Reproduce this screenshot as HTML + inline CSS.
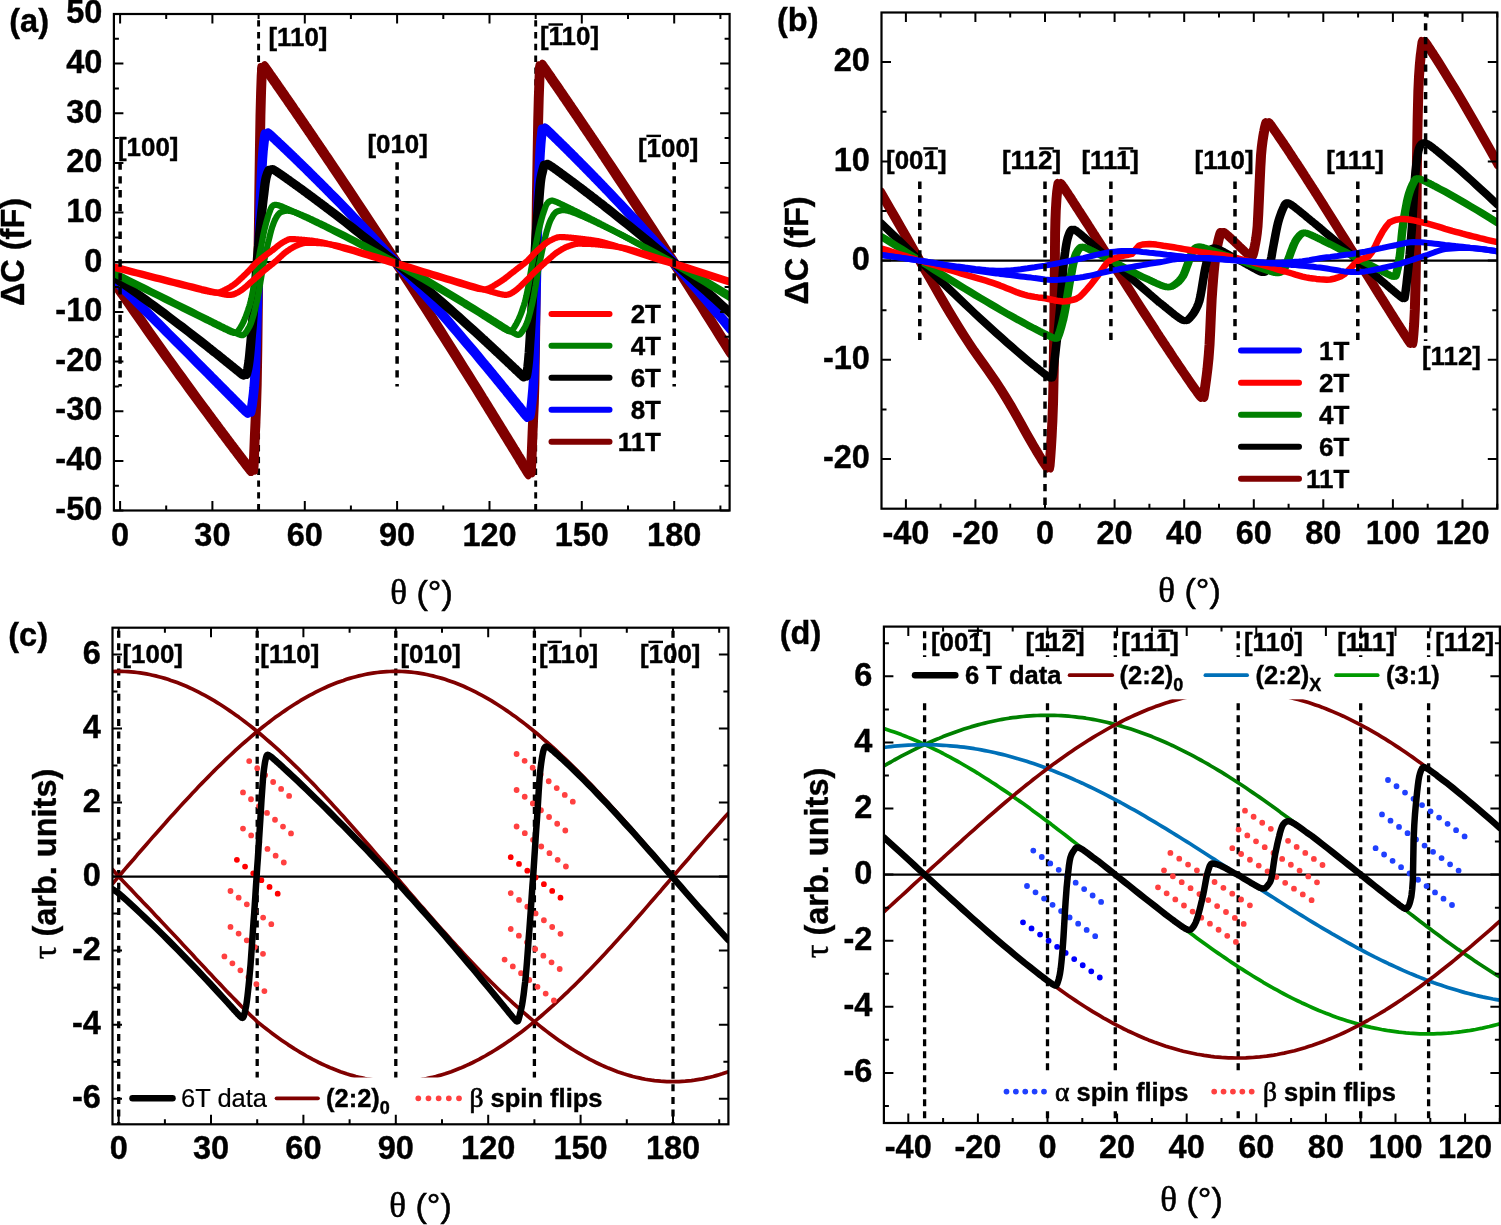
<!DOCTYPE html>
<html lang="en"><head><meta charset="utf-8"><title>Figure</title>
<style>
html,body{margin:0;padding:0;background:#fff}
body{width:1501px;height:1225px;overflow:hidden}
svg{display:block}
</style></head><body>
<svg width="1501" height="1225" viewBox="0 0 1501 1225">
<rect width="1501" height="1225" fill="#fff"/>
<defs><clipPath id="clipA"><rect x="113.9" y="14" width="615.7" height="496.5"/></clipPath><clipPath id="clipB"><rect x="881.5" y="12.5" width="615.8" height="496.2"/></clipPath><clipPath id="clipC"><rect x="112.5" y="627.7" width="615.9" height="496.6"/></clipPath><clipPath id="clipD"><rect x="883.9" y="626.6" width="616" height="496.4"/></clipPath></defs>
<line x1="113.9" y1="262.2" x2="729.6" y2="262.2" stroke="#000" stroke-width="2.2"/>
<line x1="258.6" y1="14" x2="258.6" y2="510.5" stroke="#000" stroke-width="2.9" stroke-dasharray="6.4 5.4" stroke-dashoffset="5.6"/>
<line x1="535.7" y1="14" x2="535.7" y2="510.5" stroke="#000" stroke-width="2.9" stroke-dasharray="6.4 5.4" stroke-dashoffset="5.6"/>
<g clip-path="url(#clipA)">
<path d="M113.9 285.2L118.5 291.9L123.1 298.6L127.8 305.3L132.4 311.9L137 318.5L141.6 325.1L146.2 331.6L150.8 338.1L155.5 344.7L160.1 351.1L164.7 357.6L169.3 364L173.9 370.5L178.5 376.8L183.2 383.2L187.8 389.6L192.4 395.9L197 402.2L201.6 408.5L206.3 414.7L206.9 415.5L207.5 416.4L208.1 417.2L208.7 418L209.3 418.9L209.9 419.7L210.6 420.5L210.9 420.9L211.2 421.4L211.8 422.2L212.4 423L213 423.8L213.6 424.7L214.3 425.5L214.9 426.3L215.5 427.1L216.1 428L216.7 428.8L217.3 429.6L218 430.4L218.6 431.3L219.2 432.1L219.8 432.9L220.1 433.3L220.4 433.7L221 434.6L221.6 435.4L222.3 436.2L222.9 437L223.5 437.8L224.1 438.7L224.7 439.5L225.3 440.3L226 441.1L226.6 441.9L227.2 442.8L227.8 443.6L228.4 444.4L229 445.2L229.3 445.6L229.7 446L230.3 446.8L230.9 447.7L231.5 448.5L232.1 449.3L232.7 450.1L233.3 450.9L234 451.7L234.6 452.5L235.2 453.3L235.8 454.2L236.4 455L237 455.8L237.7 456.6L238.3 457.4L238.6 457.8L238.9 458.2L239.5 459L240.1 459.8L240.7 460.6L241.3 461.4L242 462.2L242.6 463L243.2 463.9L243.8 464.7L244.4 465.5L245 466.3L245.7 467.1L246.3 467.8L246.9 468.6L247.5 469.4L247.8 469.8L248.1 470.2L248.7 471L249.4 471.7L250 472.4L250.6 473L251.2 473L251.8 466.1L252.4 451.5L253 435.6L253.7 420.4L254.3 404.9L254.9 384.5L255.5 348.6L256.1 298.3L256.7 247.6L257.1 220.8L257.4 195.3L258 151.8L258.6 115.9L259.2 93L259.8 76.2L260.4 66.1L261.1 66L261.7 66.6L262.3 67.4L262.9 68.3L263.5 69.1L264.1 70L264.7 70.8L265.4 71.7L266 72.6L266.3 73L266.6 73.5L267.2 74.3L267.8 75.2L268.4 76.1L269.1 77L269.7 77.9L270.3 78.7L270.9 79.6L271.5 80.5L272.1 81.4L272.8 82.3L273.4 83.2L274 84L274.6 84.9L275.2 85.8L275.5 86.3L275.8 86.7L276.4 87.6L277.1 88.5L277.7 89.4L278.3 90.2L278.9 91.1L279.5 92L280.1 92.9L280.8 93.8L281.4 94.7L282 95.6L282.6 96.5L283.2 97.4L283.8 98.2L284.4 99.1L284.8 99.6L285.1 100L285.7 100.9L286.3 101.8L286.9 102.7L287.5 103.6L288.1 104.5L288.8 105.4L289.4 106.3L290 107.2L290.6 108.1L291.2 109L291.8 109.8L292.5 110.7L293.1 111.6L293.7 112.5L294 113L294.3 113.4L294.9 114.3L295.5 115.2L296.1 116.1L296.8 117L297.4 117.9L298 118.8L298.6 119.7L299.2 120.6L299.8 121.5L300.5 122.4L301.1 123.3L301.7 124.2L302.3 125.1L302.9 126L303.2 126.5L303.5 126.9L304.2 127.8L304.8 128.7L305.4 129.6L306 130.5L306.6 131.4L307.2 132.3L307.8 133.2L308.5 134.1L309.1 135L309.7 135.9L310.3 136.8L310.9 137.7L311.5 138.7L312.2 139.6L312.5 140L312.8 140.5L313.4 141.4L314 142.3L314.6 143.2L315.2 144.1L315.8 145L316.5 145.9L317.1 146.8L317.7 147.7L318.3 148.6L318.9 149.5L319.5 150.5L320.2 151.4L320.8 152.3L321.4 153.2L321.7 153.6L322 154.1L322.6 155L323.2 155.9L323.9 156.8L324.5 157.7L325.1 158.6L325.7 159.6L326.3 160.5L326.9 161.4L327.5 162.3L328.2 163.2L328.8 164.1L330.9 167.3L335.6 174.2L340.2 181.1L344.8 188L349.4 194.9L354 201.9L358.6 208.8L363.3 215.8L367.9 222.8L372.5 229.8L377.1 236.9L381.7 243.9L386.3 251L391 258.1L395.6 265.2L400.2 272.3L404.8 279.5L409.4 286.6L414.1 293.8L418.7 301L423.3 308.2L427.9 315.4L432.5 322.7L437.1 330L441.8 337.2L446.4 344.5L451 351.9L455.6 359.2L460.2 366.6L464.8 373.9L469.5 381.3L474.1 388.7L478.7 396.2L483.3 403.6L483.9 404.6L484.6 405.6L485.2 406.6L485.8 407.6L486.4 408.6L487 409.6L487.6 410.6L487.9 411.1L488.2 411.6L488.9 412.6L489.5 413.6L490.1 414.6L490.7 415.6L491.3 416.6L491.9 417.6L492.6 418.6L493.2 419.6L493.8 420.6L494.4 421.6L495 422.6L495.6 423.6L496.2 424.6L496.9 425.6L497.2 426.1L497.5 426.6L498.1 427.6L498.7 428.6L499.3 429.6L499.9 430.6L500.6 431.6L501.2 432.6L501.8 433.6L502.4 434.6L503 435.6L503.6 436.6L504.3 437.6L504.9 438.6L505.5 439.6L506.1 440.6L506.4 441.1L506.7 441.6L507.3 442.6L507.9 443.6L508.6 444.6L509.2 445.6L509.8 446.6L510.4 447.6L511 448.7L511.6 449.7L512.3 450.7L512.9 451.7L513.5 452.7L514.1 453.7L514.7 454.7L515.3 455.7L515.6 456.2L516 456.7L516.6 457.7L517.2 458.7L517.8 459.7L518.4 460.8L519 461.8L519.6 462.8L520.3 463.8L520.9 464.8L521.5 465.8L522.1 466.8L522.7 467.8L523.3 468.8L524 469.8L524.6 470.8L524.9 471.3L525.2 471.8L525.8 472.8L526.4 473.8L527 474.7L527.7 475.6L528.3 476.2L528.9 474.4L529.5 462.6L530.1 448.1L530.7 432.9L531.3 418.8L532 403.3L532.6 382.3L533.2 344.9L533.8 296.6L534.1 273.1L534.4 248.3L535 198.5L535.7 156.9L536.3 121.7L536.9 98.6L537.5 81.9L538.1 67.2L538.7 64.4L539.3 64.9L540 65.7L540.6 66.5L541.2 67.4L541.8 68.2L542.4 69.1L543 70L543.4 70.4L543.7 70.9L544.3 71.8L544.9 72.7L545.5 73.5L546.1 74.4L546.7 75.3L547.4 76.2L548 77.1L548.6 78L549.2 78.9L549.8 79.8L550.4 80.7L551 81.6L551.7 82.5L552.3 83.4L552.6 83.8L552.9 84.3L553.5 85.1L554.1 86L554.7 86.9L555.4 87.8L556 88.7L556.6 89.6L557.2 90.5L557.8 91.4L558.4 92.3L559.1 93.2L559.7 94.1L560.3 95L560.9 95.9L561.5 96.8L561.8 97.3L562.1 97.7L562.7 98.6L563.4 99.5L564 100.4L564.6 101.3L565.2 102.2L565.8 103.1L566.4 104L567.1 104.9L567.7 105.9L568.3 106.8L568.9 107.7L569.5 108.6L570.1 109.5L570.7 110.4L571.1 110.8L571.4 111.3L572 112.2L572.6 113.1L573.2 114L573.8 114.9L574.4 115.8L575.1 116.7L575.7 117.6L576.3 118.5L576.9 119.5L577.5 120.4L578.1 121.3L578.8 122.2L579.4 123.1L580 124L580.3 124.5L580.6 124.9L581.2 125.8L581.8 126.7L582.4 127.6L583.1 128.6L583.7 129.5L584.3 130.4L584.9 131.3L585.5 132.2L586.1 133.1L586.8 134L587.4 135L588 135.9L588.6 136.8L589.2 137.7L589.5 138.2L589.8 138.6L590.5 139.5L591.1 140.4L591.7 141.4L592.3 142.3L592.9 143.2L593.5 144.1L594.1 145L594.8 146L595.4 146.9L596 147.8L596.6 148.7L597.2 149.6L597.8 150.5L598.5 151.5L598.8 151.9L599.1 152.4L599.7 153.3L600.3 154.2L600.9 155.2L601.5 156.1L602.2 157L602.8 157.9L603.4 158.8L604 159.8L604.6 160.7L605.2 161.6L605.8 162.5L608 165.8L612.6 172.7L617.2 179.7L621.9 186.7L626.5 193.7L631.1 200.7L635.7 207.7L640.3 214.8L644.9 221.9L649.6 229L654.2 236.1L658.8 243.2L663.4 250.3L668 257.5L672.6 264.7L677.3 271.9L681.9 279.1L686.5 286.3L691.1 293.6L695.7 300.9L700.4 308.1L705 315.5L709.6 322.8L714.2 330.1L718.8 337.5L723.4 344.9L728.1 352.3L729.6 354.7" fill="none" stroke="#800000" stroke-width="6.2" stroke-linejoin="round" stroke-linecap="round" />
<path d="M113.9 278.1L118.5 284.8L123.1 291.5L127.8 298.2L132.4 304.8L137 311.4L141.6 318L146.2 324.6L150.8 331.2L155.5 337.7L160.1 344.2L164.7 350.7L169.3 357.2L173.9 363.6L178.5 370L183.2 376.4L187.8 382.8L192.4 389.1L197 395.5L201.6 401.8L206.3 408L206.9 408.9L207.5 409.7L208.1 410.5L208.7 411.4L209.3 412.2L209.9 413L210.6 413.9L210.9 414.3L211.2 414.7L211.8 415.5L212.4 416.4L213 417.2L213.6 418L214.3 418.9L214.9 419.7L215.5 420.5L216.1 421.4L216.7 422.2L217.3 423L218 423.8L218.6 424.7L219.2 425.5L219.8 426.3L220.1 426.7L220.4 427.1L221 428L221.6 428.8L222.3 429.6L222.9 430.4L223.5 431.3L224.1 432.1L224.7 432.9L225.3 433.7L226 434.6L226.6 435.4L227.2 436.2L227.8 437L228.4 437.8L229 438.7L229.3 439.1L229.7 439.5L230.3 440.3L230.9 441.1L231.5 441.9L232.1 442.8L232.7 443.6L233.3 444.4L234 445.2L234.6 446L235.2 446.8L235.8 447.7L236.4 448.5L237 449.3L237.7 450.1L238.3 450.9L238.6 451.3L238.9 451.7L239.5 452.5L240.1 453.3L240.7 454.2L241.3 455L242 455.8L242.6 456.6L243.2 457.4L243.8 458.2L244.4 459L245 459.8L245.7 460.6L246.3 461.4L246.9 462.2L247.5 463L247.8 463.4L248.1 463.8L248.7 464.6L249.4 465.4L250 466.2L250.6 467L251.2 467.8L251.8 468.6L252.4 469.4L253 470.1L253.7 470.8L254.3 471.5L254.9 471.6L255.5 465.8L256.1 451.4L256.7 435.6L257.1 427.7L257.4 420.4L258 404.9L258.6 384.5L259.2 348.6L259.8 298.3L260.4 247.6L261.1 195.3L261.7 151.8L262.3 115.8L262.9 93L263.5 76.1L264.1 64.6L264.7 64.2L265.4 64.9L266 65.7L266.3 66.1L266.6 66.5L267.2 67.4L267.8 68.2L268.4 69.1L269.1 70L269.7 70.8L270.3 71.7L270.9 72.6L271.5 73.5L272.1 74.3L272.8 75.2L273.4 76.1L274 77L274.6 77.9L275.2 78.7L275.5 79.2L275.8 79.6L276.4 80.5L277.1 81.4L277.7 82.3L278.3 83.2L278.9 84L279.5 84.9L280.1 85.8L280.8 86.7L281.4 87.6L282 88.5L282.6 89.4L283.2 90.2L283.8 91.1L284.4 92L284.8 92.5L285.1 92.9L285.7 93.8L286.3 94.7L286.9 95.6L287.5 96.5L288.1 97.4L288.8 98.2L289.4 99.1L290 100L290.6 100.9L291.2 101.8L291.8 102.7L292.5 103.6L293.1 104.5L293.7 105.4L294 105.8L294.3 106.3L294.9 107.2L295.5 108.1L296.1 109L296.8 109.8L297.4 110.7L298 111.6L298.6 112.5L299.2 113.4L299.8 114.3L300.5 115.2L301.1 116.1L301.7 117L302.3 117.9L302.9 118.8L303.2 119.3L303.5 119.7L304.2 120.6L304.8 121.5L305.4 122.4L306 123.3L306.6 124.2L307.2 125.1L307.8 126L308.5 126.9L309.1 127.8L309.7 128.7L310.3 129.6L310.9 130.5L311.5 131.4L312.2 132.3L312.5 132.8L312.8 133.2L313.4 134.1L314 135L314.6 135.9L315.2 136.8L315.8 137.7L316.5 138.7L317.1 139.6L317.7 140.5L318.3 141.4L318.9 142.3L319.5 143.2L320.2 144.1L320.8 145L321.4 145.9L321.7 146.4L322 146.8L322.6 147.7L323.2 148.6L323.9 149.5L324.5 150.5L325.1 151.4L325.7 152.3L326.3 153.2L326.9 154.1L327.5 155L328.2 155.9L328.8 156.8L330.9 160L335.6 166.9L340.2 173.7L344.8 180.6L349.4 187.5L354 194.5L358.6 201.4L363.3 208.4L367.9 215.4L372.5 222.4L377.1 229.4L381.7 236.4L386.3 243.5L391 250.5L395.6 257.6L400.2 264.7L404.8 271.8L409.4 279L414.1 286.1L418.7 293.3L423.3 300.5L427.9 307.7L432.5 315L437.1 322.2L441.8 329.5L446.4 336.8L451 344.1L455.6 351.4L460.2 358.7L464.8 366.1L469.5 373.4L474.1 380.8L478.7 388.2L483.3 395.7L483.9 396.7L484.6 397.7L485.2 398.6L485.8 399.6L486.4 400.6L487 401.6L487.6 402.6L487.9 403.1L488.2 403.6L488.9 404.6L489.5 405.6L490.1 406.6L490.7 407.6L491.3 408.6L491.9 409.6L492.6 410.6L493.2 411.6L493.8 412.6L494.4 413.6L495 414.6L495.6 415.6L496.2 416.6L496.9 417.6L497.2 418.1L497.5 418.6L498.1 419.6L498.7 420.6L499.3 421.6L499.9 422.6L500.6 423.6L501.2 424.6L501.8 425.6L502.4 426.6L503 427.6L503.6 428.6L504.3 429.6L504.9 430.6L505.5 431.6L506.1 432.6L506.4 433.1L506.7 433.6L507.3 434.6L507.9 435.6L508.6 436.6L509.2 437.6L509.8 438.6L510.4 439.6L511 440.6L511.6 441.6L512.3 442.6L512.9 443.6L513.5 444.6L514.1 445.6L514.7 446.6L515.3 447.6L515.6 448.1L516 448.6L516.6 449.7L517.2 450.7L517.8 451.7L518.4 452.7L519 453.7L519.6 454.7L520.3 455.7L520.9 456.7L521.5 457.7L522.1 458.7L522.7 459.7L523.3 460.7L524 461.8L524.6 462.8L524.9 463.3L525.2 463.8L525.8 464.8L526.4 465.8L527 466.8L527.7 467.8L528.3 468.8L528.9 469.8L529.5 470.8L530.1 471.7L530.7 472.7L531.3 473.6L532 474.3L532.6 473.3L533.2 462.5L533.8 448.1L534.1 440.5L534.4 432.8L535 418.8L535.7 403.3L536.3 382.3L536.9 344.9L537.5 296.6L538.1 248.3L538.7 198.5L539.3 156.9L540 121.7L540.6 98.6L541.2 81.8L541.8 66.5L542.4 62.7L543 63.2L543.4 63.5L543.7 63.9L544.3 64.8L544.9 65.6L545.5 66.5L546.1 67.3L546.7 68.2L547.4 69.1L548 70L548.6 70.9L549.2 71.8L549.8 72.6L550.4 73.5L551 74.4L551.7 75.3L552.3 76.2L552.6 76.6L552.9 77.1L553.5 78L554.1 78.9L554.7 79.8L555.4 80.7L556 81.6L556.6 82.5L557.2 83.4L557.8 84.2L558.4 85.1L559.1 86L559.7 86.9L560.3 87.8L560.9 88.7L561.5 89.6L561.8 90.1L562.1 90.5L562.7 91.4L563.4 92.3L564 93.2L564.6 94.1L565.2 95L565.8 95.9L566.4 96.8L567.1 97.7L567.7 98.6L568.3 99.5L568.9 100.4L569.5 101.3L570.1 102.2L570.7 103.1L571.1 103.6L571.4 104L572 104.9L572.6 105.9L573.2 106.8L573.8 107.7L574.4 108.6L575.1 109.5L575.7 110.4L576.3 111.3L576.9 112.2L577.5 113.1L578.1 114L578.8 114.9L579.4 115.8L580 116.7L580.3 117.2L580.6 117.6L581.2 118.5L581.8 119.5L582.4 120.4L583.1 121.3L583.7 122.2L584.3 123.1L584.9 124L585.5 124.9L586.1 125.8L586.8 126.7L587.4 127.6L588 128.6L588.6 129.5L589.2 130.4L589.5 130.8L589.8 131.3L590.5 132.2L591.1 133.1L591.7 134L592.3 135L592.9 135.9L593.5 136.8L594.1 137.7L594.8 138.6L595.4 139.5L596 140.4L596.6 141.4L597.2 142.3L597.8 143.2L598.5 144.1L598.8 144.6L599.1 145L599.7 146L600.3 146.9L600.9 147.8L601.5 148.7L602.2 149.6L602.8 150.5L603.4 151.5L604 152.4L604.6 153.3L605.2 154.2L605.8 155.2L608 158.4L612.6 165.3L617.2 172.3L621.9 179.2L626.5 186.2L631.1 193.2L635.7 200.2L640.3 207.3L644.9 214.3L649.6 221.4L654.2 228.5L658.8 235.6L663.4 242.7L668 249.9L672.6 257L677.3 264.2L681.9 271.4L686.5 278.6L691.1 285.9L695.7 293.1L700.4 300.4L705 307.7L709.6 315L714.2 322.3L718.8 329.6L723.4 337L728.1 344.4L729.6 346.8" fill="none" stroke="#800000" stroke-width="6.2" stroke-linejoin="round" stroke-linecap="round" />
<path d="M113.9 281.5L118.5 286.1L123.1 290.7L127.8 295.3L132.4 299.9L137 304.5L141.6 309.2L146.2 313.8L150.8 318.4L155.5 323L160.1 327.6L164.7 332.3L169.3 336.9L173.9 341.5L178.5 346.2L183.2 350.8L187.8 355.4L192.4 360.1L197 364.7L201.6 369.4L206.3 374L206.9 374.6L207.5 375.3L208.1 375.9L208.7 376.5L209.3 377.1L209.9 377.7L210.6 378.4L210.9 378.7L211.2 379L211.8 379.6L212.4 380.2L213 380.8L213.6 381.5L214.3 382.1L214.9 382.7L215.5 383.3L216.1 383.9L216.7 384.6L217.3 385.2L218 385.8L218.6 386.4L219.2 387L219.8 387.6L220.1 388L220.4 388.3L221 388.9L221.6 389.5L222.3 390.1L222.9 390.7L223.5 391.4L224.1 392L224.7 392.6L225.3 393.2L226 393.8L226.6 394.5L227.2 395.1L227.8 395.7L228.4 396.3L229 396.9L229.3 397.3L229.7 397.6L230.3 398.2L230.9 398.8L231.5 399.4L232.1 400L232.7 400.7L233.3 401.3L234 401.9L234.6 402.5L235.2 403.1L235.8 403.7L236.4 404.4L237 405L237.7 405.6L238.3 406.2L238.6 406.5L238.9 406.8L239.5 407.4L240.1 408.1L240.7 408.7L241.3 409.3L242 409.9L242.6 410.5L243.2 411.1L243.8 411.7L244.4 412.3L245 412.8L245.7 413.4L246.3 413.9L246.9 414.4L247.5 414.7L247.8 414.8L248.1 414.7L248.7 413.5L249.4 410.9L250 407.6L250.6 403.5L251.2 398.9L251.8 393.8L252.4 387.9L253 380.3L253.7 368.6L254.3 350.9L254.9 330.6L255.5 310.9L256.1 290.1L256.7 268.6L257.1 258L257.4 247.7L258 226.2L258.6 205.6L259.2 189.1L259.8 175.5L260.4 163.9L261.1 154.6L261.7 147.6L262.3 141.9L262.9 137.2L263.5 133.6L264.1 132.4L264.7 132.4L265.4 132.8L266 133.3L266.3 133.5L266.6 133.8L267.2 134.3L267.8 134.8L268.4 135.4L269.1 136L269.7 136.5L270.3 137.1L270.9 137.7L271.5 138.2L272.1 138.8L272.8 139.4L273.4 139.9L274 140.5L274.6 141.1L275.2 141.7L275.5 142L275.8 142.3L276.4 142.8L277.1 143.4L277.7 144L278.3 144.6L278.9 145.2L279.5 145.7L280.1 146.3L280.8 146.9L281.4 147.5L282 148.1L282.6 148.7L283.2 149.3L283.8 149.8L284.4 150.4L284.8 150.7L285.1 151L285.7 151.6L286.3 152.2L286.9 152.8L287.5 153.4L288.1 154L288.8 154.6L289.4 155.2L290 155.8L290.6 156.3L291.2 156.9L291.8 157.5L292.5 158.1L293.1 158.7L293.7 159.3L294 159.6L294.3 159.9L294.9 160.5L295.5 161.1L296.1 161.7L296.8 162.3L297.4 162.9L298 163.5L298.6 164.1L299.2 164.7L299.8 165.3L300.5 165.9L301.1 166.5L301.7 167.1L302.3 167.7L302.9 168.3L303.2 168.6L303.5 168.9L304.2 169.5L304.8 170.1L305.4 170.7L306 171.3L306.6 172L307.2 172.6L307.8 173.2L308.5 173.8L309.1 174.4L309.7 175L310.3 175.6L310.9 176.2L311.5 176.8L312.2 177.4L312.5 177.7L312.8 178L313.4 178.7L314 179.3L314.6 179.9L315.2 180.5L315.8 181.1L316.5 181.7L317.1 182.3L317.7 183L318.3 183.6L318.9 184.2L319.5 184.8L320.2 185.4L320.8 186L321.4 186.7L321.7 187L322 187.3L322.6 187.9L323.2 188.5L323.9 189.1L324.5 189.7L325.1 190.4L325.7 191L326.3 191.6L326.9 192.2L327.5 192.9L328.2 193.5L328.8 194.1L330.9 196.3L335.6 201L340.2 205.7L344.8 210.5L349.4 215.3L354 220.1L358.6 224.9L363.3 229.8L367.9 234.7L372.5 239.6L377.1 244.6L381.7 249.5L386.3 254.5L391 259.6L395.6 264.6L400.2 269.7L404.8 274.8L409.4 279.9L414.1 285.1L418.7 290.3L423.3 295.5L427.9 300.8L432.5 306L437.1 311.3L441.8 316.6L446.4 322L451 327.4L455.6 332.8L460.2 338.2L464.8 343.7L469.5 349.1L474.1 354.6L478.7 360.2L483.3 365.7L483.9 366.5L484.6 367.2L485.2 368L485.8 368.7L486.4 369.5L487 370.2L487.6 371L487.9 371.3L488.2 371.7L488.9 372.5L489.5 373.2L490.1 373.9L490.7 374.7L491.3 375.4L491.9 376.2L492.6 376.9L493.2 377.7L493.8 378.4L494.4 379.2L495 380L495.6 380.7L496.2 381.5L496.9 382.2L497.2 382.6L497.5 383L498.1 383.7L498.7 384.5L499.3 385.2L499.9 386L500.6 386.7L501.2 387.5L501.8 388.3L502.4 389L503 389.8L503.6 390.5L504.3 391.3L504.9 392L505.5 392.8L506.1 393.6L506.4 393.9L506.7 394.3L507.3 395.1L507.9 395.8L508.6 396.6L509.2 397.4L509.8 398.1L510.4 398.9L511 399.7L511.6 400.4L512.3 401.2L512.9 402L513.5 402.7L514.1 403.5L514.7 404.2L515.3 405L515.6 405.4L516 405.8L516.6 406.5L517.2 407.3L517.8 408.1L518.4 408.8L519 409.6L519.6 410.4L520.3 411.1L520.9 411.9L521.5 412.6L522.1 413.4L522.7 414.2L523.3 414.9L524 415.7L524.6 416.4L524.9 416.8L525.2 417.1L525.8 417.8L526.4 418.4L527 418.8L527.7 418.5L528.3 416.1L528.9 411.8L529.5 407.3L530.1 402L530.7 395.9L531.3 389L532 379.8L532.6 364.2L533.2 340.4L533.8 315.3L534.1 302.6L534.4 289.3L535 262.4L535.7 236L536.3 209.3L536.9 187.9L537.5 171.3L538.1 157.8L538.7 148L539.3 140.7L540 134.6L540.6 129.2L541.2 127.5L541.8 127.6L542.4 128L543 128.5L543.4 128.8L543.7 129L544.3 129.6L544.9 130.2L545.5 130.8L546.1 131.3L546.7 131.9L547.4 132.5L548 133.1L548.6 133.7L549.2 134.3L549.8 134.9L550.4 135.5L551 136.1L551.7 136.7L552.3 137.3L552.6 137.6L552.9 137.9L553.5 138.5L554.1 139.1L554.7 139.7L555.4 140.3L556 140.9L556.6 141.5L557.2 142.1L557.8 142.7L558.4 143.3L559.1 143.9L559.7 144.5L560.3 145.1L560.9 145.7L561.5 146.3L561.8 146.6L562.1 146.9L562.7 147.6L563.4 148.2L564 148.8L564.6 149.4L565.2 150L565.8 150.6L566.4 151.2L567.1 151.8L567.7 152.4L568.3 153.1L568.9 153.7L569.5 154.3L570.1 154.9L570.7 155.5L571.1 155.8L571.4 156.1L572 156.8L572.6 157.4L573.2 158L573.8 158.6L574.4 159.2L575.1 159.9L575.7 160.5L576.3 161.1L576.9 161.7L577.5 162.3L578.1 163L578.8 163.6L579.4 164.2L580 164.8L580.3 165.1L580.6 165.4L581.2 166.1L581.8 166.7L582.4 167.3L583.1 167.9L583.7 168.6L584.3 169.2L584.9 169.8L585.5 170.5L586.1 171.1L586.8 171.7L587.4 172.3L588 173L588.6 173.6L589.2 174.2L589.5 174.6L589.8 174.9L590.5 175.5L591.1 176.1L591.7 176.8L592.3 177.4L592.9 178L593.5 178.7L594.1 179.3L594.8 179.9L595.4 180.6L596 181.2L596.6 181.8L597.2 182.5L597.8 183.1L598.5 183.8L598.8 184.1L599.1 184.4L599.7 185L600.3 185.7L600.9 186.3L601.5 186.9L602.2 187.6L602.8 188.2L603.4 188.9L604 189.5L604.6 190.2L605.2 190.8L605.8 191.4L608 193.7L612.6 198.6L617.2 203.4L621.9 208.3L626.5 213.3L631.1 218.2L635.7 223.2L640.3 228.3L644.9 233.3L649.6 238.4L654.2 243.5L658.8 248.6L663.4 253.7L668 258.9L672.6 264.1L677.3 269.3L681.9 274.6L686.5 279.9L691.1 285.2L695.7 290.5L700.4 295.9L705 301.3L709.6 306.7L714.2 312.2L718.8 317.6L723.4 323.1L728.1 328.7L729.6 330.5" fill="none" stroke="#0000ff" stroke-width="6.2" stroke-linejoin="round" stroke-linecap="round" />
<path d="M113.9 276.9L118.5 281.5L123.1 286.1L127.8 290.7L132.4 295.3L137 299.9L141.6 304.5L146.2 309.2L150.8 313.8L155.5 318.4L160.1 323L164.7 327.6L169.3 332.3L173.9 336.9L178.5 341.5L183.2 346.2L187.8 350.8L192.4 355.4L197 360.1L201.6 364.7L206.3 369.4L206.9 370L207.5 370.6L208.1 371.2L208.7 371.8L209.3 372.5L209.9 373.1L210.6 373.7L210.9 374L211.2 374.3L211.8 374.9L212.4 375.6L213 376.2L213.6 376.8L214.3 377.4L214.9 378L215.5 378.7L216.1 379.3L216.7 379.9L217.3 380.5L218 381.1L218.6 381.8L219.2 382.4L219.8 383L220.1 383.3L220.4 383.6L221 384.2L221.6 384.9L222.3 385.5L222.9 386.1L223.5 386.7L224.1 387.3L224.7 388L225.3 388.6L226 389.2L226.6 389.8L227.2 390.4L227.8 391.1L228.4 391.7L229 392.3L229.3 392.6L229.7 392.9L230.3 393.5L230.9 394.2L231.5 394.8L232.1 395.4L232.7 396L233.3 396.6L234 397.2L234.6 397.9L235.2 398.5L235.8 399.1L236.4 399.7L237 400.3L237.7 401L238.3 401.6L238.6 401.9L238.9 402.2L239.5 402.8L240.1 403.4L240.7 404L241.3 404.7L242 405.3L242.6 405.9L243.2 406.5L243.8 407.1L244.4 407.7L245 408.3L245.7 408.9L246.3 409.5L246.9 410.1L247.5 410.7L247.8 411L248.1 411.3L248.7 411.9L249.4 412.5L250 413L250.6 413.4L251.2 413.7L251.8 413.5L252.4 412L253 409.2L253.7 405.6L254.3 401.2L254.9 396.4L255.5 391L256.1 384.3L256.7 375.4L257.1 368.6L257.4 360.3L258 340.9L258.6 320.7L259.2 300.7L259.8 279.3L260.4 258L261.1 237L261.7 215.6L262.3 196.7L262.9 182.1L263.5 169.5L264.1 159L264.7 150.9L265.4 144.6L266 139.4L266.3 137.1L266.6 134.9L267.2 131.9L267.8 131.3L268.4 131.5L269.1 131.9L269.7 132.4L270.3 132.9L270.9 133.4L271.5 134L272.1 134.5L272.8 135.1L273.4 135.6L274 136.2L274.6 136.8L275.2 137.3L275.5 137.6L275.8 137.9L276.4 138.5L277.1 139.1L277.7 139.6L278.3 140.2L278.9 140.8L279.5 141.4L280.1 142L280.8 142.5L281.4 143.1L282 143.7L282.6 144.3L283.2 144.9L283.8 145.4L284.4 146L284.8 146.3L285.1 146.6L285.7 147.2L286.3 147.8L286.9 148.4L287.5 149L288.1 149.6L288.8 150.1L289.4 150.7L290 151.3L290.6 151.9L291.2 152.5L291.8 153.1L292.5 153.7L293.1 154.3L293.7 154.9L294 155.2L294.3 155.5L294.9 156L295.5 156.6L296.1 157.2L296.8 157.8L297.4 158.4L298 159L298.6 159.6L299.2 160.2L299.8 160.8L300.5 161.4L301.1 162L301.7 162.6L302.3 163.2L302.9 163.8L303.2 164.1L303.5 164.4L304.2 165L304.8 165.6L305.4 166.2L306 166.8L306.6 167.4L307.2 168L307.8 168.6L308.5 169.2L309.1 169.8L309.7 170.4L310.3 171L310.9 171.7L311.5 172.3L312.2 172.9L312.5 173.2L312.8 173.5L313.4 174.1L314 174.7L314.6 175.3L315.2 175.9L315.8 176.5L316.5 177.1L317.1 177.7L317.7 178.4L318.3 179L318.9 179.6L319.5 180.2L320.2 180.8L320.8 181.4L321.4 182L321.7 182.3L322 182.6L322.6 183.3L323.2 183.9L323.9 184.5L324.5 185.1L325.1 185.7L325.7 186.3L326.3 187L326.9 187.6L327.5 188.2L328.2 188.8L328.8 189.4L330.9 191.6L335.6 196.3L340.2 201L344.8 205.7L349.4 210.5L354 215.3L358.6 220.1L363.3 224.9L367.9 229.8L372.5 234.7L377.1 239.6L381.7 244.6L386.3 249.5L391 254.5L395.6 259.6L400.2 264.6L404.8 269.7L409.4 274.8L414.1 279.9L418.7 285.1L423.3 290.3L427.9 295.5L432.5 300.8L437.1 306L441.8 311.3L446.4 316.6L451 322L455.6 327.4L460.2 332.8L464.8 338.2L469.5 343.7L474.1 349.1L478.7 354.6L483.3 360.2L483.9 360.9L484.6 361.7L485.2 362.4L485.8 363.1L486.4 363.9L487 364.6L487.6 365.4L487.9 365.7L488.2 366.1L488.9 366.9L489.5 367.6L490.1 368.3L490.7 369.1L491.3 369.8L491.9 370.6L492.6 371.3L493.2 372.1L493.8 372.8L494.4 373.6L495 374.3L495.6 375.1L496.2 375.8L496.9 376.6L497.2 376.9L497.5 377.3L498.1 378.1L498.7 378.8L499.3 379.6L499.9 380.3L500.6 381.1L501.2 381.8L501.8 382.6L502.4 383.3L503 384.1L503.6 384.9L504.3 385.6L504.9 386.4L505.5 387.1L506.1 387.9L506.4 388.3L506.7 388.6L507.3 389.4L507.9 390.1L508.6 390.9L509.2 391.7L509.8 392.4L510.4 393.2L511 393.9L511.6 394.7L512.3 395.5L512.9 396.2L513.5 397L514.1 397.7L514.7 398.5L515.3 399.3L515.6 399.7L516 400L516.6 400.8L517.2 401.6L517.8 402.3L518.4 403.1L519 403.9L519.6 404.6L520.3 405.4L520.9 406.1L521.5 406.9L522.1 407.7L522.7 408.4L523.3 409.2L524 410L524.6 410.7L524.9 411.1L525.2 411.5L525.8 412.2L526.4 413L527 413.7L527.7 414.5L528.3 415.2L528.9 415.9L529.5 416.6L530.1 417.2L530.7 417.5L531.3 416.8L532 413.8L532.6 409.5L533.2 404.7L533.8 399L534.1 395.9L534.4 392.6L535 384.8L535.7 373.4L536.3 352.9L536.9 327.6L537.5 302.6L538.1 275.8L538.7 249.3L539.3 222.4L540 197.6L540.6 179.2L541.2 164.1L541.8 152.5L542.4 144.1L543 137.5L543.4 134.5L543.7 131.5L544.3 127.1L544.9 126.4L545.5 126.6L546.1 127.1L546.7 127.6L547.4 128.1L548 128.7L548.6 129.3L549.2 129.9L549.8 130.4L550.4 131L551 131.6L551.7 132.2L552.3 132.8L552.6 133.1L552.9 133.4L553.5 134L554.1 134.6L554.7 135.2L555.4 135.8L556 136.4L556.6 137L557.2 137.6L557.8 138.2L558.4 138.8L559.1 139.4L559.7 140L560.3 140.6L560.9 141.2L561.5 141.8L561.8 142.1L562.1 142.4L562.7 143L563.4 143.6L564 144.2L564.6 144.8L565.2 145.4L565.8 146L566.4 146.6L567.1 147.2L567.7 147.9L568.3 148.5L568.9 149.1L569.5 149.7L570.1 150.3L570.7 150.9L571.1 151.2L571.4 151.5L572 152.1L572.6 152.8L573.2 153.4L573.8 154L574.4 154.6L575.1 155.2L575.7 155.8L576.3 156.4L576.9 157.1L577.5 157.7L578.1 158.3L578.8 158.9L579.4 159.5L580 160.2L580.3 160.5L580.6 160.8L581.2 161.4L581.8 162L582.4 162.6L583.1 163.3L583.7 163.9L584.3 164.5L584.9 165.1L585.5 165.8L586.1 166.4L586.8 167L587.4 167.6L588 168.3L588.6 168.9L589.2 169.5L589.5 169.8L589.8 170.1L590.5 170.8L591.1 171.4L591.7 172L592.3 172.7L592.9 173.3L593.5 173.9L594.1 174.6L594.8 175.2L595.4 175.8L596 176.4L596.6 177.1L597.2 177.7L597.8 178.3L598.5 179L598.8 179.3L599.1 179.6L599.7 180.3L600.3 180.9L600.9 181.5L601.5 182.2L602.2 182.8L602.8 183.4L603.4 184.1L604 184.7L604.6 185.3L605.2 186L605.8 186.6L608 188.9L612.6 193.7L617.2 198.6L621.9 203.4L626.5 208.3L631.1 213.3L635.7 218.2L640.3 223.2L644.9 228.3L649.6 233.3L654.2 238.4L658.8 243.5L663.4 248.6L668 253.7L672.6 258.9L677.3 264.1L681.9 269.3L686.5 274.6L691.1 279.9L695.7 285.2L700.4 290.5L705 295.9L709.6 301.3L714.2 306.7L718.8 312.2L723.4 317.6L728.1 323.1L729.6 325" fill="none" stroke="#0000ff" stroke-width="6.2" stroke-linejoin="round" stroke-linecap="round" />
<path d="M113.9 278.7L118.5 281.9L123.1 285.1L127.8 288.4L132.4 291.7L137 295L141.6 298.4L146.2 301.7L150.8 305.1L155.5 308.5L160.1 311.9L164.7 315.4L169.3 318.8L173.9 322.3L178.5 325.8L183.2 329.4L187.8 332.9L192.4 336.5L197 340.1L201.6 343.7L206.3 347.4L206.9 347.9L207.5 348.3L208.1 348.8L208.7 349.3L209.3 349.8L209.9 350.3L210.6 350.8L210.9 351L211.2 351.3L211.8 351.8L212.4 352.3L213 352.8L213.6 353.2L214.3 353.7L214.9 354.2L215.5 354.7L216.1 355.2L216.7 355.7L217.3 356.2L218 356.7L218.6 357.2L219.2 357.7L219.8 358.2L220.1 358.4L220.4 358.7L221 359.2L221.6 359.7L222.3 360.2L222.9 360.7L223.5 361.2L224.1 361.7L224.7 362.2L225.3 362.7L226 363.2L226.6 363.7L227.2 364.2L227.8 364.7L228.4 365.2L229 365.6L229.3 365.9L229.7 366.1L230.3 366.6L230.9 367.1L231.5 367.6L232.1 368.1L232.7 368.6L233.3 369.1L234 369.6L234.6 370.1L235.2 370.6L235.8 371.1L236.4 371.6L237 372.1L237.7 372.6L238.3 373.1L238.6 373.4L238.9 373.6L239.5 374.1L240.1 374.6L240.7 375L241.3 375.5L242 375.9L242.6 376.3L243.2 376.6L243.8 376.6L244.4 376.1L245 374.3L245.7 371.6L246.3 368.6L246.9 365.1L247.5 360.8L247.8 358.1L248.1 355.2L248.7 348.7L249.4 341.7L250 334.5L250.6 327.4L251.2 320L251.8 312.3L252.4 304.5L253 296.7L253.7 288.6L254.3 280.2L254.9 271.9L255.5 264L256.1 256.4L256.7 249.1L257.1 245.5L257.4 242L258 235.1L258.6 228.5L259.2 222.2L259.8 216L260.4 210.1L261.1 204.5L261.7 199.1L262.3 193.6L262.9 188.3L263.5 183.6L264.1 180L264.7 177.2L265.4 175L266 173.2L266.3 172.3L266.6 171.6L267.2 170.4L267.8 169.4L268.4 168.9L269.1 168.8L269.7 168.9L270.3 169.1L270.9 169.4L271.5 169.8L272.1 170.1L272.8 170.5L273.4 170.9L274 171.3L274.6 171.7L275.2 172.1L275.5 172.3L275.8 172.5L276.4 172.9L277.1 173.4L277.7 173.8L278.3 174.2L278.9 174.6L279.5 175.1L280.1 175.5L280.8 175.9L281.4 176.4L282 176.8L282.6 177.2L283.2 177.6L283.8 178.1L284.4 178.5L284.8 178.7L285.1 179L285.7 179.4L286.3 179.8L286.9 180.3L287.5 180.7L288.1 181.1L288.8 181.6L289.4 182L290 182.5L290.6 182.9L291.2 183.3L291.8 183.8L292.5 184.2L293.1 184.7L293.7 185.1L294 185.3L294.3 185.6L294.9 186L295.5 186.5L296.1 186.9L296.8 187.3L297.4 187.8L298 188.2L298.6 188.7L299.2 189.1L299.8 189.6L300.5 190L301.1 190.5L301.7 190.9L302.3 191.4L302.9 191.8L303.2 192.1L303.5 192.3L304.2 192.7L304.8 193.2L305.4 193.6L306 194.1L306.6 194.5L307.2 195L307.8 195.5L308.5 195.9L309.1 196.4L309.7 196.8L310.3 197.3L310.9 197.7L311.5 198.2L312.2 198.6L312.5 198.9L312.8 199.1L313.4 199.6L314 200L314.6 200.5L315.2 200.9L315.8 201.4L316.5 201.9L317.1 202.3L317.7 202.8L318.3 203.2L318.9 203.7L319.5 204.2L320.2 204.6L320.8 205.1L321.4 205.5L321.7 205.8L322 206L322.6 206.5L323.2 206.9L323.9 207.4L324.5 207.9L325.1 208.3L325.7 208.8L326.3 209.3L326.9 209.7L327.5 210.2L328.2 210.7L328.8 211.1L330.9 212.8L335.6 216.3L340.2 219.9L344.8 223.4L349.4 227.1L354 230.7L358.6 234.3L363.3 238L367.9 241.7L372.5 245.4L377.1 249.1L381.7 252.9L386.3 256.7L391 260.5L395.6 264.3L400.2 268.2L404.8 272L409.4 275.9L414.1 279.8L418.7 283.8L423.3 287.7L427.9 291.7L432.5 295.7L437.1 299.7L441.8 303.8L446.4 307.9L451 312L455.6 316.1L460.2 320.2L464.8 324.4L469.5 328.6L474.1 332.8L478.7 337L483.3 341.2L483.9 341.8L484.6 342.4L485.2 342.9L485.8 343.5L486.4 344.1L487 344.7L487.6 345.2L487.9 345.5L488.2 345.8L488.9 346.4L489.5 346.9L490.1 347.5L490.7 348.1L491.3 348.7L491.9 349.2L492.6 349.8L493.2 350.4L493.8 351L494.4 351.5L495 352.1L495.6 352.7L496.2 353.3L496.9 353.8L497.2 354.1L497.5 354.4L498.1 355L498.7 355.6L499.3 356.1L499.9 356.7L500.6 357.3L501.2 357.9L501.8 358.5L502.4 359L503 359.6L503.6 360.2L504.3 360.8L504.9 361.3L505.5 361.9L506.1 362.5L506.4 362.8L506.7 363.1L507.3 363.7L507.9 364.3L508.6 364.8L509.2 365.4L509.8 366L510.4 366.6L511 367.2L511.6 367.8L512.3 368.3L512.9 368.9L513.5 369.5L514.1 370.1L514.7 370.7L515.3 371.3L515.6 371.5L516 371.8L516.6 372.4L517.2 373L517.8 373.6L518.4 374.1L519 374.7L519.6 375.3L520.3 375.9L520.9 376.4L521.5 377L522.1 377.5L522.7 378L523.3 378.4L524 378.5L524.6 377.8L524.9 376.7L525.2 375L525.8 371L526.4 366.4L527 360.5L527.7 352.5L528.3 343.2L528.9 333.5L529.5 323.6L530.1 313.3L530.7 302.6L531.3 291.8L532 280.5L532.6 269.2L533.2 258.6L533.8 248.6L534.1 243.8L534.4 239L535 229.9L535.7 221.2L536.3 213L536.9 205.2L537.5 197.8L538.1 190.3L538.7 183.8L539.3 178.9L540 175.5L540.6 172.7L541.2 170.3L541.8 168L542.4 165.8L543 164.3L543.4 163.9L543.7 163.7L544.3 163.6L544.9 163.8L545.5 164.1L546.1 164.4L546.7 164.8L547.4 165.2L548 165.6L548.6 166L549.2 166.4L549.8 166.8L550.4 167.3L551 167.7L551.7 168.1L552.3 168.6L552.6 168.8L552.9 169L553.5 169.4L554.1 169.9L554.7 170.3L555.4 170.8L556 171.2L556.6 171.7L557.2 172.1L557.8 172.6L558.4 173L559.1 173.5L559.7 173.9L560.3 174.4L560.9 174.8L561.5 175.3L561.8 175.5L562.1 175.7L562.7 176.2L563.4 176.6L564 177.1L564.6 177.5L565.2 178L565.8 178.4L566.4 178.9L567.1 179.4L567.7 179.8L568.3 180.3L568.9 180.7L569.5 181.2L570.1 181.6L570.7 182.1L571.1 182.3L571.4 182.6L572 183L572.6 183.5L573.2 183.9L573.8 184.4L574.4 184.9L575.1 185.3L575.7 185.8L576.3 186.3L576.9 186.7L577.5 187.2L578.1 187.6L578.8 188.1L579.4 188.6L580 189L580.3 189.3L580.6 189.5L581.2 190L581.8 190.4L582.4 190.9L583.1 191.4L583.7 191.8L584.3 192.3L584.9 192.8L585.5 193.3L586.1 193.7L586.8 194.2L587.4 194.7L588 195.1L588.6 195.6L589.2 196.1L589.5 196.3L589.8 196.6L590.5 197L591.1 197.5L591.7 198L592.3 198.5L592.9 198.9L593.5 199.4L594.1 199.9L594.8 200.4L595.4 200.8L596 201.3L596.6 201.8L597.2 202.3L597.8 202.7L598.5 203.2L598.8 203.5L599.1 203.7L599.7 204.2L600.3 204.7L600.9 205.1L601.5 205.6L602.2 206.1L602.8 206.6L603.4 207.1L604 207.5L604.6 208L605.2 208.5L605.8 209L608 210.7L612.6 214.3L617.2 218L621.9 221.7L626.5 225.4L631.1 229.1L635.7 232.9L640.3 236.7L644.9 240.5L649.6 244.3L654.2 248.2L658.8 252L663.4 255.9L668 259.8L672.6 263.8L677.3 267.7L681.9 271.7L686.5 275.7L691.1 279.8L695.7 283.8L700.4 287.9L705 292L709.6 296.1L714.2 300.2L718.8 304.4L723.4 308.6L728.1 312.8L729.6 314.2" fill="none" stroke="#000" stroke-width="6.2" stroke-linejoin="round" stroke-linecap="round" />
<path d="M113.9 275.7L118.5 278.9L123.1 282.1L127.8 285.4L132.4 288.6L137 291.9L141.6 295.2L146.2 298.6L150.8 301.9L155.5 305.3L160.1 308.7L164.7 312.1L169.3 315.6L173.9 319.1L178.5 322.6L183.2 326.1L187.8 329.6L192.4 333.2L197 336.7L201.6 340.3L206.3 344L206.9 344.5L207.5 344.9L208.1 345.4L208.7 345.9L209.3 346.4L209.9 346.9L210.6 347.4L210.9 347.6L211.2 347.9L211.8 348.3L212.4 348.8L213 349.3L213.6 349.8L214.3 350.3L214.9 350.8L215.5 351.3L216.1 351.8L216.7 352.3L217.3 352.8L218 353.2L218.6 353.7L219.2 354.2L219.8 354.7L220.1 355L220.4 355.2L221 355.7L221.6 356.2L222.3 356.7L222.9 357.2L223.5 357.7L224.1 358.2L224.7 358.7L225.3 359.2L226 359.7L226.6 360.2L227.2 360.7L227.8 361.2L228.4 361.7L229 362.2L229.3 362.4L229.7 362.7L230.3 363.2L230.9 363.6L231.5 364.1L232.1 364.6L232.7 365.1L233.3 365.6L234 366.1L234.6 366.6L235.2 367.1L235.8 367.6L236.4 368.1L237 368.6L237.7 369.1L238.3 369.6L238.6 369.9L238.9 370.1L239.5 370.6L240.1 371.1L240.7 371.6L241.3 372.1L242 372.6L242.6 373.1L243.2 373.5L243.8 374L244.4 374.5L245 374.9L245.7 375.3L246.3 375.6L246.9 375.8L247.5 375.4L247.8 374.9L248.1 374L248.7 371.5L249.4 368.6L250 365.1L250.6 360.7L251.2 355.2L251.8 348.7L252.4 341.7L253 334.5L253.7 327.4L254.3 320L254.9 312.3L255.5 304.5L256.1 296.7L256.7 288.6L257.1 284.4L257.4 280.2L258 271.9L258.6 264L259.2 256.4L259.8 249.1L260.4 242L261.1 235.1L261.7 228.5L262.3 222.2L262.9 216L263.5 210.1L264.1 204.5L264.7 199.1L265.4 193.6L266 188.3L266.3 185.9L266.6 183.6L267.2 179.9L267.8 177.2L268.4 174.9L269.1 173.1L269.7 171.4L270.3 170.1L270.9 169L271.5 168.3L272.1 168.1L272.8 168.1L273.4 168.3L274 168.6L274.6 168.9L275.2 169.3L275.5 169.5L275.8 169.7L276.4 170.1L277.1 170.4L277.7 170.8L278.3 171.3L278.9 171.7L279.5 172.1L280.1 172.5L280.8 172.9L281.4 173.3L282 173.8L282.6 174.2L283.2 174.6L283.8 175L284.4 175.5L284.8 175.7L285.1 175.9L285.7 176.3L286.3 176.8L286.9 177.2L287.5 177.6L288.1 178.1L288.8 178.5L289.4 178.9L290 179.4L290.6 179.8L291.2 180.3L291.8 180.7L292.5 181.1L293.1 181.6L293.7 182L294 182.2L294.3 182.5L294.9 182.9L295.5 183.3L296.1 183.8L296.8 184.2L297.4 184.7L298 185.1L298.6 185.6L299.2 186L299.8 186.4L300.5 186.9L301.1 187.3L301.7 187.8L302.3 188.2L302.9 188.7L303.2 188.9L303.5 189.1L304.2 189.6L304.8 190L305.4 190.5L306 190.9L306.6 191.4L307.2 191.8L307.8 192.3L308.5 192.7L309.1 193.2L309.7 193.6L310.3 194.1L310.9 194.5L311.5 195L312.2 195.5L312.5 195.7L312.8 195.9L313.4 196.4L314 196.8L314.6 197.3L315.2 197.7L315.8 198.2L316.5 198.6L317.1 199.1L317.7 199.6L318.3 200L318.9 200.5L319.5 200.9L320.2 201.4L320.8 201.9L321.4 202.3L321.7 202.5L322 202.8L322.6 203.2L323.2 203.7L323.9 204.2L324.5 204.6L325.1 205.1L325.7 205.5L326.3 206L326.9 206.5L327.5 206.9L328.2 207.4L328.8 207.9L330.9 209.5L335.6 213L340.2 216.5L344.8 220.1L349.4 223.7L354 227.3L358.6 230.9L363.3 234.6L367.9 238.2L372.5 241.9L377.1 245.6L381.7 249.4L386.3 253.1L391 256.9L395.6 260.7L400.2 264.6L404.8 268.4L409.4 272.3L414.1 276.2L418.7 280.1L423.3 284L427.9 288L432.5 292L437.1 296L441.8 300L446.4 304.1L451 308.1L455.6 312.2L460.2 316.4L464.8 320.5L469.5 324.7L474.1 328.8L478.7 333L483.3 337.3L483.9 337.8L484.6 338.4L485.2 339L485.8 339.5L486.4 340.1L487 340.7L487.6 341.2L487.9 341.5L488.2 341.8L488.9 342.4L489.5 342.9L490.1 343.5L490.7 344.1L491.3 344.7L491.9 345.2L492.6 345.8L493.2 346.4L493.8 346.9L494.4 347.5L495 348.1L495.6 348.7L496.2 349.2L496.9 349.8L497.2 350.1L497.5 350.4L498.1 351L498.7 351.5L499.3 352.1L499.9 352.7L500.6 353.3L501.2 353.8L501.8 354.4L502.4 355L503 355.6L503.6 356.1L504.3 356.7L504.9 357.3L505.5 357.9L506.1 358.4L506.4 358.7L506.7 359L507.3 359.6L507.9 360.2L508.6 360.8L509.2 361.3L509.8 361.9L510.4 362.5L511 363.1L511.6 363.7L512.3 364.3L512.9 364.8L513.5 365.4L514.1 366L514.7 366.6L515.3 367.2L515.6 367.5L516 367.7L516.6 368.3L517.2 368.9L517.8 369.5L518.4 370.1L519 370.7L519.6 371.2L520.3 371.8L520.9 372.4L521.5 373L522.1 373.5L522.7 374.1L523.3 374.7L524 375.2L524.6 375.8L524.9 376.1L525.2 376.3L525.8 376.8L526.4 377.2L527 377.5L527.7 377L528.3 374.7L528.9 370.9L529.5 366.4L530.1 360.5L530.7 352.5L531.3 343.2L532 333.5L532.6 323.6L533.2 313.3L533.8 302.6L534.1 297.3L534.4 291.8L535 280.5L535.7 269.2L536.3 258.6L536.9 248.6L537.5 239L538.1 229.9L538.7 221.2L539.3 213L540 205.2L540.6 197.8L541.2 190.3L541.8 183.7L542.4 178.9L543 175.5L543.4 174L543.7 172.7L544.3 170.3L544.9 167.9L545.5 165.6L546.1 163.9L546.7 163L547.4 162.8L548 163L548.6 163.2L549.2 163.5L549.8 163.9L550.4 164.3L551 164.7L551.7 165.1L552.3 165.5L552.6 165.7L552.9 165.9L553.5 166.4L554.1 166.8L554.7 167.2L555.4 167.7L556 168.1L556.6 168.5L557.2 169L557.8 169.4L558.4 169.9L559.1 170.3L559.7 170.8L560.3 171.2L560.9 171.7L561.5 172.1L561.8 172.3L562.1 172.6L562.7 173L563.4 173.4L564 173.9L564.6 174.4L565.2 174.8L565.8 175.3L566.4 175.7L567.1 176.2L567.7 176.6L568.3 177.1L568.9 177.5L569.5 178L570.1 178.4L570.7 178.9L571.1 179.1L571.4 179.3L572 179.8L572.6 180.3L573.2 180.7L573.8 181.2L574.4 181.6L575.1 182.1L575.7 182.6L576.3 183L576.9 183.5L577.5 183.9L578.1 184.4L578.8 184.9L579.4 185.3L580 185.8L580.3 186L580.6 186.3L581.2 186.7L581.8 187.2L582.4 187.6L583.1 188.1L583.7 188.6L584.3 189L584.9 189.5L585.5 190L586.1 190.4L586.8 190.9L587.4 191.4L588 191.8L588.6 192.3L589.2 192.8L589.5 193L589.8 193.3L590.5 193.7L591.1 194.2L591.7 194.7L592.3 195.1L592.9 195.6L593.5 196.1L594.1 196.6L594.8 197L595.4 197.5L596 198L596.6 198.5L597.2 198.9L597.8 199.4L598.5 199.9L598.8 200.1L599.1 200.4L599.7 200.8L600.3 201.3L600.9 201.8L601.5 202.3L602.2 202.7L602.8 203.2L603.4 203.7L604 204.2L604.6 204.7L605.2 205.1L605.8 205.6L608 207.3L612.6 210.9L617.2 214.6L621.9 218.2L626.5 221.9L631.1 225.7L635.7 229.4L640.3 233.2L644.9 236.9L649.6 240.7L654.2 244.6L658.8 248.4L663.4 252.3L668 256.2L672.6 260.1L677.3 264L681.9 268L686.5 272L691.1 276L695.7 280L700.4 284.1L705 288.2L709.6 292.3L714.2 296.4L718.8 300.5L723.4 304.7L728.1 308.9L729.6 310.3" fill="none" stroke="#000" stroke-width="6.2" stroke-linejoin="round" stroke-linecap="round" />
<path d="M113.9 274L118.5 276.3L123.1 278.6L127.8 280.9L132.4 283.3L137 285.6L141.6 287.9L146.2 290.2L150.8 292.5L155.5 294.8L160.1 297.1L164.7 299.4L169.3 301.7L173.9 304L178.5 306.3L183.2 308.6L187.8 310.9L192.4 313.2L197 315.5L201.6 317.8L206.3 320.1L206.9 320.4L207.5 320.7L208.1 321L208.7 321.3L209.3 321.6L209.9 321.9L210.6 322.2L210.9 322.4L211.2 322.5L211.8 322.8L212.4 323.1L213 323.5L213.6 323.8L214.3 324.1L214.9 324.4L215.5 324.7L216.1 325L216.7 325.3L217.3 325.6L218 325.9L218.6 326.2L219.2 326.5L219.8 326.8L220.1 326.9L220.4 327.1L221 327.4L221.6 327.7L222.3 328L222.9 328.3L223.5 328.6L224.1 328.9L224.7 329.2L225.3 329.4L226 329.7L226.6 330L227.2 330.3L227.8 330.6L228.4 330.9L229 331.2L229.3 331.3L229.7 331.4L230.3 331.7L230.9 331.9L231.5 332.2L232.1 332.4L232.7 332.6L233.3 332.8L234 333L234.6 333L235.2 333L235.8 332.9L236.4 332.7L237 332.2L237.7 331.5L238.3 330.8L238.6 330.3L238.9 329.9L239.5 329L240.1 328L240.7 327L241.3 325.9L242 324.8L242.6 323.6L243.2 322.4L243.8 321.1L244.4 319.7L245 318.2L245.7 316.7L246.3 315.1L246.9 313.4L247.5 311.7L247.8 310.8L248.1 309.9L248.7 307.9L249.4 305.9L250 303.8L250.6 301.5L251.2 299.1L251.8 296.4L252.4 293.4L253 290.2L253.7 286.8L254.3 283.2L254.9 279.6L255.5 276L256.1 272.4L256.7 268.9L257.1 267.1L257.4 265.5L258 262.2L258.6 259.1L259.2 256L259.8 252.8L260.4 249.6L261.1 246.4L261.7 243.3L262.3 240.2L262.9 237.2L263.5 234.2L264.1 231.4L264.7 228.6L265.4 226.1L266 223.6L266.3 222.5L266.6 221.4L267.2 219.3L267.8 217.2L268.4 215.2L269.1 213.3L269.7 211.6L270.3 209.9L270.9 208.5L271.5 207.3L272.1 206.4L272.8 205.8L273.4 205.3L274 205.1L274.6 204.9L275.2 204.8L275.5 204.8L275.8 204.8L276.4 204.9L277.1 205L277.7 205.1L278.3 205.3L278.9 205.4L279.5 205.7L280.1 205.9L280.8 206.1L281.4 206.3L282 206.6L282.6 206.8L283.2 207.1L283.8 207.4L284.4 207.6L284.8 207.7L285.1 207.9L285.7 208.1L286.3 208.4L286.9 208.7L287.5 209L288.1 209.2L288.8 209.5L289.4 209.8L290 210.1L290.6 210.3L291.2 210.6L291.8 210.9L292.5 211.2L293.1 211.5L293.7 211.8L294 211.9L294.3 212L294.9 212.3L295.5 212.6L296.1 212.9L296.8 213.2L297.4 213.5L298 213.8L298.6 214L299.2 214.3L299.8 214.6L300.5 214.9L301.1 215.2L301.7 215.5L302.3 215.8L302.9 216.1L303.2 216.2L303.5 216.4L304.2 216.7L304.8 217L305.4 217.3L306 217.5L306.6 217.8L307.2 218.1L307.8 218.4L308.5 218.7L309.1 219L309.7 219.3L310.3 219.6L310.9 219.9L311.5 220.2L312.2 220.5L312.5 220.7L312.8 220.8L313.4 221.1L314 221.4L314.6 221.7L315.2 222L315.8 222.3L316.5 222.6L317.1 222.9L317.7 223.2L318.3 223.5L318.9 223.8L319.5 224.1L320.2 224.4L320.8 224.7L321.4 225L321.7 225.2L322 225.3L322.6 225.6L323.2 225.9L323.9 226.2L324.5 226.5L325.1 226.8L325.7 227.1L326.3 227.5L326.9 227.8L327.5 228.1L328.2 228.4L328.8 228.7L330.9 229.8L335.6 232.1L340.2 234.4L344.8 236.8L349.4 239.2L354 241.6L358.6 244L363.3 246.4L367.9 248.9L372.5 251.3L377.1 253.8L381.7 256.3L386.3 258.8L391 261.4L395.6 263.9L400.2 266.5L404.8 269.1L409.4 271.7L414.1 274.4L418.7 277L423.3 279.7L427.9 282.4L432.5 285.1L437.1 287.8L441.8 290.5L446.4 293.3L451 296L455.6 298.8L460.2 301.6L464.8 304.5L469.5 307.3L474.1 310.1L478.7 313L483.3 315.9L483.9 316.3L484.6 316.7L485.2 317.1L485.8 317.4L486.4 317.8L487 318.2L487.6 318.6L487.9 318.8L488.2 319L488.9 319.4L489.5 319.8L490.1 320.2L490.7 320.5L491.3 320.9L491.9 321.3L492.6 321.7L493.2 322.1L493.8 322.5L494.4 322.9L495 323.2L495.6 323.6L496.2 324L496.9 324.4L497.2 324.6L497.5 324.8L498.1 325.2L498.7 325.6L499.3 325.9L499.9 326.3L500.6 326.7L501.2 327.1L501.8 327.5L502.4 327.8L503 328.2L503.6 328.6L504.3 328.9L504.9 329.3L505.5 329.6L506.1 330L506.4 330.1L506.7 330.3L507.3 330.6L507.9 330.9L508.6 331.1L509.2 331.3L509.8 331.4L510.4 331.4L511 331.2L511.6 330.8L512.3 330.2L512.9 329.4L513.5 328.5L514.1 327.6L514.7 326.6L515.3 325.6L515.6 325L516 324.5L516.6 323.4L517.2 322.2L517.8 321L518.4 319.8L519 318.4L519.6 317L520.3 315.5L520.9 313.9L521.5 312.3L522.1 310.6L522.7 308.8L523.3 306.9L524 304.9L524.6 302.8L524.9 301.8L525.2 300.7L525.8 298.3L526.4 295.8L527 292.9L527.7 289.8L528.3 286.5L528.9 283L529.5 279.4L530.1 275.8L530.7 272.2L531.3 268.6L532 265.1L532.6 261.8L533.2 258.7L533.8 255.5L534.1 253.9L534.4 252.3L535 249.1L535.7 246L536.3 242.8L536.9 239.7L537.5 236.6L538.1 233.6L538.7 230.7L539.3 227.9L540 225.2L540.6 222.7L541.2 220.4L541.8 218.2L542.4 216.1L543 214L543.4 213L543.7 212.1L544.3 210.2L544.9 208.4L545.5 206.8L546.1 205.4L546.7 204.2L547.4 203.3L548 202.5L548.6 202L549.2 201.6L549.8 201.2L550.4 200.9L551 200.7L551.7 200.6L552.3 200.7L552.6 200.7L552.9 200.8L553.5 200.9L554.1 201.1L554.7 201.3L555.4 201.6L556 201.8L556.6 202.1L557.2 202.3L557.8 202.6L558.4 202.9L559.1 203.1L559.7 203.4L560.3 203.7L560.9 204L561.5 204.3L561.8 204.4L562.1 204.6L562.7 204.8L563.4 205.1L564 205.4L564.6 205.7L565.2 206L565.8 206.3L566.4 206.6L567.1 206.9L567.7 207.2L568.3 207.5L568.9 207.8L569.5 208.1L570.1 208.4L570.7 208.7L571.1 208.9L571.4 209L572 209.3L572.6 209.6L573.2 209.9L573.8 210.2L574.4 210.5L575.1 210.8L575.7 211.1L576.3 211.4L576.9 211.7L577.5 212L578.1 212.4L578.8 212.7L579.4 213L580 213.3L580.3 213.4L580.6 213.6L581.2 213.9L581.8 214.2L582.4 214.5L583.1 214.8L583.7 215.1L584.3 215.4L584.9 215.8L585.5 216.1L586.1 216.4L586.8 216.7L587.4 217L588 217.3L588.6 217.6L589.2 217.9L589.5 218.1L589.8 218.3L590.5 218.6L591.1 218.9L591.7 219.2L592.3 219.5L592.9 219.8L593.5 220.1L594.1 220.5L594.8 220.8L595.4 221.1L596 221.4L596.6 221.7L597.2 222L597.8 222.4L598.5 222.7L598.8 222.8L599.1 223L599.7 223.3L600.3 223.6L600.9 224L601.5 224.3L602.2 224.6L602.8 224.9L603.4 225.2L604 225.6L604.6 225.9L605.2 226.2L605.8 226.5L608 227.7L612.6 230.1L617.2 232.6L621.9 235L626.5 237.5L631.1 240L635.7 242.6L640.3 245.1L644.9 247.7L649.6 250.3L654.2 252.9L658.8 255.5L663.4 258.1L668 260.8L672.6 263.4L677.3 266.1L681.9 268.8L686.5 271.6L691.1 274.3L695.7 277.1L700.4 279.9L705 282.7L709.6 285.5L714.2 288.3L718.8 291.2L723.4 294L728.1 296.9L729.6 297.9" fill="none" stroke="#008000" stroke-width="6.2" stroke-linejoin="round" stroke-linecap="round" />
<path d="M113.9 272.4L118.5 274.7L123.1 277L127.8 279.4L132.4 281.7L137 284L141.6 286.3L146.2 288.6L150.8 290.9L155.5 293.2L160.1 295.5L164.7 297.8L169.3 300.1L173.9 302.4L178.5 304.7L183.2 307L187.8 309.3L192.4 311.6L197 313.9L201.6 316.2L206.3 318.5L206.9 318.8L207.5 319.1L208.1 319.4L208.7 319.7L209.3 320.1L209.9 320.4L210.6 320.7L210.9 320.8L211.2 321L211.8 321.3L212.4 321.6L213 321.9L213.6 322.2L214.3 322.5L214.9 322.8L215.5 323.1L216.1 323.4L216.7 323.7L217.3 324L218 324.3L218.6 324.6L219.2 324.9L219.8 325.3L220.1 325.4L220.4 325.6L221 325.9L221.6 326.2L222.3 326.5L222.9 326.8L223.5 327.1L224.1 327.4L224.7 327.7L225.3 328L226 328.3L226.6 328.6L227.2 328.9L227.8 329.2L228.4 329.5L229 329.8L229.3 329.9L229.7 330.1L230.3 330.4L230.9 330.7L231.5 331L232.1 331.3L232.7 331.6L233.3 331.9L234 332.2L234.6 332.5L235.2 332.7L235.8 333L236.4 333.3L237 333.6L237.7 333.9L238.3 334.1L238.6 334.2L238.9 334.4L239.5 334.6L240.1 334.8L240.7 335L241.3 335.1L242 335.2L242.6 335.2L243.2 335L243.8 334.6L244.4 334.1L245 333.4L245.7 332.6L246.3 331.8L246.9 330.9L247.5 329.9L247.8 329.4L248.1 328.9L248.7 327.8L249.4 326.7L250 325.4L250.6 324L251.2 322.5L251.8 320.8L252.4 318.9L253 316.8L253.7 314.6L254.3 312.3L254.9 309.9L255.5 307.3L256.1 304.7L256.7 302L257.1 300.7L257.4 299.3L258 296.2L258.6 292.9L259.2 289.4L259.8 285.7L260.4 281.9L261.1 278.2L261.7 274.4L262.3 270.8L262.9 267.4L263.5 264.2L264.1 261.2L264.7 258.3L265.4 255.4L266 252.5L266.3 251.1L266.6 249.7L267.2 246.9L267.8 244.1L268.4 241.4L269.1 238.8L269.7 236.2L270.3 233.8L270.9 231.5L271.5 229.3L272.1 227.3L272.8 225.4L273.4 223.7L274 222.1L274.6 220.7L275.2 219.5L275.5 218.8L275.8 218.3L276.4 217.1L277.1 216.1L277.7 215.2L278.3 214.4L278.9 213.7L279.5 213.1L280.1 212.6L280.8 212.2L281.4 211.9L282 211.7L282.6 211.5L283.2 211.3L283.8 211.2L284.4 211L284.8 211L285.1 210.9L285.7 210.8L286.3 210.8L286.9 210.7L287.5 210.7L288.1 210.8L288.8 210.8L289.4 210.9L290 211L290.6 211.1L291.2 211.3L291.8 211.4L292.5 211.6L293.1 211.7L293.7 211.9L294 212L294.3 212.1L294.9 212.3L295.5 212.5L296.1 212.8L296.8 213L297.4 213.2L298 213.4L298.6 213.7L299.2 213.9L299.8 214.2L300.5 214.4L301.1 214.7L301.7 214.9L302.3 215.2L302.9 215.4L303.2 215.6L303.5 215.7L304.2 215.9L304.8 216.2L305.4 216.5L306 216.7L306.6 217L307.2 217.3L307.8 217.6L308.5 217.8L309.1 218.1L309.7 218.4L310.3 218.7L310.9 219L311.5 219.2L312.2 219.5L312.5 219.7L312.8 219.8L313.4 220.1L314 220.4L314.6 220.7L315.2 220.9L315.8 221.2L316.5 221.5L317.1 221.8L317.7 222.1L318.3 222.4L318.9 222.7L319.5 223L320.2 223.3L320.8 223.5L321.4 223.8L321.7 224L322 224.1L322.6 224.4L323.2 224.7L323.9 225L324.5 225.3L325.1 225.6L325.7 225.9L326.3 226.2L326.9 226.5L327.5 226.8L328.2 227.1L328.8 227.4L330.9 228.5L335.6 230.7L340.2 233L344.8 235.3L349.4 237.7L354 240.1L358.6 242.4L363.3 244.8L367.9 247.3L372.5 249.7L377.1 252.2L381.7 254.7L386.3 257.2L391 259.7L395.6 262.2L400.2 264.8L404.8 267.3L409.4 269.9L414.1 272.5L418.7 275.2L423.3 277.8L427.9 280.5L432.5 283.2L437.1 285.9L441.8 288.6L446.4 291.3L451 294.1L455.6 296.9L460.2 299.6L464.8 302.5L469.5 305.3L474.1 308.1L478.7 311L483.3 313.9L483.9 314.2L484.6 314.6L485.2 315L485.8 315.4L486.4 315.8L487 316.2L487.6 316.6L487.9 316.7L488.2 316.9L488.9 317.3L489.5 317.7L490.1 318.1L490.7 318.5L491.3 318.9L491.9 319.3L492.6 319.7L493.2 320L493.8 320.4L494.4 320.8L495 321.2L495.6 321.6L496.2 322L496.9 322.4L497.2 322.6L497.5 322.8L498.1 323.2L498.7 323.5L499.3 323.9L499.9 324.3L500.6 324.7L501.2 325.1L501.8 325.5L502.4 325.9L503 326.3L503.6 326.7L504.3 327.1L504.9 327.4L505.5 327.8L506.1 328.2L506.4 328.4L506.7 328.6L507.3 329L507.9 329.4L508.6 329.8L509.2 330.2L509.8 330.5L510.4 330.9L511 331.3L511.6 331.7L512.3 332.1L512.9 332.4L513.5 332.8L514.1 333.2L514.7 333.5L515.3 333.8L515.6 334L516 334.2L516.6 334.4L517.2 334.7L517.8 334.9L518.4 334.9L519 334.8L519.6 334.5L520.3 334L520.9 333.3L521.5 332.6L522.1 331.7L522.7 330.8L523.3 329.9L524 328.9L524.6 327.8L524.9 327.2L525.2 326.6L525.8 325.3L526.4 323.9L527 322.4L527.7 320.7L528.3 318.8L528.9 316.7L529.5 314.5L530.1 312.2L530.7 309.8L531.3 307.2L532 304.6L532.6 301.9L533.2 299.2L533.8 296.1L534.1 294.5L534.4 292.8L535 289.2L535.7 285.6L536.3 281.8L536.9 278L537.5 274.3L538.1 270.7L538.7 267.3L539.3 264L540 261.1L540.6 258.2L541.2 255.3L541.8 252.4L542.4 249.5L543 246.7L543.4 245.3L543.7 243.9L544.3 241.2L544.9 238.6L545.5 236.1L546.1 233.6L546.7 231.3L547.4 229.1L548 227.1L548.6 225.2L549.2 223.5L549.8 221.9L550.4 220.5L551 219.2L551.7 218L552.3 216.9L552.6 216.3L552.9 215.8L553.5 214.9L554.1 214.1L554.7 213.4L555.4 212.7L556 212.2L556.6 211.8L557.2 211.5L557.8 211.3L558.4 211.1L559.1 210.9L559.7 210.7L560.3 210.5L560.9 210.4L561.5 210.3L561.8 210.2L562.1 210.2L562.7 210.2L563.4 210.1L564 210.2L564.6 210.2L565.2 210.3L565.8 210.3L566.4 210.4L567.1 210.6L567.7 210.7L568.3 210.9L568.9 211L569.5 211.2L570.1 211.4L570.7 211.6L571.1 211.7L571.4 211.8L572 212L572.6 212.2L573.2 212.4L573.8 212.7L574.4 212.9L575.1 213.1L575.7 213.4L576.3 213.6L576.9 213.9L577.5 214.1L578.1 214.4L578.8 214.6L579.4 214.9L580 215.2L580.3 215.3L580.6 215.4L581.2 215.7L581.8 215.9L582.4 216.2L583.1 216.5L583.7 216.8L584.3 217L584.9 217.3L585.5 217.6L586.1 217.9L586.8 218.1L587.4 218.4L588 218.7L588.6 219L589.2 219.3L589.5 219.4L589.8 219.6L590.5 219.8L591.1 220.1L591.7 220.4L592.3 220.7L592.9 221L593.5 221.3L594.1 221.6L594.8 221.9L595.4 222.1L596 222.4L596.6 222.7L597.2 223L597.8 223.3L598.5 223.6L598.8 223.8L599.1 223.9L599.7 224.2L600.3 224.5L600.9 224.8L601.5 225.1L602.2 225.4L602.8 225.7L603.4 226L604 226.3L604.6 226.6L605.2 226.9L605.8 227.2L608 228.2L612.6 230.5L617.2 232.8L621.9 235.1L626.5 237.5L631.1 239.8L635.7 242.2L640.3 244.6L644.9 247.1L649.6 249.5L654.2 252L658.8 254.5L663.4 257L668 259.5L672.6 262L677.3 264.6L681.9 267.2L686.5 269.8L691.1 272.4L695.7 275L700.4 277.7L705 280.3L709.6 283L714.2 285.7L718.8 288.4L723.4 291.2L728.1 293.9L729.6 294.9" fill="none" stroke="#008000" stroke-width="6.2" stroke-linejoin="round" stroke-linecap="round" />
<path d="M113.9 267.7L118.5 268.9L123.1 270.1L127.8 271.3L132.4 272.5L137 273.6L141.6 274.8L146.2 276L150.8 277.2L155.5 278.4L160.1 279.6L164.7 280.8L169.3 281.9L173.9 283.1L178.5 284.3L183.2 285.5L187.8 286.6L192.4 287.8L197 288.9L201.6 290.1L206.3 291.1L206.9 291.3L207.5 291.4L208.1 291.5L208.7 291.7L209.3 291.8L209.9 291.9L210.6 292L210.9 292.1L211.2 292.1L211.8 292.2L212.4 292.3L213 292.4L213.6 292.5L214.3 292.6L214.9 292.6L215.5 292.7L216.1 292.7L216.7 292.7L217.3 292.6L218 292.6L218.6 292.4L219.2 292.3L219.8 292.1L220.1 292.1L220.4 291.9L221 291.7L221.6 291.5L222.3 291.2L222.9 290.9L223.5 290.6L224.1 290.3L224.7 290L225.3 289.7L226 289.4L226.6 289L227.2 288.7L227.8 288.4L228.4 288L229 287.7L229.3 287.5L229.7 287.4L230.3 287L230.9 286.6L231.5 286.2L232.1 285.8L232.7 285.4L233.3 285L234 284.5L234.6 284.1L235.2 283.6L235.8 283.1L236.4 282.6L237 282.1L237.7 281.5L238.3 281L238.6 280.7L238.9 280.4L239.5 279.9L240.1 279.3L240.7 278.7L241.3 278.2L242 277.6L242.6 277L243.2 276.4L243.8 275.8L244.4 275.2L245 274.6L245.7 274L246.3 273.4L246.9 272.8L247.5 272.2L247.8 271.9L248.1 271.5L248.7 270.9L249.4 270.2L250 269.5L250.6 268.9L251.2 268.2L251.8 267.5L252.4 266.8L253 266.2L253.7 265.5L254.3 264.9L254.9 264.2L255.5 263.6L256.1 263L256.7 262.4L257.1 262.2L257.4 261.9L258 261.3L258.6 260.8L259.2 260.3L259.8 259.8L260.4 259.3L261.1 258.8L261.7 258.3L262.3 257.8L262.9 257.3L263.5 256.8L264.1 256.4L264.7 255.9L265.4 255.4L266 255L266.3 254.7L266.6 254.5L267.2 254.1L267.8 253.6L268.4 253.2L269.1 252.7L269.7 252.3L270.3 251.8L270.9 251.3L271.5 250.9L272.1 250.4L272.8 250L273.4 249.5L274 249L274.6 248.5L275.2 248.1L275.5 247.8L275.8 247.6L276.4 247L277.1 246.5L277.7 246L278.3 245.6L278.9 245.1L279.5 244.6L280.1 244.1L280.8 243.7L281.4 243.3L282 242.9L282.6 242.5L283.2 242.2L283.8 241.8L284.4 241.5L284.8 241.3L285.1 241.2L285.7 240.8L286.3 240.5L286.9 240.2L287.5 239.9L288.1 239.6L288.8 239.4L289.4 239.2L290 239.1L290.6 239.1L291.2 239.1L291.8 239.1L292.5 239.1L293.1 239.1L293.7 239.1L294 239.1L294.3 239.2L294.9 239.2L295.5 239.2L296.1 239.3L296.8 239.3L297.4 239.4L298 239.4L298.6 239.5L299.2 239.5L299.8 239.6L300.5 239.6L301.1 239.7L301.7 239.7L302.3 239.8L302.9 239.8L303.2 239.9L303.5 239.9L304.2 239.9L304.8 240L305.4 240L306 240.1L306.6 240.1L307.2 240.2L307.8 240.3L308.5 240.3L309.1 240.4L309.7 240.5L310.3 240.5L310.9 240.6L311.5 240.7L312.2 240.7L312.5 240.8L312.8 240.8L313.4 240.9L314 241L314.6 241.1L315.2 241.2L315.8 241.3L316.5 241.3L317.1 241.4L317.7 241.6L318.3 241.7L318.9 241.8L319.5 241.9L320.2 242L320.8 242.1L321.4 242.3L321.7 242.3L322 242.4L322.6 242.5L323.2 242.7L323.9 242.8L324.5 243L325.1 243.1L325.7 243.3L326.3 243.4L326.9 243.6L327.5 243.7L328.2 243.9L328.8 244.1L330.9 244.6L335.6 246L340.2 247.3L344.8 248.7L349.4 250L354 251.4L358.6 252.8L363.3 254.2L367.9 255.6L372.5 257L377.1 258.4L381.7 259.8L386.3 261.2L391 262.7L395.6 264.1L400.2 265.5L404.8 266.9L409.4 268.3L414.1 269.7L418.7 271.1L423.3 272.5L427.9 273.9L432.5 275.3L437.1 276.7L441.8 278.1L446.4 279.5L451 280.9L455.6 282.3L460.2 283.7L464.8 285.1L469.5 286.4L474.1 287.7L478.7 288.9L483.3 289.5L483.9 289.5L484.6 289.5L485.2 289.5L485.8 289.4L486.4 289.2L487 289L487.6 288.8L487.9 288.7L488.2 288.6L488.9 288.3L489.5 288.1L490.1 287.8L490.7 287.4L491.3 287.1L491.9 286.8L492.6 286.4L493.2 286.1L493.8 285.7L494.4 285.3L495 285L495.6 284.6L496.2 284.2L496.9 283.8L497.2 283.7L497.5 283.5L498.1 283.1L498.7 282.7L499.3 282.3L499.9 281.9L500.6 281.5L501.2 281.1L501.8 280.7L502.4 280.3L503 279.8L503.6 279.4L504.3 279L504.9 278.5L505.5 278L506.1 277.6L506.4 277.3L506.7 277.1L507.3 276.6L507.9 276.2L508.6 275.7L509.2 275.2L509.8 274.7L510.4 274.2L511 273.7L511.6 273.2L512.3 272.7L512.9 272.2L513.5 271.8L514.1 271.3L514.7 270.8L515.3 270.3L515.6 270.1L516 269.8L516.6 269.3L517.2 268.9L517.8 268.4L518.4 268L519 267.5L519.6 267L520.3 266.6L520.9 266.1L521.5 265.6L522.1 265.2L522.7 264.7L523.3 264.2L524 263.7L524.6 263.2L524.9 263L525.2 262.7L525.8 262.2L526.4 261.6L527 261.1L527.7 260.5L528.3 259.9L528.9 259.3L529.5 258.6L530.1 258L530.7 257.4L531.3 256.7L532 256.1L532.6 255.4L533.2 254.8L533.8 254.1L534.1 253.8L534.4 253.5L535 252.8L535.7 252.2L536.3 251.6L536.9 251L537.5 250.4L538.1 249.9L538.7 249.3L539.3 248.8L540 248.2L540.6 247.7L541.2 247.1L541.8 246.6L542.4 246.1L543 245.5L543.4 245.3L543.7 245L544.3 244.5L544.9 244L545.5 243.5L546.1 243L546.7 242.6L547.4 242.2L548 241.8L548.6 241.4L549.2 241.1L549.8 240.8L550.4 240.5L551 240.1L551.7 239.8L552.3 239.5L552.6 239.4L552.9 239.2L553.5 238.9L554.1 238.6L554.7 238.4L555.4 238.1L556 237.9L556.6 237.7L557.2 237.5L557.8 237.3L558.4 237.2L559.1 237.1L559.7 237L560.3 237L560.9 237L561.5 237.1L561.8 237.1L562.1 237.1L562.7 237.1L563.4 237.1L564 237.2L564.6 237.2L565.2 237.2L565.8 237.3L566.4 237.3L567.1 237.4L567.7 237.4L568.3 237.5L568.9 237.5L569.5 237.6L570.1 237.6L570.7 237.7L571.1 237.7L571.4 237.8L572 237.8L572.6 237.9L573.2 237.9L573.8 238L574.4 238L575.1 238.1L575.7 238.1L576.3 238.2L576.9 238.3L577.5 238.3L578.1 238.4L578.8 238.5L579.4 238.5L580 238.6L580.3 238.7L580.6 238.7L581.2 238.8L581.8 238.8L582.4 238.9L583.1 239L583.7 239.1L584.3 239.1L584.9 239.2L585.5 239.3L586.1 239.4L586.8 239.5L587.4 239.5L588 239.6L588.6 239.7L589.2 239.8L589.5 239.8L589.8 239.9L590.5 239.9L591.1 240L591.7 240.1L592.3 240.2L592.9 240.3L593.5 240.4L594.1 240.5L594.8 240.6L595.4 240.7L596 240.8L596.6 240.9L597.2 241L597.8 241.1L598.5 241.3L598.8 241.3L599.1 241.4L599.7 241.5L600.3 241.7L600.9 241.8L601.5 242L602.2 242.1L602.8 242.3L603.4 242.4L604 242.6L604.6 242.7L605.2 242.9L605.8 243.1L608 243.7L612.6 245L617.2 246.5L621.9 247.9L626.5 249.3L631.1 250.8L635.7 252.3L640.3 253.8L644.9 255.2L649.6 256.7L654.2 258.2L658.8 259.7L663.4 261.2L668 262.6L672.6 264.1L677.3 265.6L681.9 267.1L686.5 268.6L691.1 270.1L695.7 271.5L700.4 273L705 274.5L709.6 276L714.2 277.5L718.8 279L723.4 280.5L728.1 282L729.6 282.5" fill="none" stroke="#ff0000" stroke-width="6.2" stroke-linejoin="round" stroke-linecap="round" />
<path d="M113.9 266.5L118.5 267.6L123.1 268.8L127.8 270L132.4 271.2L137 272.4L141.6 273.6L146.2 274.8L150.8 276L155.5 277.2L160.1 278.3L164.7 279.5L169.3 280.7L173.9 281.9L178.5 283.1L183.2 284.3L187.8 285.4L192.4 286.6L197 287.8L201.6 289L206.3 290.1L206.9 290.3L207.5 290.4L208.1 290.6L208.7 290.8L209.3 290.9L209.9 291.1L210.6 291.2L210.9 291.3L211.2 291.4L211.8 291.5L212.4 291.7L213 291.8L213.6 292L214.3 292.1L214.9 292.3L215.5 292.4L216.1 292.6L216.7 292.7L217.3 292.9L218 293L218.6 293.1L219.2 293.3L219.8 293.4L220.1 293.5L220.4 293.6L221 293.7L221.6 293.8L222.3 294L222.9 294.1L223.5 294.2L224.1 294.3L224.7 294.5L225.3 294.6L226 294.7L226.6 294.8L227.2 294.8L227.8 294.9L228.4 294.9L229 295L229.3 295L229.7 295L230.3 294.9L230.9 294.9L231.5 294.8L232.1 294.7L232.7 294.5L233.3 294.4L234 294.2L234.6 293.9L235.2 293.7L235.8 293.4L236.4 293.1L237 292.8L237.7 292.5L238.3 292.2L238.6 292L238.9 291.8L239.5 291.4L240.1 291.1L240.7 290.7L241.3 290.2L242 289.8L242.6 289.3L243.2 288.8L243.8 288.4L244.4 287.9L245 287.4L245.7 286.8L246.3 286.3L246.9 285.8L247.5 285.2L247.8 285L248.1 284.7L248.7 284.1L249.4 283.6L250 283L250.6 282.5L251.2 281.9L251.8 281.4L252.4 280.9L253 280.3L253.7 279.8L254.3 279.3L254.9 278.7L255.5 278.2L256.1 277.6L256.7 277.1L257.1 276.8L257.4 276.6L258 276L258.6 275.5L259.2 274.9L259.8 274.4L260.4 273.8L261.1 273.3L261.7 272.7L262.3 272.2L262.9 271.7L263.5 271.1L264.1 270.6L264.7 270.1L265.4 269.6L266 269.1L266.3 268.8L266.6 268.6L267.2 268.1L267.8 267.6L268.4 267.1L269.1 266.6L269.7 266.2L270.3 265.7L270.9 265.2L271.5 264.7L272.1 264.2L272.8 263.7L273.4 263.2L274 262.7L274.6 262.2L275.2 261.7L275.5 261.4L275.8 261.1L276.4 260.6L277.1 260L277.7 259.4L278.3 258.9L278.9 258.3L279.5 257.7L280.1 257.1L280.8 256.5L281.4 256L282 255.4L282.6 254.8L283.2 254.3L283.8 253.7L284.4 253.2L284.8 253L285.1 252.7L285.7 252.2L286.3 251.8L286.9 251.4L287.5 250.9L288.1 250.5L288.8 250.1L289.4 249.7L290 249.2L290.6 248.8L291.2 248.5L291.8 248.1L292.5 247.7L293.1 247.3L293.7 247L294 246.8L294.3 246.7L294.9 246.4L295.5 246.1L296.1 245.8L296.8 245.5L297.4 245.3L298 245.1L298.6 244.8L299.2 244.6L299.8 244.4L300.5 244.1L301.1 243.9L301.7 243.7L302.3 243.5L302.9 243.3L303.2 243.2L303.5 243.2L304.2 243L304.8 242.9L305.4 242.8L306 242.8L306.6 242.8L307.2 242.8L307.8 242.8L308.5 242.8L309.1 242.8L309.7 242.8L310.3 242.8L310.9 242.9L311.5 242.9L312.2 242.9L312.5 242.9L312.8 242.9L313.4 242.9L314 243L314.6 243L315.2 243L315.8 243L316.5 243L317.1 243.1L317.7 243.1L318.3 243.1L318.9 243.2L319.5 243.2L320.2 243.2L320.8 243.3L321.4 243.3L321.7 243.3L322 243.4L322.6 243.4L323.2 243.5L323.9 243.5L324.5 243.6L325.1 243.7L325.7 243.7L326.3 243.8L326.9 243.9L327.5 244L328.2 244.1L328.8 244.2L330.9 244.5L335.6 245.4L340.2 246.4L344.8 247.6L349.4 248.8L354 250.1L358.6 251.5L363.3 252.9L367.9 254.2L372.5 255.6L377.1 257L381.7 258.4L386.3 259.8L391 261.2L395.6 262.6L400.2 264L404.8 265.4L409.4 266.8L414.1 268.2L418.7 269.6L423.3 271.1L427.9 272.5L432.5 273.9L437.1 275.3L441.8 276.7L446.4 278.1L451 279.5L455.6 280.9L460.2 282.3L464.8 283.7L469.5 285.1L474.1 286.5L478.7 287.9L483.3 289.3L483.9 289.5L484.6 289.7L485.2 289.8L485.8 290L486.4 290.2L487 290.4L487.6 290.6L487.9 290.7L488.2 290.8L488.9 290.9L489.5 291.1L490.1 291.3L490.7 291.5L491.3 291.7L491.9 291.8L492.6 292L493.2 292.2L493.8 292.4L494.4 292.5L495 292.7L495.6 292.9L496.2 293L496.9 293.2L497.2 293.3L497.5 293.4L498.1 293.5L498.7 293.7L499.3 293.9L499.9 294L500.6 294.1L501.2 294.3L501.8 294.4L502.4 294.5L503 294.6L503.6 294.7L504.3 294.8L504.9 294.8L505.5 294.8L506.1 294.8L506.4 294.8L506.7 294.8L507.3 294.7L507.9 294.6L508.6 294.4L509.2 294.2L509.8 293.9L510.4 293.7L511 293.4L511.6 293L512.3 292.7L512.9 292.3L513.5 291.9L514.1 291.5L514.7 291.1L515.3 290.6L515.6 290.4L516 290.2L516.6 289.7L517.2 289.1L517.8 288.6L518.4 288.1L519 287.5L519.6 286.9L520.3 286.4L520.9 285.8L521.5 285.2L522.1 284.6L522.7 284L523.3 283.4L524 282.8L524.6 282.2L524.9 281.9L525.2 281.6L525.8 281L526.4 280.4L527 279.8L527.7 279.2L528.3 278.6L528.9 277.9L529.5 277.3L530.1 276.7L530.7 276L531.3 275.4L532 274.8L532.6 274.1L533.2 273.5L533.8 272.9L534.1 272.6L534.4 272.3L535 271.7L535.7 271.1L536.3 270.5L536.9 269.9L537.5 269.4L538.1 268.8L538.7 268.2L539.3 267.7L540 267.1L540.6 266.6L541.2 266L541.8 265.5L542.4 264.9L543 264.4L543.4 264.1L543.7 263.8L544.3 263.3L544.9 262.7L545.5 262.2L546.1 261.7L546.7 261.1L547.4 260.6L548 260L548.6 259.4L549.2 258.9L549.8 258.3L550.4 257.8L551 257.2L551.7 256.7L552.3 256.1L552.6 255.9L552.9 255.6L553.5 255.1L554.1 254.6L554.7 254.1L555.4 253.6L556 253.2L556.6 252.7L557.2 252.3L557.8 251.9L558.4 251.5L559.1 251.1L559.7 250.7L560.3 250.3L560.9 249.9L561.5 249.6L561.8 249.4L562.1 249.2L562.7 248.8L563.4 248.5L564 248.2L564.6 247.8L565.2 247.5L565.8 247.3L566.4 247L567.1 246.7L567.7 246.5L568.3 246.3L568.9 246.1L569.5 245.9L570.1 245.6L570.7 245.4L571.1 245.3L571.4 245.2L572 245L572.6 244.8L573.2 244.6L573.8 244.5L574.4 244.3L575.1 244.1L575.7 244L576.3 243.9L576.9 243.8L577.5 243.8L578.1 243.7L578.8 243.7L579.4 243.7L580 243.7L580.3 243.7L580.6 243.7L581.2 243.7L581.8 243.7L582.4 243.8L583.1 243.8L583.7 243.8L584.3 243.8L584.9 243.8L585.5 243.8L586.1 243.9L586.8 243.9L587.4 243.9L588 243.9L588.6 243.9L589.2 244L589.5 244L589.8 244L590.5 244L591.1 244L591.7 244.1L592.3 244.1L592.9 244.1L593.5 244.2L594.1 244.2L594.8 244.2L595.4 244.3L596 244.3L596.6 244.4L597.2 244.4L597.8 244.5L598.5 244.6L598.8 244.6L599.1 244.6L599.7 244.7L600.3 244.8L600.9 244.8L601.5 244.9L602.2 245L602.8 245.1L603.4 245.1L604 245.2L604.6 245.3L605.2 245.4L605.8 245.4L608 245.7L612.6 246.3L617.2 246.9L621.9 247.6L626.5 248.6L631.1 249.7L635.7 251L640.3 252.4L644.9 253.8L649.6 255.3L654.2 256.7L658.8 258.2L663.4 259.6L668 261.1L672.6 262.6L677.3 264.1L681.9 265.5L686.5 267L691.1 268.5L695.7 270L700.4 271.5L705 273L709.6 274.4L714.2 275.9L718.8 277.4L723.4 278.9L728.1 280.4L729.6 280.9" fill="none" stroke="#ff0000" stroke-width="6.2" stroke-linejoin="round" stroke-linecap="round" />
</g>
<line x1="120.1" y1="162.3" x2="120.1" y2="386.4" stroke="#000" stroke-width="3.5" stroke-dasharray="7.4 6.46" stroke-dashoffset="0"/>
<line x1="397.1" y1="162.3" x2="397.1" y2="386.4" stroke="#000" stroke-width="3.5" stroke-dasharray="7.4 6.46" stroke-dashoffset="0"/>
<line x1="674.2" y1="162.3" x2="674.2" y2="386.4" stroke="#000" stroke-width="3.5" stroke-dasharray="7.4 6.46" stroke-dashoffset="0"/>
<line x1="881.5" y1="260.6" x2="1497.3" y2="260.6" stroke="#000" stroke-width="2.2"/>
<g clip-path="url(#clipB)">
<path d="M881.5 196.8L886.7 205.8L891.9 214.9L897.2 224L902.4 233.1L907.6 242.3L912.8 251.4L918 260.6L923.2 269.8L928.5 278.9L933.7 288L938.9 297L944.1 306L949.3 314.8L954.6 323.4L959.8 331.8L965 339.8L970.2 347.6L975.4 355.1L980.7 362.5L985.9 369.8L991.1 377.3L996.3 385L1001.5 393.2L1006.7 401.8L1012 410.8L1017.2 420L1022.4 429.4L1027.6 438.7L1032.8 447.7L1034.6 450.7L1035.3 451.8L1036 453L1036.7 454.2L1037.4 455.3L1038.1 456.4L1038.8 457.6L1039.5 458.7L1040.1 459.8L1040.8 460.9L1041.5 462L1042.2 463.1L1042.9 464.1L1043.3 464.7L1043.6 465.2L1044.3 466.2L1045 467.2L1045.7 468.2L1046.4 469L1047.1 469.3L1047.8 465.9L1048.5 457.5L1049.2 447.6L1049.9 435.9L1050.6 421.5L1051.3 402.6L1052 370.1L1052.7 310.2L1053.4 232.7L1053.7 219.8L1054.1 210.5L1054.8 198.7L1055.5 191.1L1056.2 186.3L1056.8 183.2L1057.5 182.2L1058.2 182.6L1058.9 183.3L1059.6 184.2L1060.3 185.2L1061 186.2L1061.7 187.2L1062.4 188.2L1063.1 189.2L1063.8 190.3L1064.2 190.8L1064.5 191.3L1065.2 192.4L1065.9 193.4L1066.6 194.5L1067.3 195.5L1068 196.6L1068.7 197.7L1069.4 198.7L1070.1 199.8L1070.8 200.9L1071.5 201.9L1072.2 203L1072.9 204.1L1073.5 205.2L1074.2 206.2L1074.6 206.8L1074.9 207.3L1075.6 208.4L1076.3 209.5L1077 210.5L1077.7 211.6L1078.4 212.7L1079.1 213.8L1079.8 214.9L1080.5 215.9L1081.2 217L1081.9 218.1L1082.6 219.2L1083.3 220.3L1084 221.4L1084.7 222.4L1085 223L1085.4 223.5L1086.1 224.6L1086.8 225.6L1087.5 226.7L1088.2 227.8L1088.9 228.9L1089.5 230L1090.2 231.1L1090.9 232.2L1091.6 233.3L1092.3 234.4L1093 235.4L1093.7 236.5L1094.4 237.6L1095.1 238.7L1095.5 239.3L1095.8 239.8L1096.5 240.9L1100.7 247.5L1105.9 255.7L1111.1 263.9L1116.3 272.1L1121.6 280.3L1126.8 288.5L1132 296.6L1137.2 304.8L1142.4 312.9L1147.7 321L1149.4 323.7L1150.1 324.7L1150.8 325.8L1151.5 326.9L1152.2 327.9L1152.9 329L1153.6 330.1L1154.3 331.1L1155 332.2L1155.7 333.3L1156.3 334.3L1157 335.4L1157.7 336.5L1158.1 337L1158.4 337.5L1159.1 338.6L1159.8 339.6L1160.5 340.7L1161.2 341.8L1161.9 342.8L1162.6 343.9L1163.3 344.9L1164 346L1164.7 347L1165.4 348.1L1166.1 349.1L1166.8 350.2L1167.5 351.2L1168.2 352.3L1168.5 352.8L1168.9 353.3L1169.6 354.4L1170.3 355.4L1171 356.5L1171.7 357.5L1172.4 358.5L1173 359.6L1173.7 360.6L1174.4 361.7L1175.1 362.7L1175.8 363.8L1176.5 364.8L1177.2 365.8L1177.9 366.9L1178.6 367.9L1179 368.4L1179.3 368.9L1180 369.9L1180.7 371L1181.4 372L1182.1 373L1182.8 374L1183.5 375L1184.2 376L1184.9 377.1L1185.6 378.1L1186.3 379.1L1187 380.1L1187.7 381.1L1188.4 382.1L1189.1 383.1L1189.4 383.6L1189.7 384.1L1190.4 385.1L1191.1 386.1L1191.8 387.1L1192.5 388.1L1193.2 389.1L1193.9 390L1194.6 391L1195.3 392L1196 393L1196.7 393.9L1197.4 394.8L1198.1 395.8L1198.8 396.7L1199.5 397.5L1199.8 397.9L1200.2 398.2L1200.9 398.6L1201.6 397.9L1202.3 394.5L1203 389.8L1203.7 384.8L1204.4 379.7L1205.1 374.4L1205.8 368.5L1206.4 361.8L1207.1 354.1L1207.8 344.4L1208.5 330L1209.2 313.8L1209.9 299.3L1210.3 293.9L1210.6 289L1211.3 279.9L1212 271.8L1212.7 264.7L1213.4 258.6L1214.1 253.7L1214.8 249.4L1215.5 245.8L1216.2 242.6L1216.9 239.6L1217.6 236.9L1218.3 234.4L1219 232.4L1219.7 231.4L1220.4 231.2L1220.7 231.2L1221.1 231.4L1221.8 231.8L1222.5 232.3L1223.1 232.9L1223.8 233.5L1224.5 234.1L1225.2 234.7L1225.9 235.3L1226.6 236L1227.3 236.6L1228 237.3L1228.7 237.9L1229.4 238.6L1230.1 239.2L1230.8 239.9L1231.1 240.2L1231.5 240.5L1232.2 241.2L1232.9 241.9L1233.6 242.5L1234.3 243.2L1235 243.9L1235.7 244.5L1236.4 245.2L1237.1 245.9L1237.8 246.5L1238.5 247.2L1239.2 247.8L1239.8 248.5L1240.5 249.2L1241.2 249.8L1241.6 250.2L1241.9 250.5L1242.6 251.2L1243.3 251.8L1244 252.5L1244.7 253.1L1245.4 253.8L1246.1 254.4L1246.8 255L1247.5 255.5L1248.2 256.1L1248.9 256.6L1249.6 256.8L1250.3 256.5L1251 254.8L1251.7 252.1L1252 250.6L1252.4 249.1L1253.1 245.9L1253.8 242.3L1254.5 238.1L1255.2 233L1255.9 226.1L1256.5 214.2L1257.2 199L1257.9 182.5L1258.6 167.1L1259.3 154.9L1260 147.5L1260.7 141.9L1261.4 137.1L1262.1 133L1262.5 131.1L1262.8 129.4L1263.5 126.2L1264.2 123.5L1264.9 121.8L1265.6 121.3L1266.3 121.7L1267 122.4L1267.7 123.3L1268.4 124.1L1269.1 125.1L1269.8 126L1270.5 127L1271.2 128L1271.9 129L1272.6 130L1272.9 130.5L1273.2 131L1273.9 132L1274.6 133L1275.3 134L1276 135L1276.7 136L1277.4 137.1L1278.1 138.1L1278.8 139.1L1279.5 140.1L1280.2 141.2L1280.9 142.2L1281.6 143.2L1282.3 144.3L1283 145.3L1283.3 145.8L1283.7 146.4L1284.4 147.4L1285.1 148.4L1285.8 149.5L1286.5 150.5L1287.2 151.6L1287.9 152.6L1288.6 153.7L1289.3 154.7L1289.9 155.8L1290.6 156.8L1291.3 157.9L1292 159L1292.7 160L1293.4 161L1293.8 161.5L1294.1 162.1L1294.8 163.1L1295.5 164.2L1296.2 165.3L1296.9 166.3L1297.6 167.4L1298.3 168.5L1299 169.6L1299.7 170.6L1300.4 171.7L1301.1 172.8L1301.8 173.9L1302.5 174.9L1303.2 176L1303.9 177.1L1304.2 177.6L1304.6 178.2L1305.3 179.3L1305.9 180.3L1306.6 181.4L1307.3 182.5L1308 183.6L1308.7 184.7L1309.4 185.8L1310.1 186.9L1310.8 187.9L1311.5 189L1312.2 190.1L1312.9 191.2L1313.6 192.3L1314.3 193.4L1314.6 194L1315 194.5L1315.7 195.6L1316.4 196.7L1317.1 197.8L1317.8 198.9L1318.5 200L1319.2 201.1L1319.9 202.2L1320.6 203.3L1321.3 204.4L1322 205.5L1322.6 206.6L1325.1 210.5L1330.3 218.8L1335.5 227.1L1340.7 235.5L1346 243.8L1351.2 252.2L1356.4 260.6L1361.6 269L1366.8 277.4L1372.1 285.7L1375.5 291.3L1376.2 292.4L1376.9 293.5L1377.3 294.1L1377.6 294.7L1378.3 295.8L1379 296.9L1379.7 298L1380.4 299.1L1381.1 300.2L1381.8 301.3L1382.5 302.4L1383.2 303.6L1383.9 304.7L1384.6 305.8L1385.3 306.9L1386 308L1386.7 309.1L1387.4 310.2L1387.7 310.8L1388.1 311.3L1388.8 312.4L1389.4 313.5L1390.1 314.6L1390.8 315.7L1391.5 316.8L1392.2 317.9L1392.9 319L1393.6 320.1L1394.3 321.2L1395 322.3L1395.7 323.4L1396.4 324.5L1397.1 325.6L1397.8 326.7L1398.1 327.2L1398.5 327.8L1399.2 328.9L1399.9 329.9L1400.6 331L1401.3 332.1L1402 333.2L1402.7 334.3L1403.4 335.4L1404.1 336.4L1404.8 337.5L1405.5 338.6L1406.1 339.6L1406.8 340.7L1407.5 341.7L1408.2 342.7L1408.6 343.2L1408.9 343.7L1409.6 344.5L1410.3 344.7L1411 341.3L1411.7 333.7L1412.4 324.1L1413.1 309.9L1413.8 283.5L1414.5 240.7L1415.2 161.4L1415.9 119.4L1416.6 91L1417.3 75.9L1418 65.9L1418.7 58.4L1419 55.3L1419.4 52.4L1420.1 46.9L1420.8 41.9L1421.5 40.2L1422.2 40.6L1422.8 41.3L1423.5 42.2L1424.2 43.2L1424.9 44.2L1425.6 45.2L1426.3 46.3L1427 47.3L1427.7 48.4L1428.4 49.4L1429.1 50.5L1429.5 51L1429.8 51.5L1430.5 52.6L1431.2 53.7L1431.9 54.8L1432.6 55.8L1433.3 56.9L1434 58L1434.7 59.1L1435.4 60.2L1436.1 61.3L1436.8 62.4L1437.5 63.5L1439.9 67.4L1445.1 75.8L1450.3 84.3L1455.6 92.9L1460.8 101.7L1466 110.6L1471.2 119.6L1476.4 128.7L1481.6 137.9L1486.9 147.2L1492.1 156.5L1497.3 165.9" fill="none" stroke="#800000" stroke-width="6.5" stroke-linejoin="round" stroke-linecap="round" />
<path d="M881.5 190.8L886.7 199.8L891.9 208.8L897.2 217.9L902.4 227L907.6 236.2L912.8 245.3L918 254.5L923.2 263.6L928.5 272.8L933.7 281.9L938.9 291L944.1 300L949.3 308.9L954.6 317.7L959.8 326.2L965 334.5L970.2 342.5L975.4 350.2L980.7 357.6L985.9 364.9L991.1 372.3L996.3 379.8L1001.5 387.7L1006.7 396L1012 404.7L1017.2 413.8L1022.4 423.1L1027.6 432.5L1032.8 441.7L1034.6 444.8L1035.3 446L1036 447.1L1036.7 448.3L1037.4 449.5L1038.1 450.7L1038.8 451.8L1039.5 453L1040.1 454.2L1040.8 455.3L1041.5 456.4L1042.2 457.6L1042.9 458.7L1043.3 459.2L1043.6 459.8L1044.3 460.9L1045 462L1045.7 463.1L1046.4 464.1L1047.1 465.2L1047.8 466.2L1048.5 467.2L1049.2 468.2L1049.9 469L1050.6 469.3L1051.3 465.9L1052 457.5L1052.7 447.6L1053.4 435.9L1053.7 429L1054.1 421.5L1054.8 402.6L1055.5 370.1L1056.2 310.2L1056.8 232.7L1057.5 210.5L1058.2 198.7L1058.9 191.1L1059.6 186.3L1060.3 183.2L1061 182.2L1061.7 182.6L1062.4 183.3L1063.1 184.2L1063.8 185.2L1064.2 185.7L1064.5 186.2L1065.2 187.2L1065.9 188.2L1066.6 189.2L1067.3 190.3L1068 191.3L1068.7 192.4L1069.4 193.4L1070.1 194.5L1070.8 195.5L1071.5 196.6L1072.2 197.7L1072.9 198.7L1073.5 199.8L1074.2 200.9L1074.6 201.4L1074.9 201.9L1075.6 203L1076.3 204.1L1077 205.2L1077.7 206.2L1078.4 207.3L1079.1 208.4L1079.8 209.5L1080.5 210.5L1081.2 211.6L1081.9 212.7L1082.6 213.8L1083.3 214.9L1084 215.9L1084.7 217L1085 217.6L1085.4 218.1L1086.1 219.2L1086.8 220.3L1087.5 221.4L1088.2 222.4L1088.9 223.5L1089.5 224.6L1090.2 225.6L1090.9 226.7L1091.6 227.8L1092.3 228.9L1093 230L1093.7 231.1L1094.4 232.2L1095.1 233.3L1095.5 233.8L1095.8 234.4L1096.5 235.4L1100.7 242L1105.9 250.2L1111.1 258.4L1116.3 266.6L1121.6 274.8L1126.8 283L1132 291.2L1137.2 299.4L1142.4 307.5L1147.7 315.6L1149.4 318.3L1150.1 319.4L1150.8 320.4L1151.5 321.5L1152.2 322.6L1152.9 323.7L1153.6 324.7L1154.3 325.8L1155 326.9L1155.7 327.9L1156.3 329L1157 330.1L1157.7 331.1L1158.1 331.7L1158.4 332.2L1159.1 333.3L1159.8 334.3L1160.5 335.4L1161.2 336.5L1161.9 337.5L1162.6 338.6L1163.3 339.6L1164 340.7L1164.7 341.8L1165.4 342.8L1166.1 343.9L1166.8 344.9L1167.5 346L1168.2 347L1168.5 347.6L1168.9 348.1L1169.6 349.1L1170.3 350.2L1171 351.2L1171.7 352.3L1172.4 353.3L1173 354.4L1173.7 355.4L1174.4 356.5L1175.1 357.5L1175.8 358.5L1176.5 359.6L1177.2 360.6L1177.9 361.7L1178.6 362.7L1179 363.2L1179.3 363.8L1180 364.8L1180.7 365.8L1181.4 366.9L1182.1 367.9L1182.8 368.9L1183.5 369.9L1184.2 371L1184.9 372L1185.6 373L1186.3 374L1187 375L1187.7 376L1188.4 377.1L1189.1 378.1L1189.4 378.6L1189.7 379.1L1190.4 380.1L1191.1 381.1L1191.8 382.1L1192.5 383.1L1193.2 384.1L1193.9 385.1L1194.6 386.1L1195.3 387.1L1196 388.1L1196.7 389.1L1197.4 390L1198.1 391L1198.8 392L1199.5 393L1199.8 393.4L1200.2 393.9L1200.9 394.8L1201.6 395.8L1202.3 396.7L1203 397.5L1203.7 398.2L1204.4 398.6L1205.1 397.9L1205.8 394.5L1206.4 389.8L1207.1 384.8L1207.8 379.7L1208.5 374.4L1209.2 368.5L1209.9 361.8L1210.3 358.1L1210.6 354.1L1211.3 344.4L1212 330L1212.7 313.8L1213.4 299.3L1214.1 289L1214.8 279.9L1215.5 271.8L1216.2 264.7L1216.9 258.6L1217.6 253.7L1218.3 249.4L1219 245.8L1219.7 242.6L1220.4 239.6L1220.7 238.2L1221.1 236.9L1221.8 234.4L1222.5 232.4L1223.1 231.4L1223.8 231.2L1224.5 231.4L1225.2 231.8L1225.9 232.3L1226.6 232.9L1227.3 233.5L1228 234.1L1228.7 234.7L1229.4 235.3L1230.1 236L1230.8 236.6L1231.1 236.9L1231.5 237.3L1232.2 237.9L1232.9 238.6L1233.6 239.2L1234.3 239.9L1235 240.5L1235.7 241.2L1236.4 241.9L1237.1 242.5L1237.8 243.2L1238.5 243.9L1239.2 244.5L1239.8 245.2L1240.5 245.9L1241.2 246.5L1241.6 246.9L1241.9 247.2L1242.6 247.8L1243.3 248.5L1244 249.2L1244.7 249.8L1245.4 250.5L1246.1 251.2L1246.8 251.8L1247.5 252.5L1248.2 253.1L1248.9 253.8L1249.6 254.4L1250.3 255L1251 255.5L1251.7 256.1L1252 256.3L1252.4 256.6L1253.1 256.8L1253.8 256.5L1254.5 254.8L1255.2 252.1L1255.9 249.1L1256.5 245.9L1257.2 242.3L1257.9 238.1L1258.6 233L1259.3 226.1L1260 214.2L1260.7 199L1261.4 182.5L1262.1 167.1L1262.5 160.5L1262.8 154.9L1263.5 147.5L1264.2 141.9L1264.9 137.1L1265.6 133L1266.3 129.4L1267 126.2L1267.7 123.5L1268.4 121.8L1269.1 121.3L1269.8 121.7L1270.5 122.4L1271.2 123.3L1271.9 124.1L1272.6 125.1L1272.9 125.6L1273.2 126L1273.9 127L1274.6 128L1275.3 129L1276 130L1276.7 131L1277.4 132L1278.1 133L1278.8 134L1279.5 135L1280.2 136L1280.9 137.1L1281.6 138.1L1282.3 139.1L1283 140.1L1283.3 140.7L1283.7 141.2L1284.4 142.2L1285.1 143.2L1285.8 144.3L1286.5 145.3L1287.2 146.4L1287.9 147.4L1288.6 148.4L1289.3 149.5L1289.9 150.5L1290.6 151.6L1291.3 152.6L1292 153.7L1292.7 154.7L1293.4 155.8L1293.8 156.3L1294.1 156.8L1294.8 157.9L1295.5 159L1296.2 160L1296.9 161L1297.6 162.1L1298.3 163.1L1299 164.2L1299.7 165.3L1300.4 166.3L1301.1 167.4L1301.8 168.5L1302.5 169.6L1303.2 170.6L1303.9 171.7L1304.2 172.2L1304.6 172.8L1305.3 173.9L1305.9 174.9L1306.6 176L1307.3 177.1L1308 178.2L1308.7 179.3L1309.4 180.3L1310.1 181.4L1310.8 182.5L1311.5 183.6L1312.2 184.7L1312.9 185.8L1313.6 186.9L1314.3 187.9L1314.6 188.5L1315 189L1315.7 190.1L1316.4 191.2L1317.1 192.3L1317.8 193.4L1318.5 194.5L1319.2 195.6L1319.9 196.7L1320.6 197.8L1321.3 198.9L1322 200L1322.6 201.1L1325.1 204.9L1330.3 213.2L1335.5 221.5L1340.7 229.9L1346 238.2L1351.2 246.6L1356.4 255L1361.6 263.4L1366.8 271.8L1372.1 280.2L1375.5 285.7L1376.2 286.9L1376.9 288L1377.3 288.5L1377.6 289.1L1378.3 290.2L1379 291.3L1379.7 292.4L1380.4 293.5L1381.1 294.7L1381.8 295.8L1382.5 296.9L1383.2 298L1383.9 299.1L1384.6 300.2L1385.3 301.3L1386 302.4L1386.7 303.6L1387.4 304.7L1387.7 305.2L1388.1 305.8L1388.8 306.9L1389.4 308L1390.1 309.1L1390.8 310.2L1391.5 311.3L1392.2 312.4L1392.9 313.5L1393.6 314.6L1394.3 315.7L1395 316.8L1395.7 317.9L1396.4 319L1397.1 320.1L1397.8 321.2L1398.1 321.8L1398.5 322.3L1399.2 323.4L1399.9 324.5L1400.6 325.6L1401.3 326.7L1402 327.8L1402.7 328.9L1403.4 329.9L1404.1 331L1404.8 332.1L1405.5 333.2L1406.1 334.3L1406.8 335.4L1407.5 336.4L1408.2 337.5L1408.6 338L1408.9 338.6L1409.6 339.6L1410.3 340.7L1411 341.7L1411.7 342.7L1412.4 343.7L1413.1 344.5L1413.8 344.7L1414.5 341.3L1415.2 333.7L1415.9 324.1L1416.6 309.9L1417.3 283.5L1418 240.7L1418.7 161.4L1419 138.8L1419.4 119.4L1420.1 91L1420.8 75.9L1421.5 65.9L1422.2 58.4L1422.8 52.4L1423.5 46.9L1424.2 41.9L1424.9 40.2L1425.6 40.6L1426.3 41.3L1427 42.2L1427.7 43.2L1428.4 44.2L1429.1 45.2L1429.5 45.7L1429.8 46.3L1430.5 47.3L1431.2 48.4L1431.9 49.4L1432.6 50.5L1433.3 51.5L1434 52.6L1434.7 53.7L1435.4 54.8L1436.1 55.8L1436.8 56.9L1437.5 58L1439.9 61.8L1445.1 70.2L1450.3 78.6L1455.6 87.1L1460.8 95.9L1466 104.7L1471.2 113.6L1476.4 122.6L1481.6 131.8L1486.9 141L1492.1 150.3L1497.3 159.6" fill="none" stroke="#800000" stroke-width="6.5" stroke-linejoin="round" stroke-linecap="round" />
<path d="M881.5 224.7L886.7 229.7L891.9 234.7L897.2 239.7L902.4 244.7L907.6 249.8L912.8 254.9L918 259.9L923.2 265L928.5 270.1L933.7 275.1L938.9 280.2L944.1 285.2L949.3 290.2L954.6 295.2L959.8 300.2L965 305.1L970.2 310L975.4 314.9L980.7 319.8L985.9 324.6L991.1 329.3L996.3 334L1001.5 338.7L1006.7 343.3L1012 347.9L1017.2 352.3L1022.4 356.8L1027.6 361.2L1032.8 365.4L1034.6 366.8L1035.3 367.4L1036 368L1036.7 368.5L1037.4 369.1L1038.1 369.6L1038.8 370.2L1039.5 370.7L1040.1 371.3L1040.8 371.8L1041.5 372.4L1042.2 372.9L1042.9 373.5L1043.3 373.7L1043.6 374L1044.3 374.5L1045 375.1L1045.7 375.6L1046.4 376.1L1047.1 376.6L1047.8 377.1L1048.5 377.6L1049.2 378L1049.9 378.4L1050.6 378.3L1051.3 376.8L1052 372.4L1052.7 366.8L1053.4 361.1L1053.7 358.2L1054.1 355.2L1054.8 349.3L1055.5 343.3L1056.2 337.2L1056.8 330.9L1057.5 324.3L1058.2 317.4L1058.9 310.2L1059.6 302L1060.3 292.7L1061 283.1L1061.7 273.8L1062.4 265.7L1063.1 259.3L1063.8 254L1064.2 251.5L1064.5 249.1L1065.2 244.9L1065.9 241.2L1066.6 238.3L1067.3 236L1068 234L1068.7 232.4L1069.4 231.1L1070.1 230L1070.8 229.3L1071.5 228.9L1072.2 228.9L1072.9 229.2L1073.5 229.6L1074.2 230L1074.6 230.3L1074.9 230.5L1075.6 231.1L1076.3 231.6L1077 232.2L1077.7 232.7L1078.4 233.3L1079.1 233.9L1079.8 234.4L1080.5 235L1081.2 235.6L1081.9 236.2L1082.6 236.8L1083.3 237.4L1084 238L1084.7 238.6L1085 238.9L1085.4 239.2L1086.1 239.8L1086.8 240.4L1087.5 241L1088.2 241.6L1088.9 242.2L1089.5 242.8L1090.2 243.4L1090.9 244L1091.6 244.6L1092.3 245.2L1093 245.8L1093.7 246.4L1094.4 247L1095.1 247.6L1095.5 247.9L1095.8 248.2L1096.5 248.8L1100.7 252.4L1105.9 256.9L1111.1 261.5L1116.3 266.1L1121.6 270.7L1126.8 275.2L1132 279.8L1137.2 284.3L1142.4 288.8L1147.7 293.3L1149.4 294.8L1150.1 295.4L1150.8 296L1151.5 296.6L1152.2 297.2L1152.9 297.8L1153.6 298.4L1154.3 299L1155 299.6L1155.7 300.2L1156.3 300.8L1157 301.4L1157.7 302L1158.1 302.3L1158.4 302.6L1159.1 302.9L1159.8 303.5L1160.5 304.1L1161.2 304.7L1161.9 305.2L1162.6 305.8L1163.3 306.4L1164 307L1164.7 307.5L1165.4 308.1L1166.1 308.7L1166.8 309.2L1167.5 309.8L1168.2 310.4L1168.5 310.7L1168.9 310.9L1169.6 311.5L1170.3 312.1L1171 312.6L1171.7 313.2L1172.4 313.7L1173 314.3L1173.7 314.8L1174.4 315.3L1175.1 315.9L1175.8 316.4L1176.5 316.9L1177.2 317.4L1177.9 317.9L1178.6 318.4L1179 318.6L1179.3 318.9L1180 319.3L1180.7 319.7L1181.4 320.1L1182.1 320.4L1182.8 320.7L1183.5 320.9L1184.2 321L1184.9 320.9L1185.6 320.7L1186.3 320.4L1187 319.8L1187.7 319.2L1188.4 318.5L1189.1 317.7L1189.4 317.3L1189.7 316.9L1190.4 316.1L1191.1 315.2L1191.8 314.3L1192.5 313.3L1193.2 312.2L1193.9 311.1L1194.6 309.8L1195.3 308.5L1196 307L1196.7 305.4L1197.4 303.6L1198.1 301.6L1198.8 298.9L1199.5 295.5L1199.8 293.7L1200.2 291.7L1200.9 287.6L1201.6 283.3L1202.3 279L1203 274.8L1203.7 270.9L1204.4 267.5L1205.1 264.4L1205.8 261.2L1206.4 258.2L1207.1 255.5L1207.8 253.2L1208.5 251.5L1209.2 250.3L1209.9 249.4L1210.3 249L1210.6 248.7L1211.3 248.2L1212 247.9L1212.7 247.8L1213.4 247.7L1214.1 247.8L1214.8 248L1215.5 248.2L1216.2 248.5L1216.9 248.8L1217.6 249.1L1218.3 249.5L1219 249.8L1219.7 250.2L1220.4 250.5L1220.7 250.7L1221.1 250.9L1221.8 251.3L1222.5 251.6L1223.1 252L1223.8 252.4L1224.5 252.8L1225.2 253.2L1225.9 253.5L1226.6 253.9L1227.3 254.3L1228 254.7L1228.7 255.1L1229.4 255.5L1230.1 255.9L1230.8 256.2L1231.1 256.4L1231.5 256.6L1232.2 257L1232.9 257.4L1233.6 257.8L1234.3 258.2L1235 258.6L1235.7 259L1236.4 259.4L1237.1 259.8L1237.8 260.2L1238.5 260.6L1239.2 261L1239.8 261.4L1240.5 261.8L1241.2 262L1241.6 262.2L1241.9 262.4L1242.6 262.8L1243.3 263.2L1244 263.6L1244.7 264L1245.4 264.4L1246.1 264.8L1246.8 265.2L1247.5 265.6L1248.2 265.9L1248.9 266.3L1249.6 266.7L1250.3 267.1L1251 267.5L1251.7 267.9L1252 268.1L1252.4 268.3L1253.1 268.7L1253.8 269L1254.5 269.4L1255.2 269.8L1255.9 270.2L1256.5 270.5L1257.2 270.9L1257.9 271.3L1258.6 271.6L1259.3 271.9L1260 272.3L1260.7 272.5L1261.4 272.7L1262.1 272.8L1262.5 272.8L1262.8 272.8L1263.5 272.4L1264.2 271.6L1264.9 270.7L1265.6 269.7L1266.3 268.5L1267 267.2L1267.7 265.7L1268.4 264L1269.1 262.1L1269.8 259.8L1270.5 256.6L1271.2 252.6L1271.9 248.6L1272.6 244.9L1272.9 243.1L1273.2 241.3L1273.9 237.6L1274.6 233.9L1275.3 230.4L1276 227L1276.7 223.9L1277.4 221.2L1278.1 218.9L1278.8 216.7L1279.5 214.7L1280.2 212.8L1280.9 211.1L1281.6 209.4L1282.3 207.8L1283 206.3L1283.3 205.6L1283.7 204.9L1284.4 203.7L1285.1 203L1285.8 202.6L1286.5 202.6L1287.2 202.8L1287.9 203.2L1288.6 203.6L1289.3 204L1289.9 204.5L1290.6 205L1291.3 205.5L1292 206L1292.7 206.5L1293.4 207.1L1293.8 207.3L1294.1 207.6L1294.8 208.2L1295.5 208.7L1296.2 209.3L1296.9 209.8L1297.6 210.4L1298.3 210.9L1299 211.5L1299.7 212.1L1300.4 212.6L1301.1 213.2L1301.8 213.8L1302.5 214.3L1303.2 214.9L1303.9 215.5L1304.2 215.8L1304.6 216L1305.3 216.6L1305.9 217.2L1306.6 217.8L1307.3 218.3L1308 218.9L1308.7 219.5L1309.4 220.1L1310.1 220.7L1310.8 221.2L1311.5 221.8L1312.2 222.3L1312.9 222.9L1313.6 223.4L1314.3 224L1314.6 224.3L1315 224.6L1315.7 225.2L1316.4 225.8L1317.1 226.4L1317.8 227L1318.5 227.5L1319.2 228.1L1319.9 228.7L1320.6 229.3L1321.3 229.9L1322 230.5L1322.6 231.1L1325.1 233.2L1330.3 237.6L1335.5 242.1L1340.7 246.5L1346 251L1351.2 255.5L1356.4 260L1361.6 264.5L1366.8 269L1372.1 273.5L1375.5 276.5L1376.2 277.1L1376.9 277.7L1377.3 278L1377.6 278.3L1378.3 278.9L1379 279.5L1379.7 280.1L1380.4 280.7L1381.1 281.3L1381.8 281.9L1382.5 282.5L1383.2 283L1383.9 283.6L1384.6 284.2L1385.3 284.8L1386 285.4L1386.7 286L1387.4 286.6L1387.7 286.9L1388.1 287.2L1388.8 287.8L1389.4 288.4L1390.1 289L1390.8 289.5L1391.5 290.1L1392.2 290.7L1392.9 291.3L1393.6 291.9L1394.3 292.5L1395 293.1L1395.7 293.6L1396.4 294.2L1397.1 294.8L1397.8 295.4L1398.1 295.7L1398.5 295.9L1399.2 296.5L1399.9 297.1L1400.6 297.6L1401.3 298.1L1402 298.6L1402.7 298.9L1403.4 298.4L1404.1 295L1404.8 289.7L1405.5 284.1L1406.1 278.3L1406.8 272.1L1407.5 265.5L1408.2 258.5L1408.6 254.8L1408.9 251L1409.6 243.1L1410.3 234.7L1411 225.5L1411.7 214.3L1412.4 202.2L1413.1 190.3L1413.8 179.7L1414.5 171.6L1415.2 165.3L1415.9 159.7L1416.6 154.9L1417.3 151L1418 148.4L1418.7 146.7L1419 146L1419.4 145.4L1420.1 144.5L1420.8 143.7L1421.5 143.2L1422.2 142.8L1422.8 142.6L1423.5 142.6L1424.2 142.8L1424.9 143L1425.6 143.4L1426.3 143.8L1427 144.2L1427.7 144.7L1428.4 145.2L1429.1 145.7L1429.5 145.9L1429.8 146.2L1430.5 146.7L1431.2 147.2L1431.9 147.8L1432.6 148.3L1433.3 148.8L1434 149.4L1434.7 149.9L1435.4 150.5L1436.1 151L1436.8 151.6L1437.5 152.2L1439.9 154.2L1445.1 158.5L1450.3 162.9L1455.6 167.3L1460.8 171.9L1466 176.5L1471.2 181.2L1476.4 186L1481.6 190.8L1486.9 195.7L1492.1 200.6L1497.3 205.5" fill="none" stroke="#000" stroke-width="6.5" stroke-linejoin="round" stroke-linecap="round" />
<path d="M881.5 222.7L886.7 227.7L891.9 232.7L897.2 237.7L902.4 242.7L907.6 247.8L912.8 252.8L918 257.9L923.2 263L928.5 268L933.7 273.1L938.9 278.1L944.1 283.2L949.3 288.2L954.6 293.2L959.8 298.2L965 303.1L970.2 308.1L975.4 313L980.7 317.8L985.9 322.6L991.1 327.4L996.3 332.2L1001.5 336.8L1006.7 341.5L1012 346L1017.2 350.6L1022.4 355L1027.6 359.4L1032.8 363.7L1034.6 365.2L1035.3 365.7L1036 366.3L1036.7 366.8L1037.4 367.4L1038.1 368L1038.8 368.5L1039.5 369.1L1040.1 369.6L1040.8 370.2L1041.5 370.7L1042.2 371.3L1042.9 371.8L1043.3 372.1L1043.6 372.4L1044.3 372.9L1045 373.5L1045.7 374L1046.4 374.5L1047.1 375.1L1047.8 375.6L1048.5 376.1L1049.2 376.6L1049.9 377.1L1050.6 377.6L1051.3 378L1052 378.4L1052.7 378.3L1053.4 376.8L1053.7 374.9L1054.1 372.4L1054.8 366.8L1055.5 361.1L1056.2 355.2L1056.8 349.3L1057.5 343.3L1058.2 337.2L1058.9 330.9L1059.6 324.3L1060.3 317.4L1061 310.2L1061.7 302L1062.4 292.7L1063.1 283.1L1063.8 273.8L1064.2 269.5L1064.5 265.7L1065.2 259.3L1065.9 254L1066.6 249.1L1067.3 244.9L1068 241.2L1068.7 238.3L1069.4 236L1070.1 234L1070.8 232.4L1071.5 231.1L1072.2 230L1072.9 229.3L1073.5 228.9L1074.2 228.9L1074.6 229L1074.9 229.2L1075.6 229.6L1076.3 230L1077 230.5L1077.7 231.1L1078.4 231.6L1079.1 232.2L1079.8 232.7L1080.5 233.3L1081.2 233.9L1081.9 234.4L1082.6 235L1083.3 235.6L1084 236.2L1084.7 236.8L1085 237.1L1085.4 237.4L1086.1 238L1086.8 238.6L1087.5 239.2L1088.2 239.8L1088.9 240.4L1089.5 241L1090.2 241.6L1090.9 242.2L1091.6 242.8L1092.3 243.4L1093 244L1093.7 244.6L1094.4 245.2L1095.1 245.8L1095.5 246.1L1095.8 246.4L1096.5 247L1100.7 250.6L1105.9 255.1L1111.1 259.7L1116.3 264.3L1121.6 268.8L1126.8 273.4L1132 277.9L1137.2 282.5L1142.4 287L1147.7 291.5L1149.4 293L1150.1 293.6L1150.8 294.2L1151.5 294.8L1152.2 295.4L1152.9 296L1153.6 296.6L1154.3 297.2L1155 297.8L1155.7 298.4L1156.3 299L1157 299.6L1157.7 300.2L1158.1 300.5L1158.4 300.8L1159.1 301.4L1159.8 302L1160.5 302.6L1161.2 302.9L1161.9 303.5L1162.6 304.1L1163.3 304.7L1164 305.2L1164.7 305.8L1165.4 306.4L1166.1 307L1166.8 307.5L1167.5 308.1L1168.2 308.7L1168.5 309L1168.9 309.2L1169.6 309.8L1170.3 310.4L1171 310.9L1171.7 311.5L1172.4 312.1L1173 312.6L1173.7 313.2L1174.4 313.7L1175.1 314.3L1175.8 314.8L1176.5 315.3L1177.2 315.9L1177.9 316.4L1178.6 316.9L1179 317.2L1179.3 317.4L1180 317.9L1180.7 318.4L1181.4 318.9L1182.1 319.3L1182.8 319.7L1183.5 320.1L1184.2 320.4L1184.9 320.7L1185.6 320.9L1186.3 321L1187 320.9L1187.7 320.7L1188.4 320.4L1189.1 319.8L1189.4 319.5L1189.7 319.2L1190.4 318.5L1191.1 317.7L1191.8 316.9L1192.5 316.1L1193.2 315.2L1193.9 314.3L1194.6 313.3L1195.3 312.2L1196 311.1L1196.7 309.8L1197.4 308.5L1198.1 307L1198.8 305.4L1199.5 303.6L1199.8 302.6L1200.2 301.6L1200.9 298.9L1201.6 295.5L1202.3 291.7L1203 287.6L1203.7 283.3L1204.4 279L1205.1 274.8L1205.8 270.9L1206.4 267.5L1207.1 264.4L1207.8 261.2L1208.5 258.2L1209.2 255.5L1209.9 253.2L1210.3 252.3L1210.6 251.5L1211.3 250.3L1212 249.4L1212.7 248.7L1213.4 248.2L1214.1 247.9L1214.8 247.8L1215.5 247.7L1216.2 247.8L1216.9 248L1217.6 248.2L1218.3 248.5L1219 248.8L1219.7 249.1L1220.4 249.5L1220.7 249.6L1221.1 249.8L1221.8 250.2L1222.5 250.5L1223.1 250.9L1223.8 251.3L1224.5 251.6L1225.2 252L1225.9 252.4L1226.6 252.8L1227.3 253.2L1228 253.5L1228.7 253.9L1229.4 254.3L1230.1 254.7L1230.8 255.1L1231.1 255.3L1231.5 255.5L1232.2 255.9L1232.9 256.2L1233.6 256.6L1234.3 257L1235 257.4L1235.7 257.8L1236.4 258.2L1237.1 258.6L1237.8 259L1238.5 259.4L1239.2 259.8L1239.8 260.2L1240.5 260.6L1241.2 261L1241.6 261.2L1241.9 261.4L1242.6 261.8L1243.3 262L1244 262.4L1244.7 262.8L1245.4 263.2L1246.1 263.6L1246.8 264L1247.5 264.4L1248.2 264.8L1248.9 265.2L1249.6 265.6L1250.3 265.9L1251 266.3L1251.7 266.7L1252 266.9L1252.4 267.1L1253.1 267.5L1253.8 267.9L1254.5 268.3L1255.2 268.7L1255.9 269L1256.5 269.4L1257.2 269.8L1257.9 270.2L1258.6 270.5L1259.3 270.9L1260 271.3L1260.7 271.6L1261.4 271.9L1262.1 272.3L1262.5 272.4L1262.8 272.5L1263.5 272.7L1264.2 272.8L1264.9 272.8L1265.6 272.4L1266.3 271.6L1267 270.7L1267.7 269.7L1268.4 268.5L1269.1 267.2L1269.8 265.7L1270.5 264L1271.2 262.1L1271.9 259.8L1272.6 256.6L1272.9 254.7L1273.2 252.6L1273.9 248.6L1274.6 244.9L1275.3 241.3L1276 237.6L1276.7 233.9L1277.4 230.4L1278.1 227L1278.8 223.9L1279.5 221.2L1280.2 218.9L1280.9 216.7L1281.6 214.7L1282.3 212.8L1283 211.1L1283.3 210.3L1283.7 209.4L1284.4 207.8L1285.1 206.3L1285.8 204.9L1286.5 203.7L1287.2 203L1287.9 202.6L1288.6 202.6L1289.3 202.8L1289.9 203.2L1290.6 203.6L1291.3 204L1292 204.5L1292.7 205L1293.4 205.5L1293.8 205.7L1294.1 206L1294.8 206.5L1295.5 207.1L1296.2 207.6L1296.9 208.2L1297.6 208.7L1298.3 209.3L1299 209.8L1299.7 210.4L1300.4 210.9L1301.1 211.5L1301.8 212.1L1302.5 212.6L1303.2 213.2L1303.9 213.8L1304.2 214L1304.6 214.3L1305.3 214.9L1305.9 215.5L1306.6 216L1307.3 216.6L1308 217.2L1308.7 217.8L1309.4 218.3L1310.1 218.9L1310.8 219.5L1311.5 220.1L1312.2 220.7L1312.9 221.2L1313.6 221.8L1314.3 222.3L1314.6 222.6L1315 222.9L1315.7 223.4L1316.4 224L1317.1 224.6L1317.8 225.2L1318.5 225.8L1319.2 226.4L1319.9 227L1320.6 227.5L1321.3 228.1L1322 228.7L1322.6 229.3L1325.1 231.4L1330.3 235.8L1335.5 240.3L1340.7 244.7L1346 249.2L1351.2 253.7L1356.4 258.2L1361.6 262.7L1366.8 267.2L1372.1 271.7L1375.5 274.7L1376.2 275.3L1376.9 275.9L1377.3 276.2L1377.6 276.5L1378.3 277.1L1379 277.7L1379.7 278.3L1380.4 278.9L1381.1 279.5L1381.8 280.1L1382.5 280.7L1383.2 281.3L1383.9 281.9L1384.6 282.5L1385.3 283L1386 283.6L1386.7 284.2L1387.4 284.8L1387.7 285.1L1388.1 285.4L1388.8 286L1389.4 286.6L1390.1 287.2L1390.8 287.8L1391.5 288.4L1392.2 289L1392.9 289.5L1393.6 290.1L1394.3 290.7L1395 291.3L1395.7 291.9L1396.4 292.5L1397.1 293.1L1397.8 293.6L1398.1 293.9L1398.5 294.2L1399.2 294.8L1399.9 295.4L1400.6 295.9L1401.3 296.5L1402 297.1L1402.7 297.6L1403.4 298.1L1404.1 298.6L1404.8 298.9L1405.5 298.4L1406.1 295L1406.8 289.7L1407.5 284.1L1408.2 278.3L1408.6 275.2L1408.9 272.1L1409.6 265.5L1410.3 258.5L1411 251L1411.7 243.1L1412.4 234.7L1413.1 225.5L1413.8 214.3L1414.5 202.2L1415.2 190.3L1415.9 179.7L1416.6 171.6L1417.3 165.3L1418 159.7L1418.7 154.9L1419 152.8L1419.4 151L1420.1 148.4L1420.8 146.7L1421.5 145.4L1422.2 144.5L1422.8 143.7L1423.5 143.2L1424.2 142.8L1424.9 142.6L1425.6 142.6L1426.3 142.8L1427 143L1427.7 143.4L1428.4 143.8L1429.1 144.2L1429.5 144.5L1429.8 144.7L1430.5 145.2L1431.2 145.7L1431.9 146.2L1432.6 146.7L1433.3 147.2L1434 147.8L1434.7 148.3L1435.4 148.8L1436.1 149.4L1436.8 149.9L1437.5 150.5L1439.9 152.4L1445.1 156.7L1450.3 161.1L1455.6 165.5L1460.8 170L1466 174.6L1471.2 179.3L1476.4 184.1L1481.6 188.9L1486.9 193.7L1492.1 198.6L1497.3 203.5" fill="none" stroke="#000" stroke-width="6.5" stroke-linejoin="round" stroke-linecap="round" />
<path d="M881.5 237.4L886.7 240.6L891.9 243.8L897.2 247.1L902.4 250.4L907.6 253.6L912.8 256.9L918 260.2L923.2 263.4L928.5 266.7L933.7 270L938.9 273.2L944.1 276.5L949.3 279.7L954.6 283L959.8 286.2L965 289.4L970.2 292.5L975.4 295.7L980.7 298.8L985.9 301.9L991.1 305L996.3 308L1001.5 311.1L1006.7 314L1012 317L1017.2 319.9L1022.4 322.7L1027.6 325.6L1032.8 328.3L1034.6 329.2L1035.3 329.6L1036 329.9L1036.7 330.3L1037.4 330.7L1038.1 331L1038.8 331.4L1039.5 331.7L1040.1 332.1L1040.8 332.4L1041.5 332.8L1042.2 333.1L1042.9 333.5L1043.3 333.7L1043.6 333.8L1044.3 334.2L1045 334.5L1045.7 334.9L1046.4 335.2L1047.1 335.5L1047.8 335.9L1048.5 336.2L1049.2 336.5L1049.9 336.8L1050.6 337.1L1051.3 337.4L1052 337.7L1052.7 338L1053.4 338.2L1053.7 338.4L1054.1 338.4L1054.8 338.6L1055.5 338.5L1056.2 338.1L1056.8 337.1L1057.5 335.4L1058.2 333.4L1058.9 331.2L1059.6 328.8L1060.3 326.3L1061 323.7L1061.7 321L1062.4 318.1L1063.1 315L1063.8 311.5L1064.2 309.6L1064.5 307.6L1065.2 303.4L1065.9 299L1066.6 294.6L1067.3 290.2L1068 286L1068.7 282L1069.4 278.4L1070.1 274.7L1070.8 271.1L1071.5 267.5L1072.2 264.1L1072.9 261L1073.5 258.3L1074.2 256L1074.6 255L1074.9 254.2L1075.6 252.7L1076.3 251.4L1077 250.3L1077.7 249.3L1078.4 248.5L1079.1 247.8L1079.8 247.2L1080.5 246.9L1081.2 246.8L1081.9 246.9L1082.6 247.1L1083.3 247.3L1084 247.6L1084.7 247.9L1085 248L1085.4 248.2L1086.1 248.5L1086.8 248.8L1087.5 249.1L1088.2 249.5L1088.9 249.8L1089.5 250.1L1090.2 250.5L1090.9 250.8L1091.6 251.2L1092.3 251.5L1093 251.9L1093.7 252.2L1094.4 252.6L1095.1 253L1095.5 253.1L1095.8 253.3L1096.5 253.7L1100.7 255.8L1105.9 258.5L1111.1 261.1L1116.3 263.9L1121.6 266.6L1126.8 269.3L1132 272L1137.2 274.7L1142.4 277.4L1147.7 279.7L1149.4 280.5L1150.1 280.8L1150.8 281.2L1151.5 281.5L1152.2 281.8L1152.9 282.2L1153.6 282.5L1154.3 282.8L1155 283.1L1155.7 283.4L1156.3 283.7L1157 284L1157.7 284.3L1158.1 284.5L1158.4 284.6L1159.1 284.9L1159.8 285.2L1160.5 285.5L1161.2 285.7L1161.9 286L1162.6 286.2L1163.3 286.4L1164 286.6L1164.7 286.8L1165.4 286.9L1166.1 287.1L1166.8 287.1L1167.5 287.1L1168.2 287.1L1168.5 287.1L1168.9 287L1169.6 286.8L1170.3 286.6L1171 286.3L1171.7 285.9L1172.4 285.5L1173 285.1L1173.7 284.6L1174.4 284.2L1175.1 283.6L1175.8 283.1L1176.5 282.5L1177.2 281.9L1177.9 281.2L1178.6 280.4L1179 280L1179.3 279.6L1180 278.8L1180.7 277.8L1181.4 276.8L1182.1 275.7L1182.8 274.3L1183.5 272.6L1184.2 270.8L1184.9 269L1185.6 267L1186.3 265.1L1187 263.3L1187.7 261.5L1188.4 259.6L1189.1 257.7L1189.4 256.8L1189.7 255.9L1190.4 254.2L1191.1 252.6L1191.8 251.3L1192.5 250.2L1193.2 249.2L1193.9 248.5L1194.6 247.8L1195.3 247.3L1196 247L1196.7 246.8L1197.4 246.7L1198.1 246.6L1198.8 246.7L1199.5 246.8L1199.8 246.9L1200.2 246.9L1200.9 247.1L1201.6 247.3L1202.3 247.5L1203 247.7L1203.7 247.9L1204.4 248.1L1205.1 248.3L1205.8 248.6L1206.4 248.8L1207.1 249L1207.8 249.3L1208.5 249.5L1209.2 249.8L1209.9 250L1210.3 250.1L1210.6 250.2L1211.3 250.5L1212 250.7L1212.7 251L1213.4 251.2L1214.1 251.5L1214.8 251.7L1215.5 252L1216.2 252.2L1216.9 252.5L1217.6 252.7L1218.3 253L1219 253.2L1219.7 253.5L1220.4 253.7L1220.7 253.9L1221.1 254L1221.8 254.2L1222.5 254.5L1223.1 254.8L1223.8 255L1224.5 255.1L1225.2 255.4L1225.9 255.6L1226.6 255.9L1227.3 256.1L1228 256.4L1228.7 256.7L1229.4 256.9L1230.1 257.2L1230.8 257.4L1231.1 257.6L1231.5 257.7L1232.2 258L1232.9 258.2L1233.6 258.5L1234.3 258.7L1235 259L1235.7 259.2L1236.4 259.5L1237.1 259.8L1237.8 260L1238.5 260.3L1239.2 260.5L1239.8 260.8L1240.5 261L1241.2 261.3L1241.6 261.4L1241.9 261.6L1242.6 261.8L1243.3 262.1L1244 262.3L1244.7 262.6L1245.4 262.9L1246.1 263.1L1246.8 263.4L1247.5 263.6L1248.2 263.9L1248.9 264.1L1249.6 264.4L1250.3 264.7L1251 264.9L1251.7 265.2L1252 265.3L1252.4 265.4L1253.1 265.7L1253.8 265.9L1254.5 266.2L1255.2 266.4L1255.9 266.7L1256.5 266.9L1257.2 267.2L1257.9 267.4L1258.6 267.7L1259.3 267.9L1260 268.2L1260.7 268.4L1261.4 268.7L1262.1 268.9L1262.5 269L1262.8 269.2L1263.5 269.4L1264.2 269.7L1264.9 269.9L1265.6 270.1L1266.3 270.4L1267 270.6L1267.7 270.9L1268.4 271.1L1269.1 271.3L1269.8 271.5L1270.5 271.8L1271.2 272L1271.9 272.2L1272.6 272.4L1272.9 272.5L1273.2 272.6L1273.9 272.7L1274.6 272.9L1275.3 273L1276 273.1L1276.7 273.1L1277.4 273L1278.1 272.8L1278.8 272.5L1279.5 272.1L1280.2 271.6L1280.9 271L1281.6 270.3L1282.3 269.5L1283 268.5L1283.3 268L1283.7 267.5L1284.4 266.2L1285.1 264.7L1285.8 263L1286.5 261.2L1287.2 259.5L1287.9 257.7L1288.6 255.8L1289.3 253.9L1289.9 252L1290.6 250.1L1291.3 248.3L1292 246.5L1292.7 244.8L1293.4 243.2L1293.8 242.5L1294.1 241.8L1294.8 240.5L1295.5 239.4L1296.2 238.4L1296.9 237.5L1297.6 236.6L1298.3 235.8L1299 235.1L1299.7 234.4L1300.4 233.8L1301.1 233.3L1301.8 232.9L1302.5 232.8L1303.2 232.7L1303.9 232.8L1304.2 232.8L1304.6 232.9L1305.3 233.1L1305.9 233.3L1306.6 233.5L1307.3 233.8L1308 234.1L1308.7 234.4L1309.4 234.7L1310.1 235L1310.8 235.3L1311.5 235.6L1312.2 236L1312.9 236.3L1313.6 236.6L1314.3 237L1314.6 237.1L1315 237.3L1315.7 237.6L1316.4 238L1317.1 238.3L1317.8 238.7L1318.5 239L1319.2 239.4L1319.9 239.7L1320.6 240.1L1321.3 240.4L1322 240.8L1322.6 241.1L1325.1 242.3L1330.3 244.8L1335.5 247.5L1340.7 250.3L1346 253L1351.2 255.7L1356.4 258.4L1361.6 261.1L1366.8 263.9L1372.1 266.6L1375.5 268.4L1376.2 268.8L1376.9 269.1L1377.3 269.3L1377.6 269.5L1378.3 269.9L1379 270.2L1379.7 270.6L1380.4 270.9L1381.1 271.3L1381.8 271.6L1382.5 272L1383.2 272.3L1383.9 272.7L1384.6 273.1L1385.3 273.4L1386 273.8L1386.7 274.1L1387.4 274.4L1387.7 274.6L1388.1 274.8L1388.8 275.1L1389.4 275.4L1390.1 275.8L1390.8 276.1L1391.5 276.3L1392.2 276.6L1392.9 276.7L1393.6 276.7L1394.3 276.2L1395 274.5L1395.7 272L1396.4 269L1397.1 265.7L1397.8 262.1L1398.1 260L1398.5 257.8L1399.2 252.5L1399.9 244.9L1400.6 236.8L1401.3 230.1L1402 225L1402.7 220.2L1403.4 215.7L1404.1 211.6L1404.8 207.7L1405.5 204.2L1406.1 200.9L1406.8 198L1407.5 195.4L1408.2 193L1408.6 192L1408.9 190.9L1409.6 189L1410.3 187.3L1411 185.7L1411.7 184.2L1412.4 182.8L1413.1 181.5L1413.8 180.3L1414.5 179.4L1415.2 178.7L1415.9 178.5L1416.6 178.4L1417.3 178.5L1418 178.7L1418.7 178.9L1419 179L1419.4 179.2L1420.1 179.5L1420.8 179.8L1421.5 180.1L1422.2 180.4L1422.8 180.7L1423.5 181.1L1424.2 181.4L1424.9 181.7L1425.6 182.1L1426.3 182.4L1427 182.8L1427.7 183.1L1428.4 183.5L1429.1 183.8L1429.5 184L1429.8 184.2L1430.5 184.5L1431.2 184.9L1431.9 185.3L1432.6 185.6L1433.3 186L1434 186.4L1434.7 186.7L1435.4 187.1L1436.1 187.5L1436.8 187.8L1437.5 188.2L1439.9 189.5L1445.1 192.3L1450.3 195.2L1455.6 198.2L1460.8 201.2L1466 204.2L1471.2 207.3L1476.4 210.4L1481.6 213.6L1486.9 216.8L1492.1 220L1497.3 223.2" fill="none" stroke="#008000" stroke-width="6.3" stroke-linejoin="round" stroke-linecap="round" />
<path d="M881.5 236.1L886.7 239.3L891.9 242.5L897.2 245.8L902.4 249L907.6 252.3L912.8 255.6L918 258.9L923.2 262.1L928.5 265.4L933.7 268.7L938.9 271.9L944.1 275.2L949.3 278.4L954.6 281.7L959.8 284.9L965 288.1L970.2 291.3L975.4 294.4L980.7 297.6L985.9 300.7L991.1 303.8L996.3 306.8L1001.5 309.9L1006.7 312.9L1012 315.8L1017.2 318.7L1022.4 321.6L1027.6 324.4L1032.8 327.2L1034.6 328.1L1035.3 328.5L1036 328.9L1036.7 329.2L1037.4 329.6L1038.1 329.9L1038.8 330.3L1039.5 330.7L1040.1 331L1040.8 331.4L1041.5 331.7L1042.2 332.1L1042.9 332.4L1043.3 332.6L1043.6 332.8L1044.3 333.1L1045 333.5L1045.7 333.8L1046.4 334.2L1047.1 334.5L1047.8 334.9L1048.5 335.2L1049.2 335.5L1049.9 335.9L1050.6 336.2L1051.3 336.5L1052 336.8L1052.7 337.1L1053.4 337.4L1053.7 337.6L1054.1 337.7L1054.8 338L1055.5 338.2L1056.2 338.4L1056.8 338.6L1057.5 338.5L1058.2 338.1L1058.9 337.1L1059.6 335.4L1060.3 333.4L1061 331.2L1061.7 328.8L1062.4 326.3L1063.1 323.7L1063.8 321L1064.2 319.6L1064.5 318.1L1065.2 315L1065.9 311.5L1066.6 307.6L1067.3 303.4L1068 299L1068.7 294.6L1069.4 290.2L1070.1 286L1070.8 282L1071.5 278.4L1072.2 274.7L1072.9 271.1L1073.5 267.5L1074.2 264.1L1074.6 262.6L1074.9 261L1075.6 258.3L1076.3 256L1077 254.2L1077.7 252.7L1078.4 251.4L1079.1 250.3L1079.8 249.3L1080.5 248.5L1081.2 247.8L1081.9 247.2L1082.6 246.9L1083.3 246.8L1084 246.9L1084.7 247.1L1085 247.2L1085.4 247.3L1086.1 247.6L1086.8 247.9L1087.5 248.2L1088.2 248.5L1088.9 248.8L1089.5 249.1L1090.2 249.5L1090.9 249.8L1091.6 250.1L1092.3 250.5L1093 250.8L1093.7 251.2L1094.4 251.5L1095.1 251.9L1095.5 252.1L1095.8 252.2L1096.5 252.6L1100.7 254.7L1105.9 257.4L1111.1 260.1L1116.3 262.8L1121.6 265.5L1126.8 268.2L1132 270.9L1137.2 273.7L1142.4 276.4L1147.7 278.6L1149.4 279.5L1150.1 279.8L1150.8 280.2L1151.5 280.5L1152.2 280.8L1152.9 281.2L1153.6 281.5L1154.3 281.8L1155 282.2L1155.7 282.5L1156.3 282.8L1157 283.1L1157.7 283.4L1158.1 283.6L1158.4 283.7L1159.1 284L1159.8 284.3L1160.5 284.6L1161.2 284.9L1161.9 285.2L1162.6 285.5L1163.3 285.7L1164 286L1164.7 286.2L1165.4 286.4L1166.1 286.6L1166.8 286.8L1167.5 286.9L1168.2 287.1L1168.5 287.1L1168.9 287.1L1169.6 287.1L1170.3 287.1L1171 287L1171.7 286.8L1172.4 286.6L1173 286.3L1173.7 285.9L1174.4 285.5L1175.1 285.1L1175.8 284.6L1176.5 284.2L1177.2 283.6L1177.9 283.1L1178.6 282.5L1179 282.2L1179.3 281.9L1180 281.2L1180.7 280.4L1181.4 279.6L1182.1 278.8L1182.8 277.8L1183.5 276.8L1184.2 275.7L1184.9 274.3L1185.6 272.6L1186.3 270.8L1187 269L1187.7 267L1188.4 265.1L1189.1 263.3L1189.4 262.4L1189.7 261.5L1190.4 259.6L1191.1 257.7L1191.8 255.9L1192.5 254.2L1193.2 252.6L1193.9 251.3L1194.6 250.2L1195.3 249.2L1196 248.5L1196.7 247.8L1197.4 247.3L1198.1 247L1198.8 246.8L1199.5 246.7L1199.8 246.6L1200.2 246.6L1200.9 246.7L1201.6 246.8L1202.3 246.9L1203 247.1L1203.7 247.3L1204.4 247.5L1205.1 247.7L1205.8 247.9L1206.4 248.1L1207.1 248.3L1207.8 248.6L1208.5 248.8L1209.2 249L1209.9 249.3L1210.3 249.4L1210.6 249.5L1211.3 249.8L1212 250L1212.7 250.2L1213.4 250.5L1214.1 250.7L1214.8 251L1215.5 251.2L1216.2 251.5L1216.9 251.7L1217.6 252L1218.3 252.2L1219 252.5L1219.7 252.7L1220.4 253L1220.7 253.1L1221.1 253.2L1221.8 253.5L1222.5 253.7L1223.1 254L1223.8 254.2L1224.5 254.5L1225.2 254.8L1225.9 255L1226.6 255.1L1227.3 255.4L1228 255.6L1228.7 255.9L1229.4 256.1L1230.1 256.4L1230.8 256.7L1231.1 256.8L1231.5 256.9L1232.2 257.2L1232.9 257.4L1233.6 257.7L1234.3 258L1235 258.2L1235.7 258.5L1236.4 258.7L1237.1 259L1237.8 259.2L1238.5 259.5L1239.2 259.8L1239.8 260L1240.5 260.3L1241.2 260.5L1241.6 260.7L1241.9 260.8L1242.6 261L1243.3 261.3L1244 261.6L1244.7 261.8L1245.4 262.1L1246.1 262.3L1246.8 262.6L1247.5 262.9L1248.2 263.1L1248.9 263.4L1249.6 263.6L1250.3 263.9L1251 264.1L1251.7 264.4L1252 264.5L1252.4 264.7L1253.1 264.9L1253.8 265.2L1254.5 265.4L1255.2 265.7L1255.9 265.9L1256.5 266.2L1257.2 266.4L1257.9 266.7L1258.6 266.9L1259.3 267.2L1260 267.4L1260.7 267.7L1261.4 267.9L1262.1 268.2L1262.5 268.3L1262.8 268.4L1263.5 268.7L1264.2 268.9L1264.9 269.2L1265.6 269.4L1266.3 269.7L1267 269.9L1267.7 270.1L1268.4 270.4L1269.1 270.6L1269.8 270.9L1270.5 271.1L1271.2 271.3L1271.9 271.5L1272.6 271.8L1272.9 271.9L1273.2 272L1273.9 272.2L1274.6 272.4L1275.3 272.6L1276 272.7L1276.7 272.9L1277.4 273L1278.1 273.1L1278.8 273.1L1279.5 273L1280.2 272.8L1280.9 272.5L1281.6 272.1L1282.3 271.6L1283 271L1283.3 270.6L1283.7 270.3L1284.4 269.5L1285.1 268.5L1285.8 267.5L1286.5 266.2L1287.2 264.7L1287.9 263L1288.6 261.2L1289.3 259.5L1289.9 257.7L1290.6 255.8L1291.3 253.9L1292 252L1292.7 250.1L1293.4 248.3L1293.8 247.3L1294.1 246.5L1294.8 244.8L1295.5 243.2L1296.2 241.8L1296.9 240.5L1297.6 239.4L1298.3 238.4L1299 237.5L1299.7 236.6L1300.4 235.8L1301.1 235.1L1301.8 234.4L1302.5 233.8L1303.2 233.3L1303.9 232.9L1304.2 232.8L1304.6 232.8L1305.3 232.7L1305.9 232.8L1306.6 232.9L1307.3 233.1L1308 233.3L1308.7 233.5L1309.4 233.8L1310.1 234.1L1310.8 234.4L1311.5 234.7L1312.2 235L1312.9 235.3L1313.6 235.6L1314.3 236L1314.6 236.1L1315 236.3L1315.7 236.6L1316.4 237L1317.1 237.3L1317.8 237.6L1318.5 238L1319.2 238.3L1319.9 238.7L1320.6 239L1321.3 239.4L1322 239.7L1322.6 240.1L1325.1 241.3L1330.3 243.9L1335.5 246.5L1340.7 249.2L1346 251.9L1351.2 254.6L1356.4 257.3L1361.6 260.1L1366.8 262.8L1372.1 265.5L1375.5 267.3L1376.2 267.7L1376.9 268.1L1377.3 268.2L1377.6 268.4L1378.3 268.8L1379 269.1L1379.7 269.5L1380.4 269.9L1381.1 270.2L1381.8 270.6L1382.5 270.9L1383.2 271.3L1383.9 271.6L1384.6 272L1385.3 272.3L1386 272.7L1386.7 273.1L1387.4 273.4L1387.7 273.6L1388.1 273.8L1388.8 274.1L1389.4 274.4L1390.1 274.8L1390.8 275.1L1391.5 275.4L1392.2 275.8L1392.9 276.1L1393.6 276.3L1394.3 276.6L1395 276.7L1395.7 276.7L1396.4 276.2L1397.1 274.5L1397.8 272L1398.1 270.5L1398.5 269L1399.2 265.7L1399.9 262.1L1400.6 257.8L1401.3 252.5L1402 244.9L1402.7 236.8L1403.4 230.1L1404.1 225L1404.8 220.2L1405.5 215.7L1406.1 211.6L1406.8 207.7L1407.5 204.2L1408.2 200.9L1408.6 199.4L1408.9 198L1409.6 195.4L1410.3 193L1411 190.9L1411.7 189L1412.4 187.3L1413.1 185.7L1413.8 184.2L1414.5 182.8L1415.2 181.5L1415.9 180.3L1416.6 179.4L1417.3 178.7L1418 178.5L1418.7 178.4L1419 178.5L1419.4 178.5L1420.1 178.7L1420.8 178.9L1421.5 179.2L1422.2 179.5L1422.8 179.8L1423.5 180.1L1424.2 180.4L1424.9 180.7L1425.6 181.1L1426.3 181.4L1427 181.7L1427.7 182.1L1428.4 182.4L1429.1 182.8L1429.5 182.9L1429.8 183.1L1430.5 183.5L1431.2 183.8L1431.9 184.2L1432.6 184.5L1433.3 184.9L1434 185.3L1434.7 185.6L1435.4 186L1436.1 186.4L1436.8 186.7L1437.5 187.1L1439.9 188.4L1445.1 191.1L1450.3 194L1455.6 197L1460.8 200L1466 203L1471.2 206.1L1476.4 209.2L1481.6 212.3L1486.9 215.5L1492.1 218.7L1497.3 221.9" fill="none" stroke="#008000" stroke-width="6.3" stroke-linejoin="round" stroke-linecap="round" />
<path d="M881.5 248.5L885 249.6L888.5 250.7L891.9 251.8L895.4 252.9L898.9 254L902.4 255.1L905.9 256.2L909.3 257.3L912.8 258.4L916.3 259.5L919.8 260.6L923.2 261.7L926.7 262.8L930.2 263.9L933.7 265L937.2 266L940.6 267.1L944.1 268.2L947.6 269.3L951.1 270.4L954.6 271.4L958 272.5L961.5 273.6L965 274.6L968.5 275.6L972 276.6L975.4 277.6L978.9 278.7L982.4 279.7L985.9 280.7L989.4 281.8L992.8 282.9L996.3 284.1L999.8 285.4L1003.3 286.8L1006.7 288.2L1010.2 289.6L1013.7 291L1017.2 292.4L1020.7 293.6L1024.1 294.7L1027.6 295.6L1031.1 296.3L1034.6 296.9L1038.1 297.4L1041.5 297.8L1045 298.3L1048.5 299L1052 299.7L1055.5 300.5L1058.9 301.1L1062.4 301.4L1065.9 301.3L1069.4 300.7L1072.9 299.9L1076.3 298.8L1079.8 296.7L1083.3 293.2L1086.8 289.4L1090.2 285.4L1093.7 281L1097.2 276.5L1100.7 271.6L1104.2 266.5L1107.6 262.3L1111.1 259.8L1114.6 258.3L1118.1 257.2L1121.6 256.1L1125 255.3L1128.5 254.7L1132 253.8L1135.5 249.7L1139 245.5L1142.4 244.5L1145.9 244.3L1149.4 244.1L1152.9 244.2L1156.3 244.6L1159.8 245.1L1163.3 245.7L1166.8 246.2L1170.3 246.7L1173.7 247.3L1177.2 247.9L1180.7 248.5L1184.2 249.1L1187.7 249.7L1191.1 250.3L1194.6 251L1198.1 251.6L1201.6 252.2L1205.1 252.7L1208.5 253.2L1212 253.8L1215.5 254.3L1219 254.8L1222.5 255.3L1225.9 255.9L1229.4 256.6L1232.9 257.3L1236.4 258.1L1239.8 258.9L1243.3 259.8L1246.8 260.7L1250.3 261.7L1253.8 262.6L1257.2 263.5L1260.7 264.5L1264.2 265.5L1267.7 266.5L1271.2 267.5L1274.6 268.5L1278.1 269.6L1281.6 270.6L1285.1 271.5L1288.6 272.5L1292 273.5L1295.5 274.6L1299 275.6L1302.5 276.6L1305.9 277.4L1309.4 278L1312.9 278.4L1316.4 278.9L1319.9 279.3L1323.3 279.5L1326.8 279.7L1330.3 279.5L1333.8 278.8L1337.3 277.7L1340.7 276.5L1344.2 274.3L1347.7 271L1351.2 267.5L1354.7 263.8L1358.1 260.6L1361.6 259L1365.1 257.9L1368.6 256.4L1372.1 252L1375.5 245.4L1379 238.1L1382.5 231.8L1386 226.6L1389.4 222.5L1392.9 220.8L1396.4 219.7L1399.9 219.1L1403.4 218.9L1406.8 219.2L1410.3 219.7L1413.8 220.4L1417.3 221.2L1420.8 222.1L1424.2 222.9L1427.7 223.7L1431.2 224.6L1434.7 225.6L1438.2 226.6L1441.6 227.7L1445.1 228.8L1448.6 229.8L1452.1 230.9L1455.6 231.8L1459 232.7L1462.5 233.7L1466 234.6L1469.5 235.5L1472.9 236.3L1476.4 237.2L1479.9 238.1L1483.4 238.9L1486.9 239.8L1490.3 240.6L1493.8 241.4L1497.3 242.2" fill="none" stroke="#ff0000" stroke-width="6.5" stroke-linejoin="round" stroke-linecap="round" />
<path d="M881.5 255L885 255.5L888.5 256L891.9 256.5L895.4 257L898.9 257.5L902.4 258L905.9 258.5L909.3 259L912.8 259.6L916.3 260.1L919.8 260.6L923.2 261.1L926.7 261.7L930.2 262.3L933.7 262.8L937.2 263.4L940.6 264L944.1 264.6L947.6 265.1L951.1 265.6L954.6 266.1L958 266.6L961.5 267L965 267.5L968.5 267.9L972 268.4L975.4 268.9L978.9 269.3L982.4 269.7L985.9 270.1L989.4 270.4L992.8 270.6L996.3 270.8L999.8 270.8L1003.3 270.8L1006.7 270.6L1010.2 270.4L1013.7 270.1L1017.2 269.7L1020.7 269.3L1024.1 268.8L1027.6 268.3L1031.1 267.7L1034.6 267.2L1038.1 266.6L1041.5 266.1L1045 265.6L1048.5 265L1052 264.4L1055.5 263.8L1058.9 263.1L1062.4 262.4L1065.9 261.7L1069.4 261L1072.9 260.3L1076.3 259.5L1079.8 258.8L1083.3 258.1L1086.8 257.2L1090.2 256.4L1093.7 255.5L1097.2 254.7L1100.7 253.9L1104.2 253.1L1107.6 252.5L1111.1 252.1L1114.6 251.7L1118.1 251.3L1121.6 251L1125 250.9L1128.5 250.9L1132 251.1L1135.5 251.3L1139 251.6L1142.4 252L1145.9 252.3L1149.4 252.7L1152.9 253L1156.3 253.4L1159.8 253.8L1163.3 254.2L1166.8 254.7L1170.3 255.1L1173.7 255.5L1177.2 255.9L1180.7 256.3L1184.2 256.7L1187.7 257L1191.1 257.3L1194.6 257.6L1198.1 257.8L1201.6 258.1L1205.1 258.3L1208.5 258.5L1212 258.8L1215.5 259L1219 259.2L1222.5 259.4L1225.9 259.7L1229.4 259.9L1232.9 260.2L1236.4 260.4L1239.8 260.7L1243.3 261L1246.8 261.3L1250.3 261.6L1253.8 261.9L1257.2 262.2L1260.7 262.5L1264.2 262.8L1267.7 263.1L1271.2 263.4L1274.6 263.6L1278.1 263.9L1281.6 264.1L1285.1 264.3L1288.6 264.6L1292 264.9L1295.5 265.1L1299 265.4L1302.5 265.8L1305.9 266.1L1309.4 266.4L1312.9 266.8L1316.4 267.2L1319.9 267.5L1323.3 268L1326.8 268.5L1330.3 269.1L1333.8 269.7L1337.3 270.3L1340.7 270.9L1344.2 271.4L1347.7 271.8L1351.2 272L1354.7 272.1L1358.1 272L1361.6 271.8L1365.1 271.4L1368.6 270.9L1372.1 270.2L1375.5 269.5L1379 268.8L1382.5 268L1386 267.2L1389.4 266.4L1392.9 265.6L1396.4 264.7L1399.9 263.8L1403.4 262.7L1406.8 261.6L1410.3 260.5L1413.8 259.3L1417.3 258.1L1420.8 257L1424.2 255.9L1427.7 254.8L1431.2 253.5L1434.7 252.2L1438.2 251L1441.6 249.9L1445.1 249.1L1448.6 248.7L1452.1 248.4L1455.6 248.2L1459 248.1L1462.5 248L1466 248L1469.5 248.1L1472.9 248.3L1476.4 248.5L1479.9 248.8L1483.4 249.2L1486.9 249.7L1490.3 250.2L1493.8 250.8L1497.3 251.5" fill="none" stroke="#0000ff" stroke-width="6.0" stroke-linejoin="round" stroke-linecap="round" />
<path d="M881.5 255L885 255.5L888.5 256L891.9 256.4L895.4 256.9L898.9 257.4L902.4 257.9L905.9 258.5L909.3 259L912.8 259.5L916.3 260.1L919.8 260.6L923.2 261.2L926.7 261.8L930.2 262.4L933.7 263L937.2 263.7L940.6 264.3L944.1 265L947.6 265.6L951.1 266.3L954.6 267L958 267.6L961.5 268.2L965 268.8L968.5 269.4L972 270L975.4 270.5L978.9 271L982.4 271.5L985.9 272L989.4 272.5L992.8 273L996.3 273.4L999.8 273.9L1003.3 274.3L1006.7 274.7L1010.2 275.1L1013.7 275.6L1017.2 276L1020.7 276.4L1024.1 276.8L1027.6 277.2L1031.1 277.6L1034.6 278.1L1038.1 278.5L1041.5 279L1045 279.5L1048.5 279.8L1052 279.9L1055.5 279.9L1058.9 279.8L1062.4 279.5L1065.9 279.2L1069.4 278.8L1072.9 278.4L1076.3 277.9L1079.8 277.5L1083.3 277L1086.8 276.3L1090.2 275.6L1093.7 274.8L1097.2 274L1100.7 273.2L1104.2 272.3L1107.6 271.5L1111.1 270.8L1114.6 270.1L1118.1 269.5L1121.6 268.8L1125 268.2L1128.5 267.5L1132 266.9L1135.5 266.3L1139 265.7L1142.4 265.1L1145.9 264.5L1149.4 263.9L1152.9 263.3L1156.3 262.8L1159.8 262.2L1163.3 261.6L1166.8 260.9L1170.3 260.1L1173.7 259.4L1177.2 259L1180.7 258.7L1184.2 258.5L1187.7 258.3L1191.1 258.1L1194.6 258L1198.1 257.9L1201.6 257.9L1205.1 258L1208.5 258.1L1212 258.3L1215.5 258.5L1219 258.8L1222.5 259.1L1225.9 259.4L1229.4 259.7L1232.9 260L1236.4 260.2L1239.8 260.5L1243.3 260.8L1246.8 261.2L1250.3 261.5L1253.8 261.8L1257.2 262.1L1260.7 262.4L1264.2 262.6L1267.7 262.7L1271.2 262.8L1274.6 262.8L1278.1 262.7L1281.6 262.6L1285.1 262.4L1288.6 262.2L1292 262L1295.5 261.7L1299 261.5L1302.5 261.2L1305.9 260.7L1309.4 260.2L1312.9 259.5L1316.4 258.9L1319.9 258.3L1323.3 257.8L1326.8 257.3L1330.3 256.9L1333.8 256.4L1337.3 256L1340.7 255.5L1344.2 255L1347.7 254.6L1351.2 254.1L1354.7 253.5L1358.1 253L1361.6 252.3L1365.1 251.7L1368.6 250.9L1372.1 250.2L1375.5 249.4L1379 248.6L1382.5 247.9L1386 247.1L1389.4 246.4L1392.9 245.7L1396.4 245L1399.9 244.2L1403.4 243.5L1406.8 242.8L1410.3 242.3L1413.8 242.1L1417.3 242.2L1420.8 242.3L1424.2 242.6L1427.7 242.9L1431.2 243.3L1434.7 243.7L1438.2 244.1L1441.6 244.5L1445.1 245L1448.6 245.3L1452.1 245.7L1455.6 246.1L1459 246.4L1462.5 246.8L1466 247.2L1469.5 247.6L1472.9 248.1L1476.4 248.5L1479.9 248.9L1483.4 249.3L1486.9 249.8L1490.3 250.2L1493.8 250.7L1497.3 251.2" fill="none" stroke="#0000ff" stroke-width="6.0" stroke-linejoin="round" stroke-linecap="round" />
</g>
<line x1="919.8" y1="181.6" x2="919.8" y2="340" stroke="#000" stroke-width="3.5" stroke-dasharray="7.3 6.44" stroke-dashoffset="0"/>
<line x1="1045" y1="181.6" x2="1045" y2="508.7" stroke="#000" stroke-width="3.5" stroke-dasharray="7.3 6.44" stroke-dashoffset="0"/>
<line x1="1110.9" y1="181.6" x2="1110.9" y2="340" stroke="#000" stroke-width="3.5" stroke-dasharray="7.3 6.44" stroke-dashoffset="0"/>
<line x1="1235" y1="181.6" x2="1235" y2="340" stroke="#000" stroke-width="3.5" stroke-dasharray="7.3 6.44" stroke-dashoffset="0"/>
<line x1="1357.8" y1="181.6" x2="1357.8" y2="340" stroke="#000" stroke-width="3.5" stroke-dasharray="7.3 6.44" stroke-dashoffset="0"/>
<line x1="1425.6" y1="12.5" x2="1425.6" y2="341" stroke="#000" stroke-width="3.5" stroke-dasharray="7.3 6.44" stroke-dashoffset="3"/>
<line x1="112.5" y1="876.6" x2="728.4" y2="876.6" stroke="#000" stroke-width="2.2"/>
<line x1="118.7" y1="627.7" x2="118.7" y2="1124.3" stroke="#000" stroke-width="3.3" stroke-dasharray="7 5.6" stroke-dashoffset="9.6"/>
<line x1="257.2" y1="627.7" x2="257.2" y2="1124.3" stroke="#000" stroke-width="3.3" stroke-dasharray="7 5.6" stroke-dashoffset="9.6"/>
<line x1="395.8" y1="627.7" x2="395.8" y2="1124.3" stroke="#000" stroke-width="3.3" stroke-dasharray="7 5.6" stroke-dashoffset="9.6"/>
<line x1="534.4" y1="627.7" x2="534.4" y2="1124.3" stroke="#000" stroke-width="3.3" stroke-dasharray="7 5.6" stroke-dashoffset="9.6"/>
<line x1="673" y1="627.7" x2="673" y2="1124.3" stroke="#000" stroke-width="3.3" stroke-dasharray="7 5.6" stroke-dashoffset="9.6"/>
<g clip-path="url(#clipC)">
<path d="M112.5 671.5L115.6 671.4L118.7 671.4L121.7 671.4L124.8 671.5L127.9 671.7L131 671.9L134.1 672.2L137.1 672.5L140.2 672.9L143.3 673.4L146.4 673.9L149.5 674.5L152.5 675.2L155.6 675.9L158.7 676.7L161.8 677.5L164.9 678.4L167.9 679.3L171 680.4L174.1 681.4L177.2 682.6L180.2 683.8L183.3 685L186.4 686.3L189.5 687.7L192.6 689.1L195.6 690.6L198.7 692.2L201.8 693.8L204.9 695.4L208 697.1L211 698.9L214.1 700.7L217.2 702.6L220.3 704.5L223.4 706.5L226.4 708.5L229.5 710.6L232.6 712.7L235.7 714.9L238.8 717.1L241.8 719.4L244.9 721.7L248 724.1L251.1 726.5L254.2 729L257.2 731.5L260.3 734L263.4 736.6L266.5 739.3L269.6 742L272.6 744.7L275.7 747.4L278.8 750.2L281.9 753.1L285 756L288 758.9L291.1 761.8L294.2 764.8L297.3 767.8L300.3 770.9L303.4 774L306.5 777.1L309.6 780.2L312.7 783.4L315.7 786.6L318.8 789.9L321.9 793.1L325 796.4L328.1 799.7L331.1 803L334.2 806.4L337.3 809.8L340.4 813.2L343.5 816.6L346.5 820L349.6 823.5L352.7 826.9L355.8 830.4L358.9 833.9L361.9 837.4L365 840.9L368.1 844.5L371.2 848L374.3 851.6L377.3 855.1L380.4 858.7L383.5 862.2L386.6 865.8L389.7 869.4L392.7 873L395.8 876.6L398.9 880.1L402 883.7L405.1 887.3L408.1 890.9L411.2 894.4L414.3 898L417.4 901.6L420.4 905.1L423.5 908.6L426.6 912.2L429.7 915.7L432.8 919.2L435.8 922.7L438.9 926.2L442 929.7L445.1 933.1L448.2 936.5L451.2 940L454.3 943.3L457.4 946.7L460.5 950.1L463.6 953.4L466.6 956.7L469.7 960L472.8 963.3L475.9 966.5L479 969.7L482 972.9L485.1 976L488.2 979.1L491.3 982.2L494.4 985.3L497.4 988.3L500.5 991.3L503.6 994.2L506.7 997.1L509.8 1000L512.8 1002.9L515.9 1005.7L519 1008.4L522.1 1011.2L525.2 1013.8L528.2 1016.5L531.3 1019.1L534.4 1021.6L537.5 1024.1L540.6 1026.6L543.6 1029L546.7 1031.4L549.8 1033.7L552.9 1036L555.9 1038.2L559 1040.4L562.1 1042.5L565.2 1044.6L568.3 1046.6L571.3 1048.6L574.4 1050.5L577.5 1052.4L580.6 1054.2L583.7 1056L586.7 1057.7L589.8 1059.4L592.9 1060.9L596 1062.5L599.1 1064L602.1 1065.4L605.2 1066.8L608.3 1068.1L611.4 1069.3L614.5 1070.5L617.5 1071.7L620.6 1072.7L623.7 1073.8L626.8 1074.7L629.9 1075.6L632.9 1076.5L636 1077.2L639.1 1077.9L642.2 1078.6L645.3 1079.2L648.3 1079.7L651.4 1080.2L654.5 1080.6L657.6 1080.9L660.7 1081.2L663.7 1081.4L666.8 1081.6L669.9 1081.7L673 1081.7L676 1081.7L679.1 1081.6L682.2 1081.4L685.3 1081.2L688.4 1080.9L691.4 1080.6L694.5 1080.2L697.6 1079.7L700.7 1079.2L703.8 1078.6L706.8 1077.9L709.9 1077.2L713 1076.5L716.1 1075.6L719.2 1074.7L722.2 1073.8L725.3 1072.7L728.4 1071.7" fill="none" stroke="#800000" stroke-width="3.7" stroke-linejoin="round" stroke-linecap="round" />
<path d="M112.5 883.7L115.6 880.1L118.7 876.6L121.7 873L124.8 869.4L127.9 865.8L131 862.2L134.1 858.7L137.1 855.1L140.2 851.6L143.3 848L146.4 844.5L149.5 840.9L152.5 837.4L155.6 833.9L158.7 830.4L161.8 826.9L164.9 823.5L167.9 820L171 816.6L174.1 813.2L177.2 809.8L180.2 806.4L183.3 803L186.4 799.7L189.5 796.4L192.6 793.1L195.6 789.9L198.7 786.6L201.8 783.4L204.9 780.2L208 777.1L211 774L214.1 770.9L217.2 767.8L220.3 764.8L223.4 761.8L226.4 758.9L229.5 756L232.6 753.1L235.7 750.2L238.8 747.4L241.8 744.7L244.9 742L248 739.3L251.1 736.6L254.2 734L257.2 731.5L260.3 729L263.4 726.5L266.5 724.1L269.6 721.7L272.6 719.4L275.7 717.1L278.8 714.9L281.9 712.7L285 710.6L288 708.5L291.1 706.5L294.2 704.5L297.3 702.6L300.3 700.7L303.4 698.9L306.5 697.1L309.6 695.4L312.7 693.8L315.7 692.2L318.8 690.6L321.9 689.1L325 687.7L328.1 686.3L331.1 685L334.2 683.8L337.3 682.6L340.4 681.4L343.5 680.4L346.5 679.3L349.6 678.4L352.7 677.5L355.8 676.7L358.9 675.9L361.9 675.2L365 674.5L368.1 673.9L371.2 673.4L374.3 672.9L377.3 672.5L380.4 672.2L383.5 671.9L386.6 671.7L389.7 671.5L392.7 671.4L395.8 671.4L398.9 671.4L402 671.5L405.1 671.7L408.1 671.9L411.2 672.2L414.3 672.5L417.4 672.9L420.4 673.4L423.5 673.9L426.6 674.5L429.7 675.2L432.8 675.9L435.8 676.7L438.9 677.5L442 678.4L445.1 679.3L448.2 680.4L451.2 681.4L454.3 682.6L457.4 683.8L460.5 685L463.6 686.3L466.6 687.7L469.7 689.1L472.8 690.6L475.9 692.2L479 693.8L482 695.4L485.1 697.1L488.2 698.9L491.3 700.7L494.4 702.6L497.4 704.5L500.5 706.5L503.6 708.5L506.7 710.6L509.8 712.7L512.8 714.9L515.9 717.1L519 719.4L522.1 721.7L525.2 724.1L528.2 726.5L531.3 729L534.4 731.5L537.5 734L540.6 736.6L543.6 739.3L546.7 742L549.8 744.7L552.9 747.4L555.9 750.2L559 753.1L562.1 756L565.2 758.9L568.3 761.8L571.3 764.8L574.4 767.8L577.5 770.9L580.6 774L583.7 777.1L586.7 780.2L589.8 783.4L592.9 786.6L596 789.9L599.1 793.1L602.1 796.4L605.2 799.7L608.3 803L611.4 806.4L614.5 809.8L617.5 813.2L620.6 816.6L623.7 820L626.8 823.5L629.9 826.9L632.9 830.4L636 833.9L639.1 837.4L642.2 840.9L645.3 844.5L648.3 848L651.4 851.6L654.5 855.1L657.6 858.7L660.7 862.2L663.7 865.8L666.8 869.4L669.9 873L673 876.6L676 880.1L679.1 883.7L682.2 887.3L685.3 890.9L688.4 894.4L691.4 898L694.5 901.6L697.6 905.1L700.7 908.6L703.8 912.2L706.8 915.7L709.9 919.2L713 922.7L716.1 926.2L719.2 929.7L722.2 933.1L725.3 936.5L728.4 940" fill="none" stroke="#800000" stroke-width="3.7" stroke-linejoin="round" stroke-linecap="round" />
<path d="M112.5 869.4L115.6 873L118.7 876.6L121.7 879.8L124.8 883L127.9 886.2L131 889.4L134.1 892.7L137.1 895.9L140.2 899.1L143.3 902.4L146.4 905.6L149.5 908.8L152.5 912.1L155.6 915.4L158.7 918.6L161.8 921.9L164.9 925.2L167.9 928.4L171 931.7L174.1 935L177.2 938.3L180.2 941.6L183.3 944.9L186.4 948.2L189.5 951.5L192.6 954.8L195.6 958.2L198.7 961.5L201.8 964.8L204.9 968.1L208 971.4L211 974.6L214.1 977.9L217.2 981.2L220.3 984.4L223.4 987.7L226.4 990.9L229.5 994.1L232.6 997.3L235.7 1000.4L238.8 1003.6L241.8 1006.7L244.9 1009.7L248 1012.8L251.1 1015.8L254.2 1018.7L257.2 1021.6L260.3 1024.1L263.4 1026.6L266.5 1029L269.6 1031.4L272.6 1033.7L275.7 1036L278.8 1038.2L281.9 1040.4L285 1042.5L288 1044.6L291.1 1046.6L294.2 1048.6L297.3 1050.5L300.3 1052.4L303.4 1054.2L306.5 1056L309.6 1057.7L312.7 1059.4L315.7 1060.9L318.8 1062.5L321.9 1064L325 1065.4L328.1 1066.8L331.1 1068.1L334.2 1069.3L337.3 1070.5L340.4 1071.7L343.5 1072.7L346.5 1073.8L349.6 1074.7L352.7 1075.6L355.8 1076.5L358.9 1077.2L361.9 1077.9L365 1078.6L368.1 1079.2L371.2 1079.7L374.3 1080.2L377.3 1080.6L380.4 1080.9L383.5 1081.2L386.6 1081.4L389.7 1081.6L392.7 1081.7L395.8 1081.7L398.9 1081.7L402 1081.6L405.1 1081.4L408.1 1081.2L411.2 1080.9L414.3 1080.6L417.4 1080.2L420.4 1079.7L423.5 1079.2L426.6 1078.6L429.7 1077.9L432.8 1077.2L435.8 1076.5L438.9 1075.6L442 1074.7L445.1 1073.8L448.2 1072.7L451.2 1071.7L454.3 1070.5L457.4 1069.3L460.5 1068.1L463.6 1066.8L466.6 1065.4L469.7 1064L472.8 1062.5L475.9 1060.9L479 1059.4L482 1057.7L485.1 1056L488.2 1054.2L491.3 1052.4L494.4 1050.5L497.4 1048.6L500.5 1046.6L503.6 1044.6L506.7 1042.5L509.8 1040.4L512.8 1038.2L515.9 1036L519 1033.7L522.1 1031.4L525.2 1029L528.2 1026.6L531.3 1024.1L534.4 1021.6L537.5 1019.1L540.6 1016.5L543.6 1013.8L546.7 1011.2L549.8 1008.4L552.9 1005.7L555.9 1002.9L559 1000L562.1 997.1L565.2 994.2L568.3 991.3L571.3 988.3L574.4 985.3L577.5 982.2L580.6 979.1L583.7 976L586.7 972.9L589.8 969.7L592.9 966.5L596 963.3L599.1 960L602.1 956.7L605.2 953.4L608.3 950.1L611.4 946.7L614.5 943.3L617.5 940L620.6 936.5L623.7 933.1L626.8 929.7L629.9 926.2L632.9 922.7L636 919.2L639.1 915.7L642.2 912.2L645.3 908.6L648.3 905.1L651.4 901.6L654.5 898L657.6 894.4L660.7 890.9L663.7 887.3L666.8 883.7L669.9 880.1L673 876.6L676 873L679.1 869.4L682.2 865.8L685.3 862.2L688.4 858.7L691.4 855.1L694.5 851.6L697.6 848L700.7 844.5L703.8 840.9L706.8 837.4L709.9 833.9L713 830.4L716.1 826.9L719.2 823.5L722.2 820L725.3 816.6L728.4 813.2" fill="none" stroke="#800000" stroke-width="3.7" stroke-linejoin="round" stroke-linecap="round" />
<line x1="249.2" y1="761.2" x2="289.33" y2="796.10" stroke="#ff4040" stroke-width="5.8" stroke-linecap="round" stroke-dasharray="0 10.576"/>
<line x1="243" y1="792.4" x2="291.23" y2="833.59" stroke="#ff4040" stroke-width="5.8" stroke-linecap="round" stroke-dasharray="0 10.521"/>
<line x1="243" y1="828.6" x2="284.03" y2="862.69" stroke="#ff4040" stroke-width="5.8" stroke-linecap="round" stroke-dasharray="0 10.609"/>
<line x1="236.9" y1="859.8" x2="277.93" y2="893.89" stroke="#ff0000" stroke-width="5.8" stroke-linecap="round" stroke-dasharray="0 10.609"/>
<line x1="230.5" y1="891" x2="271.53" y2="924.39" stroke="#ff4040" stroke-width="5.8" stroke-linecap="round" stroke-dasharray="0 10.520"/>
<line x1="230.5" y1="926.9" x2="263.23" y2="953.99" stroke="#ff4040" stroke-width="5.8" stroke-linecap="round" stroke-dasharray="0 10.547"/>
<line x1="224.4" y1="956.4" x2="264.63" y2="991.30" stroke="#ff4040" stroke-width="5.8" stroke-linecap="round" stroke-dasharray="0 10.591"/>
<line x1="516.6" y1="754" x2="573.03" y2="801.89" stroke="#ff4040" stroke-width="5.8" stroke-linecap="round" stroke-dasharray="0 10.531"/>
<line x1="516.6" y1="790" x2="565.53" y2="830.69" stroke="#ff4040" stroke-width="5.8" stroke-linecap="round" stroke-dasharray="0 10.557"/>
<line x1="516.6" y1="826.5" x2="566.13" y2="866.69" stroke="#ff4040" stroke-width="5.8" stroke-linecap="round" stroke-dasharray="0 10.581"/>
<line x1="510.7" y1="857.2" x2="560.73" y2="897.89" stroke="#ff0000" stroke-width="5.8" stroke-linecap="round" stroke-dasharray="0 10.698"/>
<line x1="510.7" y1="893.1" x2="560.73" y2="933.99" stroke="#ff4040" stroke-width="5.8" stroke-linecap="round" stroke-dasharray="0 10.719"/>
<line x1="510.7" y1="929" x2="559.93" y2="969.19" stroke="#ff4040" stroke-width="5.8" stroke-linecap="round" stroke-dasharray="0 10.542"/>
<line x1="504.6" y1="959.6" x2="554.13" y2="1000.59" stroke="#ff4040" stroke-width="5.8" stroke-linecap="round" stroke-dasharray="0 10.666"/>
<path d="M112.5 889.1L117.1 892.1L121.7 896L126.4 900.2L131 904.4L135.6 908.7L140.2 913L144.8 917.4L149.5 921.8L154.1 926.3L158.7 930.8L163.3 935.3L167.9 939.9L172.6 944.6L177.2 949.2L181.8 953.9L186.4 958.7L191 963.5L195.6 968.3L200.3 973.2L204.9 978.1L209.5 983L214.1 988L218.7 993L223.4 998.1L228 1003.1L229.5 1004.8L230.1 1005.5L230.8 1006.2L231.4 1006.9L232 1007.6L232.6 1008.2L233.2 1008.9L233.8 1009.6L234.4 1010.3L235.1 1010.9L235.7 1011.6L236.3 1012.3L236.9 1013L237.2 1013.3L237.5 1013.6L238.1 1014.3L238.8 1014.9L239.4 1015.6L240 1016.2L240.6 1016.8L241.2 1017.3L241.8 1017.7L242.5 1017.9L243.1 1017.6L243.7 1016.4L244.3 1014.5L244.9 1012L245.5 1009.1L246.2 1005.6L246.5 1003.6L246.8 1001.5L247.4 996.8L248 991.5L248.6 985.8L249.2 979.7L249.8 972.9L250.5 965.3L251.1 957.1L251.7 948.5L252.3 939.7L252.9 930.9L253.5 922.2L254.2 913.3L254.8 904.3L255.4 895.1L255.7 890.5L256 885.8L256.6 876.6L257.2 867.3L257.9 857.8L258.5 848.3L259.1 838.8L259.7 829.4L260.3 820.1L260.9 810.1L261.5 799.9L262.2 790.1L262.8 781.3L263.4 774.2L264 769.2L264.6 764.9L264.9 762.9L265.2 761.2L265.9 758.2L266.5 756.1L267.1 755L267.7 754.8L268.3 755L268.9 755.3L269.6 755.7L270.2 756.2L270.8 756.6L271.4 757.1L272 757.6L272.6 758.1L273.2 758.6L273.9 759.2L274.2 759.4L274.5 759.7L275.1 760.2L275.7 760.8L276.3 761.3L276.9 761.9L277.6 762.4L278.2 763L278.8 763.5L279.4 764.1L280 764.6L280.6 765.2L281.3 765.8L281.9 766.3L282.5 766.9L283.1 767.5L283.4 767.7L283.7 768L284.3 768.6L288 772L292.7 776.3L297.3 780.7L301.9 785.1L306.5 789.5L311.1 794L315.7 798.5L320.4 803L325 807.5L329.6 812.1L334.2 816.7L338.8 821.4L343.5 826L348.1 830.7L352.7 835.5L357.3 840.2L361.9 845L366.6 849.8L371.2 854.7L375.8 859.6L380.4 864.5L385 869.4L389.7 874.4L394.3 879.4L398.9 884.4L403.5 889.4L408.1 894.5L412.8 899.6L417.4 904.8L422 910L426.6 915.2L431.2 920.4L435.8 925.6L440.5 930.9L445.1 936.2L449.7 941.6L454.3 947L458.9 952.4L463.6 957.8L468.2 963.3L472.8 968.7L477.4 974.3L482 979.8L486.7 985.4L491.3 991L495.9 996.6L500.5 1002.2L503.6 1006L504.2 1006.8L504.8 1007.5L505.1 1007.9L505.4 1008.3L506.1 1009L506.7 1009.8L507.3 1010.5L507.9 1011.3L508.5 1012.1L509.1 1012.8L509.8 1013.6L510.4 1014.3L511 1015L511.6 1015.8L512.2 1016.5L512.8 1017.3L513.5 1018L514.1 1018.7L514.4 1019L514.7 1019.4L515.3 1020L515.9 1020.7L516.5 1021.2L517.1 1021.4L517.8 1021.2L518.4 1020L519 1018L519.6 1015.6L520.2 1013.1L520.8 1010.5L521.5 1007.7L522.1 1004.6L522.7 1001L523.3 996.9L523.6 994.7L523.9 992.3L524.5 987.1L525.2 981.6L525.8 975.6L526.4 969L527 961.7L527.6 953.8L528.2 945.4L528.8 936.9L529.5 928.3L530.1 919.8L530.7 911.2L531.3 902.4L531.9 893.5L532.5 884.6L532.9 880L533.2 875.5L533.8 866.5L534.4 857.3L535 848.1L535.6 838.8L536.2 829.6L536.9 820.6L537.5 811.2L538.1 801.3L538.7 791.4L539.3 782.2L539.9 774.1L540.6 767.8L541.2 763.2L541.8 759.1L542.1 757.2L542.4 755.5L543 752.4L543.6 750L544.2 748.3L544.9 747.2L545.5 746.7L546.1 746.5L546.7 746.6L547.3 746.8L547.9 747.1L548.6 747.5L549.2 747.9L549.8 748.3L550.4 748.8L551 749.3L551.3 749.5L551.6 749.8L552.3 750.3L552.9 750.8L553.5 751.3L554.1 751.8L554.7 752.4L555.3 752.9L555.9 753.5L556.6 754L557.2 754.5L557.8 755.1L558.4 755.6L559 756.2L559.6 756.7L560.3 757.3L560.6 757.6L560.9 757.9L561.5 758.4L565.2 761.8L569.8 766.2L574.4 770.6L579 775.1L583.7 779.7L588.3 784.4L592.9 789.1L597.5 793.9L602.1 798.7L606.8 803.6L611.4 808.6L616 813.5L620.6 818.6L625.2 823.7L629.9 828.8L634.5 833.9L639.1 839.1L643.7 844.3L648.3 849.6L653 854.8L657.6 860.1L662.2 865.3L666.8 870.6L671.4 875.9L676 881.2L680.7 886.5L685.3 891.8L689.9 897.1L694.5 902.3L699.1 907.6L703.8 912.8L708.4 918L713 923.2L717.6 928.3L722.2 933.4L726.9 938.5L728.4 940.2" fill="none" stroke="#000" stroke-width="6.5" stroke-linejoin="round" stroke-linecap="round" />
</g>
<rect x="124" y="1077.5" width="486" height="46" fill="#fff"/>
<line x1="883.9" y1="874.6" x2="1499.9" y2="874.6" stroke="#000" stroke-width="2.2"/>
<line x1="924.6" y1="626.6" x2="924.6" y2="1123" stroke="#000" stroke-width="3.3" stroke-dasharray="7 5" stroke-dashoffset="7.3"/>
<line x1="1047.5" y1="626.6" x2="1047.5" y2="1123" stroke="#000" stroke-width="3.3" stroke-dasharray="7 5" stroke-dashoffset="7.3"/>
<line x1="1115.3" y1="626.6" x2="1115.3" y2="1123" stroke="#000" stroke-width="3.3" stroke-dasharray="7 5" stroke-dashoffset="7.3"/>
<line x1="1238.2" y1="626.6" x2="1238.2" y2="1123" stroke="#000" stroke-width="3.3" stroke-dasharray="7 5" stroke-dashoffset="7.3"/>
<line x1="1360.7" y1="626.6" x2="1360.7" y2="1123" stroke="#000" stroke-width="3.3" stroke-dasharray="7 5" stroke-dashoffset="7.3"/>
<line x1="1428.6" y1="626.6" x2="1428.6" y2="1123" stroke="#000" stroke-width="3.3" stroke-dasharray="7 5" stroke-dashoffset="7.3"/>
<g clip-path="url(#clipD)">
<path d="M883.9 766L887.4 763.9L890.9 762L894.3 760L897.8 758.1L901.3 756.2L904.8 754.4L908.3 752.6L911.7 750.8L915.2 749.1L918.7 747.4L922.2 745.7L925.7 744.1L929.1 742.5L932.6 741L936.1 739.5L939.6 738.1L943.1 736.6L946.5 735.3L950 734L953.5 732.7L957 731.4L960.5 730.2L963.9 729.1L967.4 728L970.9 726.9L974.4 725.9L977.9 724.9L981.3 724L984.8 723.1L988.3 722.3L991.8 721.5L995.3 720.7L998.7 720L1002.2 719.4L1005.7 718.8L1009.2 718.2L1012.7 717.7L1016.1 717.3L1019.6 716.9L1023.1 716.5L1026.6 716.2L1030.1 715.9L1033.5 715.7L1037 715.5L1040.5 715.4L1044 715.3L1047.5 715.3L1051 715.3L1054.4 715.4L1057.9 715.5L1061.4 715.7L1064.9 715.9L1068.4 716.2L1071.8 716.5L1075.3 716.9L1078.8 717.3L1082.3 717.7L1085.8 718.2L1089.2 718.8L1092.7 719.4L1096.2 720L1099.7 720.7L1103.2 721.5L1106.6 722.3L1110.1 723.1L1113.6 724L1117.1 724.9L1120.6 725.9L1124 726.9L1127.5 728L1131 729.1L1134.5 730.2L1138 731.4L1141.4 732.7L1144.9 734L1148.4 735.3L1151.9 736.6L1155.4 738.1L1158.8 739.5L1162.3 741L1165.8 742.5L1169.3 744.1L1172.8 745.7L1176.2 747.4L1179.7 749.1L1183.2 750.8L1186.7 752.6L1190.2 754.4L1193.6 756.2L1197.1 758.1L1200.6 760L1204.1 762L1207.6 763.9L1211 766L1214.5 768L1218 770.1L1221.5 772.2L1225 774.4L1228.4 776.5L1231.9 778.7L1235.4 781L1238.9 783.2L1242.4 785.5L1245.8 787.8L1249.3 790.2L1252.8 792.6L1256.3 795L1259.8 797.4L1263.2 799.8L1266.7 802.3L1270.2 804.8L1273.7 807.3L1277.2 809.8L1280.6 812.4L1284.1 814.9L1287.6 817.5L1291.1 820.1L1294.6 822.7L1298 825.4L1301.5 828L1305 830.7L1308.5 833.4L1312 836.1L1315.4 838.8L1318.9 841.5L1322.4 844.2L1325.9 846.9L1329.4 849.7L1332.8 852.4L1336.3 855.2L1339.8 858L1343.3 860.7L1346.8 863.5L1350.3 866.3L1353.7 869L1357.2 871.8L1360.7 874.6L1364.2 877.4L1367.7 880.2L1371.1 882.9L1374.6 885.7L1378.1 888.5L1381.6 891.3L1385.1 894L1388.5 896.8L1392 899.5L1395.5 902.3L1399 905L1402.5 907.7L1405.9 910.4L1409.4 913.1L1412.9 915.8L1416.4 918.5L1419.9 921.2L1423.3 923.8L1426.8 926.5L1430.3 929.1L1433.8 931.7L1437.3 934.3L1440.7 936.8L1444.2 939.4L1447.7 941.9L1451.2 944.4L1454.7 946.9L1458.1 949.4L1461.6 951.8L1465.1 954.3L1468.6 956.6L1472.1 959L1475.5 961.4L1479 963.7L1482.5 966L1486 968.2L1489.5 970.5L1492.9 972.7L1496.4 974.9L1499.9 977" fill="none" stroke="#008000" stroke-width="3.7" stroke-linejoin="round" stroke-linecap="round" />
<path d="M883.9 728.5L887.4 729.7L890.9 730.9L894.3 732.1L897.8 733.3L901.3 734.6L904.8 736L908.3 737.4L911.7 738.8L915.2 740.3L918.7 741.8L922.2 743.4L925.7 745L929.1 746.6L932.6 748.3L936.1 750L939.6 751.7L943.1 753.5L946.5 755.4L950 757.2L953.5 759.1L957 761L960.5 763L963.9 765L967.4 767L970.9 769.1L974.4 771.2L977.9 773.3L981.3 775.5L984.8 777.7L988.3 779.9L991.8 782.2L995.3 784.4L998.7 786.7L1002.2 789.1L1005.7 791.4L1009.2 793.8L1012.7 796.2L1016.1 798.7L1019.6 801.1L1023.1 803.6L1026.6 806.1L1030.1 808.6L1033.5 811.2L1037 813.7L1040.5 816.3L1044 818.9L1047.5 821.5L1051 824.1L1054.4 826.8L1057.9 829.4L1061.4 832.1L1064.9 834.8L1068.4 837.5L1071.8 840.2L1075.3 842.9L1078.8 845.7L1082.3 848.4L1085.8 851.1L1089.2 853.9L1092.7 856.7L1096.2 859.4L1099.7 862.2L1103.2 865L1106.6 867.7L1110.1 870.5L1113.6 873.3L1117.1 876.1L1120.6 878.9L1124 881.6L1127.5 884.4L1131 887.2L1134.5 890L1138 892.7L1141.4 895.5L1144.9 898.2L1148.4 901L1151.9 903.7L1155.4 906.4L1158.8 909.2L1162.3 911.9L1165.8 914.6L1169.3 917.3L1172.8 919.9L1176.2 922.6L1179.7 925.2L1183.2 927.9L1186.7 930.5L1190.2 933.1L1193.6 935.6L1197.1 938.2L1200.6 940.7L1204.1 943.3L1207.6 945.8L1211 948.2L1214.5 950.7L1218 953.1L1221.5 955.5L1225 957.9L1228.4 960.3L1231.9 962.6L1235.4 964.9L1238.9 967.2L1242.4 969.4L1245.8 971.6L1249.3 973.8L1252.8 976L1256.3 978.1L1259.8 980.2L1263.2 982.3L1266.7 984.3L1270.2 986.3L1273.7 988.3L1277.2 990.2L1280.6 992.1L1284.1 994L1287.6 995.8L1291.1 997.6L1294.6 999.3L1298 1001L1301.5 1002.7L1305 1004.3L1308.5 1005.9L1312 1007.5L1315.4 1009L1318.9 1010.5L1322.4 1011.9L1325.9 1013.3L1329.4 1014.6L1332.8 1015.9L1336.3 1017.2L1339.8 1018.4L1343.3 1019.6L1346.8 1020.7L1350.3 1021.8L1353.7 1022.8L1357.2 1023.8L1360.7 1024.8L1364.2 1025.7L1367.7 1026.6L1371.1 1027.4L1374.6 1028.1L1378.1 1028.8L1381.6 1029.5L1385.1 1030.1L1388.5 1030.7L1392 1031.2L1395.5 1031.7L1399 1032.2L1402.5 1032.5L1405.9 1032.9L1409.4 1033.2L1412.9 1033.4L1416.4 1033.6L1419.9 1033.8L1423.3 1033.8L1426.8 1033.9L1430.3 1033.9L1433.8 1033.8L1437.3 1033.7L1440.7 1033.6L1444.2 1033.4L1447.7 1033.2L1451.2 1032.9L1454.7 1032.5L1458.1 1032.1L1461.6 1031.7L1465.1 1031.2L1468.6 1030.7L1472.1 1030.1L1475.5 1029.5L1479 1028.8L1482.5 1028.1L1486 1027.3L1489.5 1026.5L1492.9 1025.6L1496.4 1024.7L1499.9 1023.8" fill="none" stroke="#009900" stroke-width="3.7" stroke-linejoin="round" stroke-linecap="round" />
<path d="M883.9 747.4L887.4 747L890.9 746.6L894.3 746.2L897.8 745.9L901.3 745.6L904.8 745.4L908.3 745.2L911.7 745L915.2 744.9L918.7 744.8L922.2 744.7L925.7 744.7L929.1 744.8L932.6 744.8L936.1 744.9L939.6 745.1L943.1 745.3L946.5 745.5L950 745.8L953.5 746.1L957 746.4L960.5 746.8L963.9 747.2L967.4 747.7L970.9 748.2L974.4 748.7L977.9 749.3L981.3 749.9L984.8 750.6L988.3 751.3L991.8 752L995.3 752.8L998.7 753.6L1002.2 754.4L1005.7 755.3L1009.2 756.2L1012.7 757.2L1016.1 758.2L1019.6 759.2L1023.1 760.2L1026.6 761.3L1030.1 762.5L1033.5 763.6L1037 764.8L1040.5 766L1044 767.3L1047.5 768.6L1051 769.9L1054.4 771.3L1057.9 772.7L1061.4 774.1L1064.9 775.5L1068.4 777L1071.8 778.5L1075.3 780.1L1078.8 781.6L1082.3 783.2L1085.8 784.9L1089.2 786.5L1092.7 788.2L1096.2 789.9L1099.7 791.6L1103.2 793.4L1106.6 795.2L1110.1 797L1113.6 798.8L1117.1 800.7L1120.6 802.5L1124 804.4L1127.5 806.4L1131 808.3L1134.5 810.2L1138 812.2L1141.4 814.2L1144.9 816.2L1148.4 818.3L1151.9 820.3L1155.4 822.4L1158.8 824.5L1162.3 826.6L1165.8 828.7L1169.3 830.8L1172.8 833L1176.2 835.1L1179.7 837.3L1183.2 839.5L1186.7 841.6L1190.2 843.8L1193.6 846L1197.1 848.3L1200.6 850.5L1204.1 852.7L1207.6 855L1211 857.2L1214.5 859.4L1218 861.7L1221.5 864L1225 866.2L1228.4 868.5L1231.9 870.7L1235.4 873L1238.9 875.3L1242.4 877.5L1245.8 879.8L1249.3 882.1L1252.8 884.3L1256.3 886.6L1259.8 888.9L1263.2 891.1L1266.7 893.4L1270.2 895.6L1273.7 897.8L1277.2 900.1L1280.6 902.3L1284.1 904.5L1287.6 906.7L1291.1 908.9L1294.6 911.1L1298 913.2L1301.5 915.4L1305 917.5L1308.5 919.7L1312 921.8L1315.4 923.9L1318.9 926L1322.4 928.1L1325.9 930.1L1329.4 932.1L1332.8 934.2L1336.3 936.2L1339.8 938.2L1343.3 940.1L1346.8 942.1L1350.3 944L1353.7 945.9L1357.2 947.8L1360.7 949.7L1364.2 951.5L1367.7 953.3L1371.1 955.1L1374.6 956.9L1378.1 958.6L1381.6 960.3L1385.1 962L1388.5 963.7L1392 965.3L1395.5 966.9L1399 968.5L1402.5 970.1L1405.9 971.6L1409.4 973.1L1412.9 974.5L1416.4 976L1419.9 977.4L1423.3 978.7L1426.8 980.1L1430.3 981.4L1433.8 982.7L1437.3 983.9L1440.7 985.1L1444.2 986.3L1447.7 987.4L1451.2 988.5L1454.7 989.6L1458.1 990.6L1461.6 991.6L1465.1 992.6L1468.6 993.5L1472.1 994.4L1475.5 995.3L1479 996.1L1482.5 996.9L1486 997.6L1489.5 998.3L1492.9 999L1496.4 999.6L1499.9 1000.2" fill="none" stroke="#0070b8" stroke-width="3.7" stroke-linejoin="round" stroke-linecap="round" />
<path d="M883.9 911.8L887.4 908.7L890.9 905.5L894.3 902.3L897.8 899.2L901.3 896L904.8 892.8L908.3 889.6L911.7 886.4L915.2 883.2L918.7 880L922.2 876.8L925.7 873.6L929.1 870.4L932.6 867.2L936.1 864L939.6 860.8L943.1 857.7L946.5 854.5L950 851.3L953.5 848.1L957 845L960.5 841.8L963.9 838.7L967.4 835.5L970.9 832.4L974.4 829.3L977.9 826.2L981.3 823.1L984.8 820.1L988.3 817L991.8 814L995.3 811L998.7 808L1002.2 805L1005.7 802L1009.2 799.1L1012.7 796.2L1016.1 793.3L1019.6 790.5L1023.1 787.6L1026.6 784.8L1030.1 782.1L1033.5 779.3L1037 776.6L1040.5 773.9L1044 771.2L1047.5 768.6L1051 766L1054.4 763.4L1057.9 760.9L1061.4 758.4L1064.9 756L1068.4 753.5L1071.8 751.2L1075.3 748.8L1078.8 746.5L1082.3 744.2L1085.8 742L1089.2 739.8L1092.7 737.7L1096.2 735.5L1099.7 733.5L1103.2 731.5L1106.6 729.5L1110.1 727.5L1113.6 725.6L1117.1 723.8L1120.6 722L1124 720.2L1127.5 718.5L1131 716.9L1134.5 715.3L1138 713.7L1141.4 712.2L1144.9 710.7L1148.4 709.3L1151.9 708L1155.4 706.6L1158.8 705.4L1162.3 704.2L1165.8 703L1169.3 701.9L1172.8 700.9L1176.2 699.9L1179.7 698.9L1183.2 698L1186.7 697.2L1190.2 696.4L1193.6 695.7L1197.1 695L1200.6 694.4L1204.1 693.8L1207.6 693.3L1211 692.8L1214.5 692.4L1218 692.1L1221.5 691.8L1225 691.6L1228.4 691.4L1231.9 691.3L1235.4 691.2L1238.9 691.2L1242.4 691.2L1245.8 691.3L1249.3 691.5L1252.8 691.7L1256.3 692L1259.8 692.3L1263.2 692.7L1266.7 693.1L1270.2 693.6L1273.7 694.1L1277.2 694.7L1280.6 695.4L1284.1 696.1L1287.6 696.9L1291.1 697.7L1294.6 698.6L1298 699.5L1301.5 700.5L1305 701.5L1308.5 702.6L1312 703.7L1315.4 704.9L1318.9 706.1L1322.4 707.4L1325.9 708.8L1329.4 710.2L1332.8 711.6L1336.3 713.1L1339.8 714.6L1343.3 716.2L1346.8 717.9L1350.3 719.6L1353.7 721.3L1357.2 723.1L1360.7 724.9L1364.2 726.8L1367.7 728.7L1371.1 730.7L1374.6 732.7L1378.1 734.7L1381.6 736.8L1385.1 738.9L1388.5 741.1L1392 743.3L1395.5 745.6L1399 747.9L1402.5 750.2L1405.9 752.6L1409.4 755L1412.9 757.4L1416.4 759.9L1419.9 762.4L1423.3 765L1426.8 767.6L1430.3 770.2L1433.8 772.8L1437.3 775.5L1440.7 778.2L1444.2 781L1447.7 783.7L1451.2 786.5L1454.7 789.3L1458.1 792.2L1461.6 795.1L1465.1 798L1468.6 800.9L1472.1 803.8L1475.5 806.8L1479 809.8L1482.5 812.8L1486 815.8L1489.5 818.8L1492.9 821.9L1496.4 825L1499.9 828.1" fill="none" stroke="#800000" stroke-width="3.7" stroke-linejoin="round" stroke-linecap="round" />
<path d="M883.9 837.4L887.4 840.5L890.9 843.7L894.3 846.9L897.8 850L901.3 853.2L904.8 856.4L908.3 859.6L911.7 862.8L915.2 866L918.7 869.2L922.2 872.4L925.7 875.6L929.1 878.8L932.6 882L936.1 885.2L939.6 888.4L943.1 891.5L946.5 894.7L950 897.9L953.5 901.1L957 904.2L960.5 907.4L963.9 910.5L967.4 913.7L970.9 916.8L974.4 919.9L977.9 923L981.3 926.1L984.8 929.1L988.3 932.2L991.8 935.2L995.3 938.2L998.7 941.2L1002.2 944.2L1005.7 947.2L1009.2 950.1L1012.7 953L1016.1 955.9L1019.6 958.7L1023.1 961.6L1026.6 964.4L1030.1 967.1L1033.5 969.9L1037 972.6L1040.5 975.3L1044 978L1047.5 980.6L1051 983.2L1054.4 985.8L1057.9 988.3L1061.4 990.8L1064.9 993.2L1068.4 995.7L1071.8 998L1075.3 1000.4L1078.8 1002.7L1082.3 1005L1085.8 1007.2L1089.2 1009.4L1092.7 1011.6L1096.2 1013.7L1099.7 1015.7L1103.2 1017.8L1106.6 1019.7L1110.1 1021.7L1113.6 1023.6L1117.1 1025.4L1120.6 1027.2L1124 1029L1127.5 1030.7L1131 1032.3L1134.5 1033.9L1138 1035.5L1141.4 1037L1144.9 1038.5L1148.4 1039.9L1151.9 1041.2L1155.4 1042.6L1158.8 1043.8L1162.3 1045L1165.8 1046.2L1169.3 1047.3L1172.8 1048.3L1176.2 1049.3L1179.7 1050.3L1183.2 1051.2L1186.7 1052L1190.2 1052.8L1193.6 1053.5L1197.1 1054.2L1200.6 1054.8L1204.1 1055.4L1207.6 1055.9L1211 1056.4L1214.5 1056.8L1218 1057.1L1221.5 1057.4L1225 1057.6L1228.4 1057.8L1231.9 1057.9L1235.4 1058L1238.9 1058L1242.4 1058L1245.8 1057.9L1249.3 1057.7L1252.8 1057.5L1256.3 1057.2L1259.8 1056.9L1263.2 1056.5L1266.7 1056.1L1270.2 1055.6L1273.7 1055.1L1277.2 1054.5L1280.6 1053.8L1284.1 1053.1L1287.6 1052.3L1291.1 1051.5L1294.6 1050.7L1298 1049.7L1301.5 1048.7L1305 1047.7L1308.5 1046.6L1312 1045.5L1315.4 1044.3L1318.9 1043.1L1322.4 1041.8L1325.9 1040.4L1329.4 1039L1332.8 1037.6L1336.3 1036.1L1339.8 1034.6L1343.3 1033L1346.8 1031.3L1350.3 1029.6L1353.7 1027.9L1357.2 1026.1L1360.7 1024.3L1364.2 1022.4L1367.7 1020.5L1371.1 1018.5L1374.6 1016.5L1378.1 1014.5L1381.6 1012.4L1385.1 1010.3L1388.5 1008.1L1392 1005.9L1395.5 1003.6L1399 1001.3L1402.5 999L1405.9 996.6L1409.4 994.2L1412.9 991.8L1416.4 989.3L1419.9 986.8L1423.3 984.2L1426.8 981.6L1430.3 979L1433.8 976.4L1437.3 973.7L1440.7 971L1444.2 968.2L1447.7 965.5L1451.2 962.7L1454.7 959.9L1458.1 957L1461.6 954.1L1465.1 951.2L1468.6 948.3L1472.1 945.4L1475.5 942.4L1479 939.4L1482.5 936.4L1486 933.4L1489.5 930.4L1492.9 927.3L1496.4 924.2L1499.9 921.1" fill="none" stroke="#800000" stroke-width="3.7" stroke-linejoin="round" stroke-linecap="round" />
<line x1="1033.3" y1="850.6" x2="1101.34" y2="902.08" stroke="#2040ff" stroke-width="5.8" stroke-linecap="round" stroke-dasharray="0 10.628"/>
<line x1="1027" y1="886" x2="1095.44" y2="936.38" stroke="#2040ff" stroke-width="5.8" stroke-linecap="round" stroke-dasharray="0 10.585"/>
<line x1="1023" y1="922.3" x2="1100.04" y2="977.68" stroke="#0000ff" stroke-width="5.8" stroke-linecap="round" stroke-dasharray="0 10.509"/>
<line x1="1170.4" y1="852.9" x2="1250.15" y2="905.47" stroke="#ff4040" stroke-width="5.8" stroke-linecap="round" stroke-dasharray="0 10.580"/>
<line x1="1164" y1="870.3" x2="1243.95" y2="924.07" stroke="#ff4040" stroke-width="5.8" stroke-linecap="round" stroke-dasharray="0 10.672"/>
<line x1="1158" y1="887.3" x2="1236.15" y2="942.07" stroke="#ff4040" stroke-width="5.8" stroke-linecap="round" stroke-dasharray="0 10.570"/>
<line x1="1245" y1="810.7" x2="1322.75" y2="865.17" stroke="#ff4040" stroke-width="5.8" stroke-linecap="round" stroke-dasharray="0 10.514"/>
<line x1="1238.6" y1="829.6" x2="1317.25" y2="882.47" stroke="#ff4040" stroke-width="5.8" stroke-linecap="round" stroke-dasharray="0 10.496"/>
<line x1="1232.3" y1="848.2" x2="1311.85" y2="900.36" stroke="#ff4040" stroke-width="5.8" stroke-linecap="round" stroke-dasharray="0 10.537"/>
<line x1="1388" y1="780" x2="1464.84" y2="836.58" stroke="#2040ff" stroke-width="5.8" stroke-linecap="round" stroke-dasharray="0 10.569"/>
<line x1="1382" y1="814.4" x2="1458.84" y2="870.78" stroke="#2040ff" stroke-width="5.8" stroke-linecap="round" stroke-dasharray="0 10.556"/>
<line x1="1375.6" y1="848.2" x2="1452.24" y2="905.18" stroke="#2040ff" stroke-width="5.8" stroke-linecap="round" stroke-dasharray="0 10.578"/>
<path d="M883.9 837.4L889.1 842.1L894.3 846.9L899.6 851.6L904.8 856.4L910 861.2L915.2 866L920.4 870.8L925.7 875.6L930.9 880.4L936.1 885.2L941.3 890L946.5 894.7L951.8 899.5L957 904.2L962.2 909L967.4 913.7L972.6 918.4L977.9 923L983.1 927.6L988.3 932.2L993.5 936.7L998.7 941.2L1004 945.7L1009.2 950.1L1014.4 954.4L1019.6 958.7L1024.8 963L1030.1 967.1L1035.3 971.3L1040.5 975.4L1041.2 975.9L1041.9 976.4L1042.6 976.9L1043.3 977.5L1044 978L1044.7 978.5L1045.4 979L1045.7 979.3L1046.1 979.6L1046.8 980.1L1047.5 980.6L1048.2 981.1L1048.9 981.6L1049.6 982.1L1050.3 982.6L1051 983.1L1051.6 983.6L1052.3 984.1L1053 984.5L1053.7 984.9L1054.4 985.3L1055.1 985.6L1055.8 985.6L1056.2 985.5L1056.5 985.1L1057.2 983.7L1057.9 981.9L1058.6 979.6L1059.3 976.9L1060 973.5L1060.7 968.8L1061.4 962.5L1062.1 955.1L1062.8 947L1063.5 936.7L1064.2 924.9L1064.9 912.7L1065.6 901.5L1066.3 892.2L1066.6 887.9L1067 883.9L1067.7 876.7L1068.4 870.7L1069 865.2L1069.7 860.7L1070.4 857.5L1071.1 855.5L1071.8 853.8L1072.5 852.6L1073.2 851.5L1073.9 850.5L1074.6 849.5L1075.3 848.6L1076 847.9L1076.7 847.6L1077.1 847.5L1077.4 847.4L1078.1 847.4L1078.8 847.6L1079.5 847.9L1080.2 848.2L1080.9 848.6L1081.6 849L1082.3 849.4L1083 849.9L1083.7 850.3L1084.4 850.8L1085.1 851.3L1085.8 851.8L1086.4 852.3L1087.1 852.8L1087.5 853.1L1087.8 853.3L1088.5 853.9L1092.7 857.1L1097.9 860.8L1103.2 865L1108.4 869.1L1113.6 873.3L1118.8 877.5L1124 881.6L1129.3 885.8L1134.5 890L1139.7 894.1L1144.9 898.2L1150.1 902.3L1155.4 906.4L1160.6 910.5L1165.8 914.6L1171 918.5L1172.8 919.8L1173.5 920.4L1174.2 920.9L1174.8 921.4L1175.5 921.9L1176.2 922.4L1176.9 922.9L1177.6 923.4L1178.3 923.9L1179 924.4L1179.7 924.9L1180.4 925.4L1181.1 925.9L1181.5 926.1L1181.8 926.4L1182.5 926.8L1183.2 927.3L1183.9 927.7L1184.6 928.2L1185.3 928.6L1186 928.9L1186.7 929.3L1187.4 929.6L1188.1 929.8L1188.8 929.9L1189.5 929.9L1190.2 929.7L1190.9 929.3L1191.6 928.8L1191.9 928.5L1192.2 928.2L1192.9 927.4L1193.6 926.4L1194.3 925.3L1195 924L1195.7 922.5L1196.4 920.7L1197.1 918.6L1197.8 916.4L1198.5 913.9L1199.2 911.3L1199.9 908.6L1200.6 905.7L1201.3 902.8L1202 899.9L1202.3 898.4L1202.7 896.9L1203.4 893.7L1204.1 890.1L1204.8 886.2L1205.5 882.4L1206.2 878.6L1206.9 875.3L1207.6 872.4L1208.3 870.2L1209 868.1L1209.6 866.3L1210.3 864.9L1211 864L1211.7 863.6L1212.4 863.6L1212.8 863.6L1213.1 863.6L1213.8 863.7L1214.5 863.8L1215.2 864L1215.9 864.1L1216.6 864.3L1217.3 864.5L1218 864.7L1218.7 865L1219.4 865.2L1220.1 865.5L1220.8 865.8L1221.5 866.2L1222.2 866.5L1222.9 866.8L1223.2 867L1223.6 867.2L1224.3 867.5L1225 867.9L1225.7 868.3L1226.4 868.7L1227.1 869L1227.7 869.4L1228.4 869.8L1233.7 872.9L1238.9 875.3L1244.1 878.7L1249.3 881.8L1250 882.2L1250.7 882.7L1251.4 883.1L1252.1 883.5L1252.8 883.9L1253.5 884.3L1254.2 884.7L1254.5 884.9L1254.9 885.1L1255.6 885.5L1256.3 885.9L1257 886.3L1257.7 886.7L1258.4 887L1259.1 887.4L1259.8 887.7L1260.5 888L1261.2 888.2L1261.9 888.4L1262.5 888.6L1263.2 888.6L1263.9 888.5L1264.6 888.3L1265 888.2L1265.3 888L1266 887.4L1266.7 886.7L1267.4 885.8L1268.1 884.9L1268.8 884L1269.5 883L1270.2 881.7L1270.9 880L1271.6 877.3L1272.3 873.2L1273 868.4L1273.7 863.4L1274.4 858.7L1275.1 854.8L1275.4 853L1275.8 851.2L1276.5 847.8L1277.2 844.5L1277.9 841.4L1278.6 838.5L1279.3 835.8L1279.9 833.2L1280.6 830.8L1281.3 828.6L1282 826.7L1282.7 825.2L1283.4 824.1L1284.1 823.3L1284.8 822.6L1285.5 822.1L1285.9 821.9L1286.2 821.7L1286.9 821.4L1287.6 821.3L1288.3 821.2L1289 821.3L1289.7 821.5L1290.4 821.7L1291.1 822L1291.8 822.3L1292.5 822.7L1293.2 823.1L1293.9 823.5L1294.6 823.9L1295.3 824.3L1296 824.8L1296.3 825L1296.7 825.3L1297.4 825.7L1298 826.2L1298.7 826.7L1299.4 827.2L1300.1 827.7L1300.8 828.2L1301.5 828.7L1306.7 832.5L1312 836.1L1317.2 840.1L1322.4 844.2L1327.6 848.3L1332.8 852.4L1338.1 856.6L1343.3 860.7L1348.5 864.9L1353.7 869L1359 873.2L1364.2 877.4L1369.4 881.6L1374.6 885.7L1379.8 889.9L1385.1 894L1390.3 898.1L1392 899.4L1392.7 900L1393.4 900.5L1394.1 901.1L1394.8 901.6L1395.5 902.1L1396.2 902.7L1396.9 903.2L1397.6 903.7L1398.3 904.2L1399 904.8L1399.7 905.3L1400.4 905.8L1400.7 906L1401.1 906.3L1401.8 906.8L1402.5 907.2L1403.1 907.7L1403.8 908.1L1404.5 908.4L1405.2 908.7L1405.9 908.8L1406.6 908.5L1407.3 907.8L1408 906.9L1408.7 905.6L1409.4 904L1410.1 901.8L1410.8 898.8L1411.2 897.2L1411.5 895.2L1412.2 889.3L1412.9 879.7L1413.6 840L1414.3 824.6L1415 814.1L1415.7 806.3L1416.4 799.1L1417.1 792.1L1417.8 785.8L1418.5 780.5L1419.2 776.5L1419.9 773.7L1420.6 771.6L1421.2 770L1421.6 769.3L1421.9 768.7L1422.6 767.7L1423.3 767.3L1424 767.2L1424.7 767.4L1425.4 767.6L1426.1 768L1426.8 768.4L1427.5 768.8L1428.2 769.2L1428.9 769.7L1429.6 770.2L1430.3 770.7L1431 771.1L1431.7 771.6L1432 771.9L1432.4 772.1L1433.1 772.6L1433.8 773.2L1434.5 773.7L1435.2 774.2L1435.9 774.7L1436.6 775.2L1437.3 775.8L1442.5 779.8L1447.7 783.7L1452.9 787.9L1458.1 792.2L1463.4 796.5L1468.6 800.9L1473.8 805.3L1479 809.8L1484.2 814.3L1489.5 818.8L1494.7 823.4L1499.9 828.1" fill="none" stroke="#000" stroke-width="6.5" stroke-linejoin="round" stroke-linecap="round" />
</g>
<rect x="895" y="657" width="548" height="42.3" fill="#fff"/>
<rect x="990" y="1071.6" width="412" height="38.6" fill="#fff"/>
<path d="M120.1 14v9.5 M120.1 510.5v-9.5M212.4 14v9.5 M212.4 510.5v-9.5M304.8 14v9.5 M304.8 510.5v-9.5M397.1 14v9.5 M397.1 510.5v-9.5M489.5 14v9.5 M489.5 510.5v-9.5M581.8 14v9.5 M581.8 510.5v-9.5M674.2 14v9.5 M674.2 510.5v-9.5M166.2 14v5 M166.2 510.5v-5M258.6 14v5 M258.6 510.5v-5M350.9 14v5 M350.9 510.5v-5M443.3 14v5 M443.3 510.5v-5M535.7 14v5 M535.7 510.5v-5M628 14v5 M628 510.5v-5M720.4 14v5 M720.4 510.5v-5M113.9 510.5h9.5 M729.6 510.5h-9.5M113.9 460.9h9.5 M729.6 460.9h-9.5M113.9 411.2h9.5 M729.6 411.2h-9.5M113.9 361.6h9.5 M729.6 361.6h-9.5M113.9 311.9h9.5 M729.6 311.9h-9.5M113.9 262.2h9.5 M729.6 262.2h-9.5M113.9 212.6h9.5 M729.6 212.6h-9.5M113.9 163h9.5 M729.6 163h-9.5M113.9 113.3h9.5 M729.6 113.3h-9.5M113.9 63.6h9.5 M729.6 63.6h-9.5M113.9 14h9.5 M729.6 14h-9.5M113.9 485.7h5 M729.6 485.7h-5M113.9 436h5 M729.6 436h-5M113.9 386.4h5 M729.6 386.4h-5M113.9 336.7h5 M729.6 336.7h-5M113.9 287.1h5 M729.6 287.1h-5M113.9 237.4h5 M729.6 237.4h-5M113.9 187.8h5 M729.6 187.8h-5M113.9 138.1h5 M729.6 138.1h-5M113.9 88.5h5 M729.6 88.5h-5M113.9 38.8h5 M729.6 38.8h-5" stroke="#000" stroke-width="2" fill="none"/>
<rect x="113.9" y="14" width="615.7" height="496.5" fill="none" stroke="#000" stroke-width="2.2"/>
<g font-family='"Liberation Sans", sans-serif' font-weight="bold" font-size="32.5" fill="#000" stroke="#000" stroke-width="0.4">
<g text-anchor="middle">
<text x="120.1" y="545.5">0</text>
<text x="212.4" y="545.5">30</text>
<text x="304.8" y="545.5">60</text>
<text x="397.1" y="545.5">90</text>
<text x="489.5" y="545.5">120</text>
<text x="581.8" y="545.5">150</text>
<text x="674.2" y="545.5">180</text>
</g><g text-anchor="end">
<text x="102.3" y="519.7">-50</text>
<text x="102.3" y="470.1">-40</text>
<text x="102.3" y="420.4">-30</text>
<text x="102.3" y="370.8">-20</text>
<text x="102.3" y="321.1">-10</text>
<text x="102.3" y="271.5">0</text>
<text x="102.3" y="221.8">10</text>
<text x="102.3" y="172.2">20</text>
<text x="102.3" y="122.5">30</text>
<text x="102.3" y="72.9">40</text>
<text x="102.3" y="23.2">50</text>
</g></g>
<path d="M905.9 12.5v9.5 M905.9 508.7v-9.5M975.4 12.5v9.5 M975.4 508.7v-9.5M1045 12.5v9.5 M1045 508.7v-9.5M1114.6 12.5v9.5 M1114.6 508.7v-9.5M1184.2 12.5v9.5 M1184.2 508.7v-9.5M1253.8 12.5v9.5 M1253.8 508.7v-9.5M1323.3 12.5v9.5 M1323.3 508.7v-9.5M1392.9 12.5v9.5 M1392.9 508.7v-9.5M1462.5 12.5v9.5 M1462.5 508.7v-9.5M940.6 12.5v5 M940.6 508.7v-5M1010.2 12.5v5 M1010.2 508.7v-5M1079.8 12.5v5 M1079.8 508.7v-5M1149.4 12.5v5 M1149.4 508.7v-5M1219 12.5v5 M1219 508.7v-5M1288.6 12.5v5 M1288.6 508.7v-5M1358.1 12.5v5 M1358.1 508.7v-5M1427.7 12.5v5 M1427.7 508.7v-5M1497.3 12.5v5 M1497.3 508.7v-5M881.5 459.1h9.5 M1497.3 459.1h-9.5M881.5 359.8h9.5 M1497.3 359.8h-9.5M881.5 260.6h9.5 M1497.3 260.6h-9.5M881.5 161.4h9.5 M1497.3 161.4h-9.5M881.5 62.1h9.5 M1497.3 62.1h-9.5M881.5 409.5h5 M1497.3 409.5h-5M881.5 310.2h5 M1497.3 310.2h-5M881.5 211h5 M1497.3 211h-5M881.5 111.7h5 M1497.3 111.7h-5" stroke="#000" stroke-width="2" fill="none"/>
<rect x="881.5" y="12.5" width="615.8" height="496.2" fill="none" stroke="#000" stroke-width="2.2"/>
<g font-family='"Liberation Sans", sans-serif' font-weight="bold" font-size="32.5" fill="#000" stroke="#000" stroke-width="0.4">
<g text-anchor="middle">
<text x="905.9" y="543.7">-40</text>
<text x="975.4" y="543.7">-20</text>
<text x="1045" y="543.7">0</text>
<text x="1114.6" y="543.7">20</text>
<text x="1184.2" y="543.7">40</text>
<text x="1253.8" y="543.7">60</text>
<text x="1323.3" y="543.7">80</text>
<text x="1392.9" y="543.7">100</text>
<text x="1462.5" y="543.7">120</text>
</g><g text-anchor="end">
<text x="869.9" y="468.3">-20</text>
<text x="869.9" y="369.1">-10</text>
<text x="869.9" y="269.8">0</text>
<text x="869.9" y="170.6">10</text>
<text x="869.9" y="71.4">20</text>
</g></g>
<path d="M118.7 627.7v9.5 M118.7 1124.3v-9.5M211 627.7v9.5 M211 1124.3v-9.5M303.4 627.7v9.5 M303.4 1124.3v-9.5M395.8 627.7v9.5 M395.8 1124.3v-9.5M488.2 627.7v9.5 M488.2 1124.3v-9.5M580.6 627.7v9.5 M580.6 1124.3v-9.5M673 627.7v9.5 M673 1124.3v-9.5M164.9 627.7v5 M164.9 1124.3v-5M257.2 627.7v5 M257.2 1124.3v-5M349.6 627.7v5 M349.6 1124.3v-5M442 627.7v5 M442 1124.3v-5M534.4 627.7v5 M534.4 1124.3v-5M626.8 627.7v5 M626.8 1124.3v-5M719.2 627.7v5 M719.2 1124.3v-5M112.5 1098.7h9.5 M728.4 1098.7h-9.5M112.5 1024.7h9.5 M728.4 1024.7h-9.5M112.5 950.6h9.5 M728.4 950.6h-9.5M112.5 876.6h9.5 M728.4 876.6h-9.5M112.5 802.5h9.5 M728.4 802.5h-9.5M112.5 728.4h9.5 M728.4 728.4h-9.5M112.5 654.4h9.5 M728.4 654.4h-9.5M112.5 1061.7h5 M728.4 1061.7h-5M112.5 987.7h5 M728.4 987.7h-5M112.5 913.6h5 M728.4 913.6h-5M112.5 839.5h5 M728.4 839.5h-5M112.5 765.5h5 M728.4 765.5h-5M112.5 691.4h5 M728.4 691.4h-5" stroke="#000" stroke-width="2" fill="none"/>
<rect x="112.5" y="627.7" width="615.9" height="496.6" fill="none" stroke="#000" stroke-width="2.2"/>
<g font-family='"Liberation Sans", sans-serif' font-weight="bold" font-size="32.5" fill="#000" stroke="#000" stroke-width="0.4">
<g text-anchor="middle">
<text x="118.7" y="1159.3">0</text>
<text x="211" y="1159.3">30</text>
<text x="303.4" y="1159.3">60</text>
<text x="395.8" y="1159.3">90</text>
<text x="488.2" y="1159.3">120</text>
<text x="580.6" y="1159.3">150</text>
<text x="673" y="1159.3">180</text>
</g><g text-anchor="end">
<text x="100.9" y="1108">-6</text>
<text x="100.9" y="1033.9">-4</text>
<text x="100.9" y="959.9">-2</text>
<text x="100.9" y="885.8">0</text>
<text x="100.9" y="811.7">2</text>
<text x="100.9" y="737.7">4</text>
<text x="100.9" y="663.6">6</text>
</g></g>
<path d="M908.3 626.6v9.5 M908.3 1123v-9.5M977.9 626.6v9.5 M977.9 1123v-9.5M1047.5 626.6v9.5 M1047.5 1123v-9.5M1117.1 626.6v9.5 M1117.1 1123v-9.5M1186.7 626.6v9.5 M1186.7 1123v-9.5M1256.3 626.6v9.5 M1256.3 1123v-9.5M1325.9 626.6v9.5 M1325.9 1123v-9.5M1395.5 626.6v9.5 M1395.5 1123v-9.5M1465.1 626.6v9.5 M1465.1 1123v-9.5M943.1 626.6v5 M943.1 1123v-5M1012.7 626.6v5 M1012.7 1123v-5M1082.3 626.6v5 M1082.3 1123v-5M1151.9 626.6v5 M1151.9 1123v-5M1221.5 626.6v5 M1221.5 1123v-5M1291.1 626.6v5 M1291.1 1123v-5M1360.7 626.6v5 M1360.7 1123v-5M1430.3 626.6v5 M1430.3 1123v-5M1499.9 626.6v5 M1499.9 1123v-5M883.9 1072.9h9.5 M1499.9 1072.9h-9.5M883.9 1006.8h9.5 M1499.9 1006.8h-9.5M883.9 940.7h9.5 M1499.9 940.7h-9.5M883.9 874.6h9.5 M1499.9 874.6h-9.5M883.9 808.5h9.5 M1499.9 808.5h-9.5M883.9 742.4h9.5 M1499.9 742.4h-9.5M883.9 676.3h9.5 M1499.9 676.3h-9.5M883.9 1105.9h5 M1499.9 1105.9h-5M883.9 1039.8h5 M1499.9 1039.8h-5M883.9 973.7h5 M1499.9 973.7h-5M883.9 907.7h5 M1499.9 907.7h-5M883.9 841.6h5 M1499.9 841.6h-5M883.9 775.5h5 M1499.9 775.5h-5M883.9 709.4h5 M1499.9 709.4h-5M883.9 643.3h5 M1499.9 643.3h-5" stroke="#000" stroke-width="2" fill="none"/>
<rect x="883.9" y="626.6" width="616" height="496.4" fill="none" stroke="#000" stroke-width="2.2"/>
<g font-family='"Liberation Sans", sans-serif' font-weight="bold" font-size="32.5" fill="#000" stroke="#000" stroke-width="0.4">
<g text-anchor="middle">
<text x="908.3" y="1158">-40</text>
<text x="977.9" y="1158">-20</text>
<text x="1047.5" y="1158">0</text>
<text x="1117.1" y="1158">20</text>
<text x="1186.7" y="1158">40</text>
<text x="1256.3" y="1158">60</text>
<text x="1325.9" y="1158">80</text>
<text x="1395.5" y="1158">100</text>
<text x="1465.1" y="1158">120</text>
</g><g text-anchor="end">
<text x="872.3" y="1082.1">-6</text>
<text x="872.3" y="1016">-4</text>
<text x="872.3" y="949.9">-2</text>
<text x="872.3" y="883.8">0</text>
<text x="872.3" y="817.7">2</text>
<text x="872.3" y="751.6">4</text>
<text x="872.3" y="685.5">6</text>
</g></g>
<text x="9.3" y="31.5" font-family='"Liberation Sans", sans-serif' font-weight="bold" font-size="32.5" text-anchor="start" stroke="#000" stroke-width="0.4" >(a)</text>
<text x="777" y="30.5" font-family='"Liberation Sans", sans-serif' font-weight="bold" font-size="32.5" text-anchor="start" stroke="#000" stroke-width="0.4" >(b)</text>
<text x="8.3" y="646.3" font-family='"Liberation Sans", sans-serif' font-weight="bold" font-size="32.5" text-anchor="start" stroke="#000" stroke-width="0.4" >(c)</text>
<text x="779.8" y="644.3" font-family='"Liberation Sans", sans-serif' font-weight="bold" font-size="32.5" text-anchor="start" stroke="#000" stroke-width="0.4" >(d)</text>
<text x="421.5" y="604" text-anchor="middle" font-size="34" fill="#000" stroke="#000" stroke-width="0.55"><tspan font-family='"Liberation Serif", serif' font-size="35">θ</tspan><tspan font-family='"Liberation Sans", sans-serif'> (°)</tspan></text>
<text x="1189.5" y="602" text-anchor="middle" font-size="34" fill="#000" stroke="#000" stroke-width="0.55"><tspan font-family='"Liberation Serif", serif' font-size="35">θ</tspan><tspan font-family='"Liberation Sans", sans-serif'> (°)</tspan></text>
<text x="420.5" y="1217" text-anchor="middle" font-size="34" fill="#000" stroke="#000" stroke-width="0.55"><tspan font-family='"Liberation Serif", serif' font-size="35">θ</tspan><tspan font-family='"Liberation Sans", sans-serif'> (°)</tspan></text>
<text x="1191.5" y="1211" text-anchor="middle" font-size="34" fill="#000" stroke="#000" stroke-width="0.55"><tspan font-family='"Liberation Serif", serif' font-size="35">θ</tspan><tspan font-family='"Liberation Sans", sans-serif'> (°)</tspan></text>
<text transform="translate(24.4 252) rotate(-90)" text-anchor="middle" font-size="32.5" font-weight="bold" font-family='"Liberation Sans", sans-serif' fill="#000" stroke="#000" stroke-width="0.4">ΔC (fF)</text>
<text transform="translate(808.4 250.5) rotate(-90)" text-anchor="middle" font-size="32.5" font-weight="bold" font-family='"Liberation Sans", sans-serif' fill="#000" stroke="#000" stroke-width="0.4">ΔC (fF)</text>
<text transform="translate(56 864) rotate(-90)" text-anchor="middle" font-size="32.5" font-weight="bold" font-family='"Liberation Sans", sans-serif' fill="#000" stroke="#000" stroke-width="0.4"><tspan font-family='"Liberation Serif", serif' font-weight="normal" font-size="34" stroke="#000" stroke-width="0.5">τ</tspan> (arb. units)</text>
<text transform="translate(828 863) rotate(-90)" text-anchor="middle" font-size="32.5" font-weight="bold" font-family='"Liberation Sans", sans-serif' fill="#000" stroke="#000" stroke-width="0.4"><tspan font-family='"Liberation Serif", serif' font-weight="normal" font-size="34" stroke="#000" stroke-width="0.5">τ</tspan> (arb. units)</text>
<text x="118" y="155.8" font-family='"Liberation Sans", sans-serif' font-weight="bold" font-size="25.9" text-anchor="start" stroke="#000" stroke-width="0.4" >[100]</text>
<text x="268.4" y="45.6" font-family='"Liberation Sans", sans-serif' font-weight="bold" font-size="25.9" text-anchor="start" stroke="#000" stroke-width="0.4" >[110]</text>
<text x="367.4" y="153" font-family='"Liberation Sans", sans-serif' font-weight="bold" font-size="25.9" text-anchor="start" stroke="#000" stroke-width="0.4" >[010]</text>
<text x="540" y="45.1" font-family='"Liberation Sans", sans-serif' font-weight="bold" font-size="25.9" text-anchor="start" stroke="#000" stroke-width="0.4" >[110]</text>
<line x1="548.4" y1="24.5" x2="563" y2="24.5" stroke="#000" stroke-width="2.4"/>
<text x="638" y="156.5" font-family='"Liberation Sans", sans-serif' font-weight="bold" font-size="25.9" text-anchor="start" stroke="#000" stroke-width="0.4" >[100]</text>
<line x1="646.4" y1="135.9" x2="661" y2="135.9" stroke="#000" stroke-width="2.4"/>
<line x1="551.5" y1="313.9" x2="609.5" y2="313.9" stroke="#ff0000" stroke-width="6" stroke-linecap="round"/>
<text x="661" y="322.8" font-family='"Liberation Sans", sans-serif' font-weight="bold" font-size="26" text-anchor="end" stroke="#000" stroke-width="0.4" >2T</text>
<line x1="551.5" y1="345.8" x2="609.5" y2="345.8" stroke="#008000" stroke-width="6" stroke-linecap="round"/>
<text x="661" y="354.7" font-family='"Liberation Sans", sans-serif' font-weight="bold" font-size="26" text-anchor="end" stroke="#000" stroke-width="0.4" >4T</text>
<line x1="551.5" y1="377.8" x2="609.5" y2="377.8" stroke="#000" stroke-width="6" stroke-linecap="round"/>
<text x="661" y="386.7" font-family='"Liberation Sans", sans-serif' font-weight="bold" font-size="26" text-anchor="end" stroke="#000" stroke-width="0.4" >6T</text>
<line x1="551.5" y1="409.8" x2="609.5" y2="409.8" stroke="#0000ff" stroke-width="6" stroke-linecap="round"/>
<text x="661" y="418.7" font-family='"Liberation Sans", sans-serif' font-weight="bold" font-size="26" text-anchor="end" stroke="#000" stroke-width="0.4" >8T</text>
<line x1="551.5" y1="441.8" x2="609.5" y2="441.8" stroke="#800000" stroke-width="6" stroke-linecap="round"/>
<text x="661" y="450.7" font-family='"Liberation Sans", sans-serif' font-weight="bold" font-size="26" text-anchor="end" stroke="#000" stroke-width="0.4" >11T</text>
<text x="886.1" y="169" font-family='"Liberation Sans", sans-serif' font-weight="bold" font-size="25.9" text-anchor="start" stroke="#000" stroke-width="0.4" >[001]</text>
<line x1="923.3" y1="148.4" x2="937.9" y2="148.4" stroke="#000" stroke-width="2.4"/>
<text x="1002" y="169" font-family='"Liberation Sans", sans-serif' font-weight="bold" font-size="25.9" text-anchor="start" stroke="#000" stroke-width="0.4" >[112]</text>
<line x1="1039.2" y1="148.4" x2="1053.8" y2="148.4" stroke="#000" stroke-width="2.4"/>
<text x="1081.4" y="169" font-family='"Liberation Sans", sans-serif' font-weight="bold" font-size="25.9" text-anchor="start" stroke="#000" stroke-width="0.4" >[111]</text>
<line x1="1118.6" y1="148.4" x2="1133.2" y2="148.4" stroke="#000" stroke-width="2.4"/>
<text x="1194.6" y="169" font-family='"Liberation Sans", sans-serif' font-weight="bold" font-size="25.9" text-anchor="start" stroke="#000" stroke-width="0.4" >[110]</text>
<text x="1326.2" y="169" font-family='"Liberation Sans", sans-serif' font-weight="bold" font-size="25.9" text-anchor="start" stroke="#000" stroke-width="0.4" >[111]</text>
<text x="1421.9" y="364.9" font-family='"Liberation Sans", sans-serif' font-weight="bold" font-size="25.9" text-anchor="start" stroke="#000" stroke-width="0.4" >[112]</text>
<line x1="1241" y1="350.6" x2="1299" y2="350.6" stroke="#0000ff" stroke-width="6" stroke-linecap="round"/>
<text x="1349.3" y="359.5" font-family='"Liberation Sans", sans-serif' font-weight="bold" font-size="26" text-anchor="end" stroke="#000" stroke-width="0.4" >1T</text>
<line x1="1241" y1="382.7" x2="1299" y2="382.7" stroke="#ff0000" stroke-width="6" stroke-linecap="round"/>
<text x="1349.3" y="391.6" font-family='"Liberation Sans", sans-serif' font-weight="bold" font-size="26" text-anchor="end" stroke="#000" stroke-width="0.4" >2T</text>
<line x1="1241" y1="414.7" x2="1299" y2="414.7" stroke="#008000" stroke-width="6" stroke-linecap="round"/>
<text x="1349.3" y="423.6" font-family='"Liberation Sans", sans-serif' font-weight="bold" font-size="26" text-anchor="end" stroke="#000" stroke-width="0.4" >4T</text>
<line x1="1241" y1="446.7" x2="1299" y2="446.7" stroke="#000" stroke-width="6" stroke-linecap="round"/>
<text x="1349.3" y="455.6" font-family='"Liberation Sans", sans-serif' font-weight="bold" font-size="26" text-anchor="end" stroke="#000" stroke-width="0.4" >6T</text>
<line x1="1241" y1="478.7" x2="1299" y2="478.7" stroke="#800000" stroke-width="6" stroke-linecap="round"/>
<text x="1349.3" y="487.6" font-family='"Liberation Sans", sans-serif' font-weight="bold" font-size="26" text-anchor="end" stroke="#000" stroke-width="0.4" >11T</text>
<text x="122.5" y="662.5" font-family='"Liberation Sans", sans-serif' font-weight="bold" font-size="25.9" text-anchor="start" stroke="#000" stroke-width="0.4" >[100]</text>
<text x="260.3" y="662.5" font-family='"Liberation Sans", sans-serif' font-weight="bold" font-size="25.9" text-anchor="start" stroke="#000" stroke-width="0.4" >[110]</text>
<text x="400.5" y="662.5" font-family='"Liberation Sans", sans-serif' font-weight="bold" font-size="25.9" text-anchor="start" stroke="#000" stroke-width="0.4" >[010]</text>
<text x="539" y="662.5" font-family='"Liberation Sans", sans-serif' font-weight="bold" font-size="25.9" text-anchor="start" stroke="#000" stroke-width="0.4" >[110]</text>
<line x1="547.4" y1="641.9" x2="562" y2="641.9" stroke="#000" stroke-width="2.4"/>
<text x="640" y="662.5" font-family='"Liberation Sans", sans-serif' font-weight="bold" font-size="25.9" text-anchor="start" stroke="#000" stroke-width="0.4" >[100]</text>
<line x1="648.4" y1="641.9" x2="663" y2="641.9" stroke="#000" stroke-width="2.4"/>
<line x1="132.5" y1="1098.3" x2="172.5" y2="1098.3" stroke="#000" stroke-width="6.5" stroke-linecap="round"/>
<text x="181" y="1107" font-family='"Liberation Sans", sans-serif' font-weight="normal" font-size="25.5" fill="#000" stroke="#000" stroke-width="0.2">6T data</text>
<line x1="276.5" y1="1098.3" x2="318" y2="1098.3" stroke="#800000" stroke-width="3.7" stroke-linecap="round"/>
<text x="326" y="1107" font-family='"Liberation Sans", sans-serif' font-weight="bold" font-size="25.5" fill="#000" stroke="#000" stroke-width="0.4">(2:2)<tspan font-size="18" dy="6.6">0</tspan></text>
<line x1="418.3" y1="1098.3" x2="459.30" y2="1098.30" stroke="#ff4040" stroke-width="5.8" stroke-linecap="round" stroke-dasharray="0 10.175"/>
<text x="469.5" y="1107" font-family='"Liberation Sans", sans-serif' font-weight="bold" font-size="25.5" fill="#000" stroke="#000" stroke-width="0.4"><tspan font-family='"Liberation Serif", serif' font-weight="normal" font-size="27.5" stroke-width="0.7">β</tspan> spin flips</text>
<text x="930.9" y="651.3" font-family='"Liberation Sans", sans-serif' font-weight="bold" font-size="25.9" text-anchor="start" stroke="#000" stroke-width="0.4" >[001]</text>
<line x1="968.1" y1="630.7" x2="982.7" y2="630.7" stroke="#000" stroke-width="2.4"/>
<text x="1025.5" y="651.3" font-family='"Liberation Sans", sans-serif' font-weight="bold" font-size="25.9" text-anchor="start" stroke="#000" stroke-width="0.4" >[112]</text>
<line x1="1062.7" y1="630.7" x2="1077.3" y2="630.7" stroke="#000" stroke-width="2.4"/>
<text x="1121.3" y="651.3" font-family='"Liberation Sans", sans-serif' font-weight="bold" font-size="25.9" text-anchor="start" stroke="#000" stroke-width="0.4" >[111]</text>
<line x1="1158.5" y1="630.7" x2="1173.1" y2="630.7" stroke="#000" stroke-width="2.4"/>
<text x="1243.9" y="651.3" font-family='"Liberation Sans", sans-serif' font-weight="bold" font-size="25.9" text-anchor="start" stroke="#000" stroke-width="0.4" >[110]</text>
<text x="1337.2" y="651.3" font-family='"Liberation Sans", sans-serif' font-weight="bold" font-size="25.9" text-anchor="start" stroke="#000" stroke-width="0.4" >[111]</text>
<text x="1435.2" y="651.3" font-family='"Liberation Sans", sans-serif' font-weight="bold" font-size="25.9" text-anchor="start" stroke="#000" stroke-width="0.4" >[112]</text>
<line x1="915" y1="675.2" x2="955.3" y2="675.2" stroke="#000" stroke-width="6.5" stroke-linecap="round"/>
<text x="965" y="683.9" font-family='"Liberation Sans", sans-serif' font-weight="bold" font-size="25.5" fill="#000" stroke="#000" stroke-width="0.4">6 T data</text>
<line x1="1069.6" y1="675.2" x2="1112.2" y2="675.2" stroke="#800000" stroke-width="3.7" stroke-linecap="round"/>
<text x="1119.5" y="683.9" font-family='"Liberation Sans", sans-serif' font-weight="bold" font-size="25.5" fill="#000" stroke="#000" stroke-width="0.4">(2:2)<tspan font-size="18" dy="6.6">0</tspan></text>
<line x1="1205.4" y1="675.2" x2="1247.1" y2="675.2" stroke="#0070b8" stroke-width="3.7" stroke-linecap="round"/>
<text x="1255.5" y="683.9" font-family='"Liberation Sans", sans-serif' font-weight="bold" font-size="25.5" fill="#000" stroke="#000" stroke-width="0.4">(2:2)<tspan font-size="18" dy="6.6">X</tspan></text>
<line x1="1336" y1="675.2" x2="1377.7" y2="675.2" stroke="#009900" stroke-width="3.7" stroke-linecap="round"/>
<text x="1386" y="683.9" font-family='"Liberation Sans", sans-serif' font-weight="bold" font-size="25.5" fill="#000" stroke="#000" stroke-width="0.4">(3:1)</text>
<line x1="1006.5" y1="1091.6" x2="1044.30" y2="1091.60" stroke="#2040ff" stroke-width="5.8" stroke-linecap="round" stroke-dasharray="0 9.375"/>
<text x="1055" y="1100.6" font-family='"Liberation Sans", sans-serif' font-weight="bold" font-size="25.5" fill="#000" stroke="#000" stroke-width="0.4"><tspan font-family='"Liberation Serif", serif' font-weight="normal" font-size="27.5" stroke-width="0.7">α</tspan> spin flips</text>
<line x1="1214.2" y1="1091.6" x2="1252.00" y2="1091.60" stroke="#ff4040" stroke-width="5.8" stroke-linecap="round" stroke-dasharray="0 9.375"/>
<text x="1263" y="1100.6" font-family='"Liberation Sans", sans-serif' font-weight="bold" font-size="25.5" fill="#000" stroke="#000" stroke-width="0.4"><tspan font-family='"Liberation Serif", serif' font-weight="normal" font-size="27.5" stroke-width="0.7">β</tspan> spin flips</text>
</svg>
</body></html>
